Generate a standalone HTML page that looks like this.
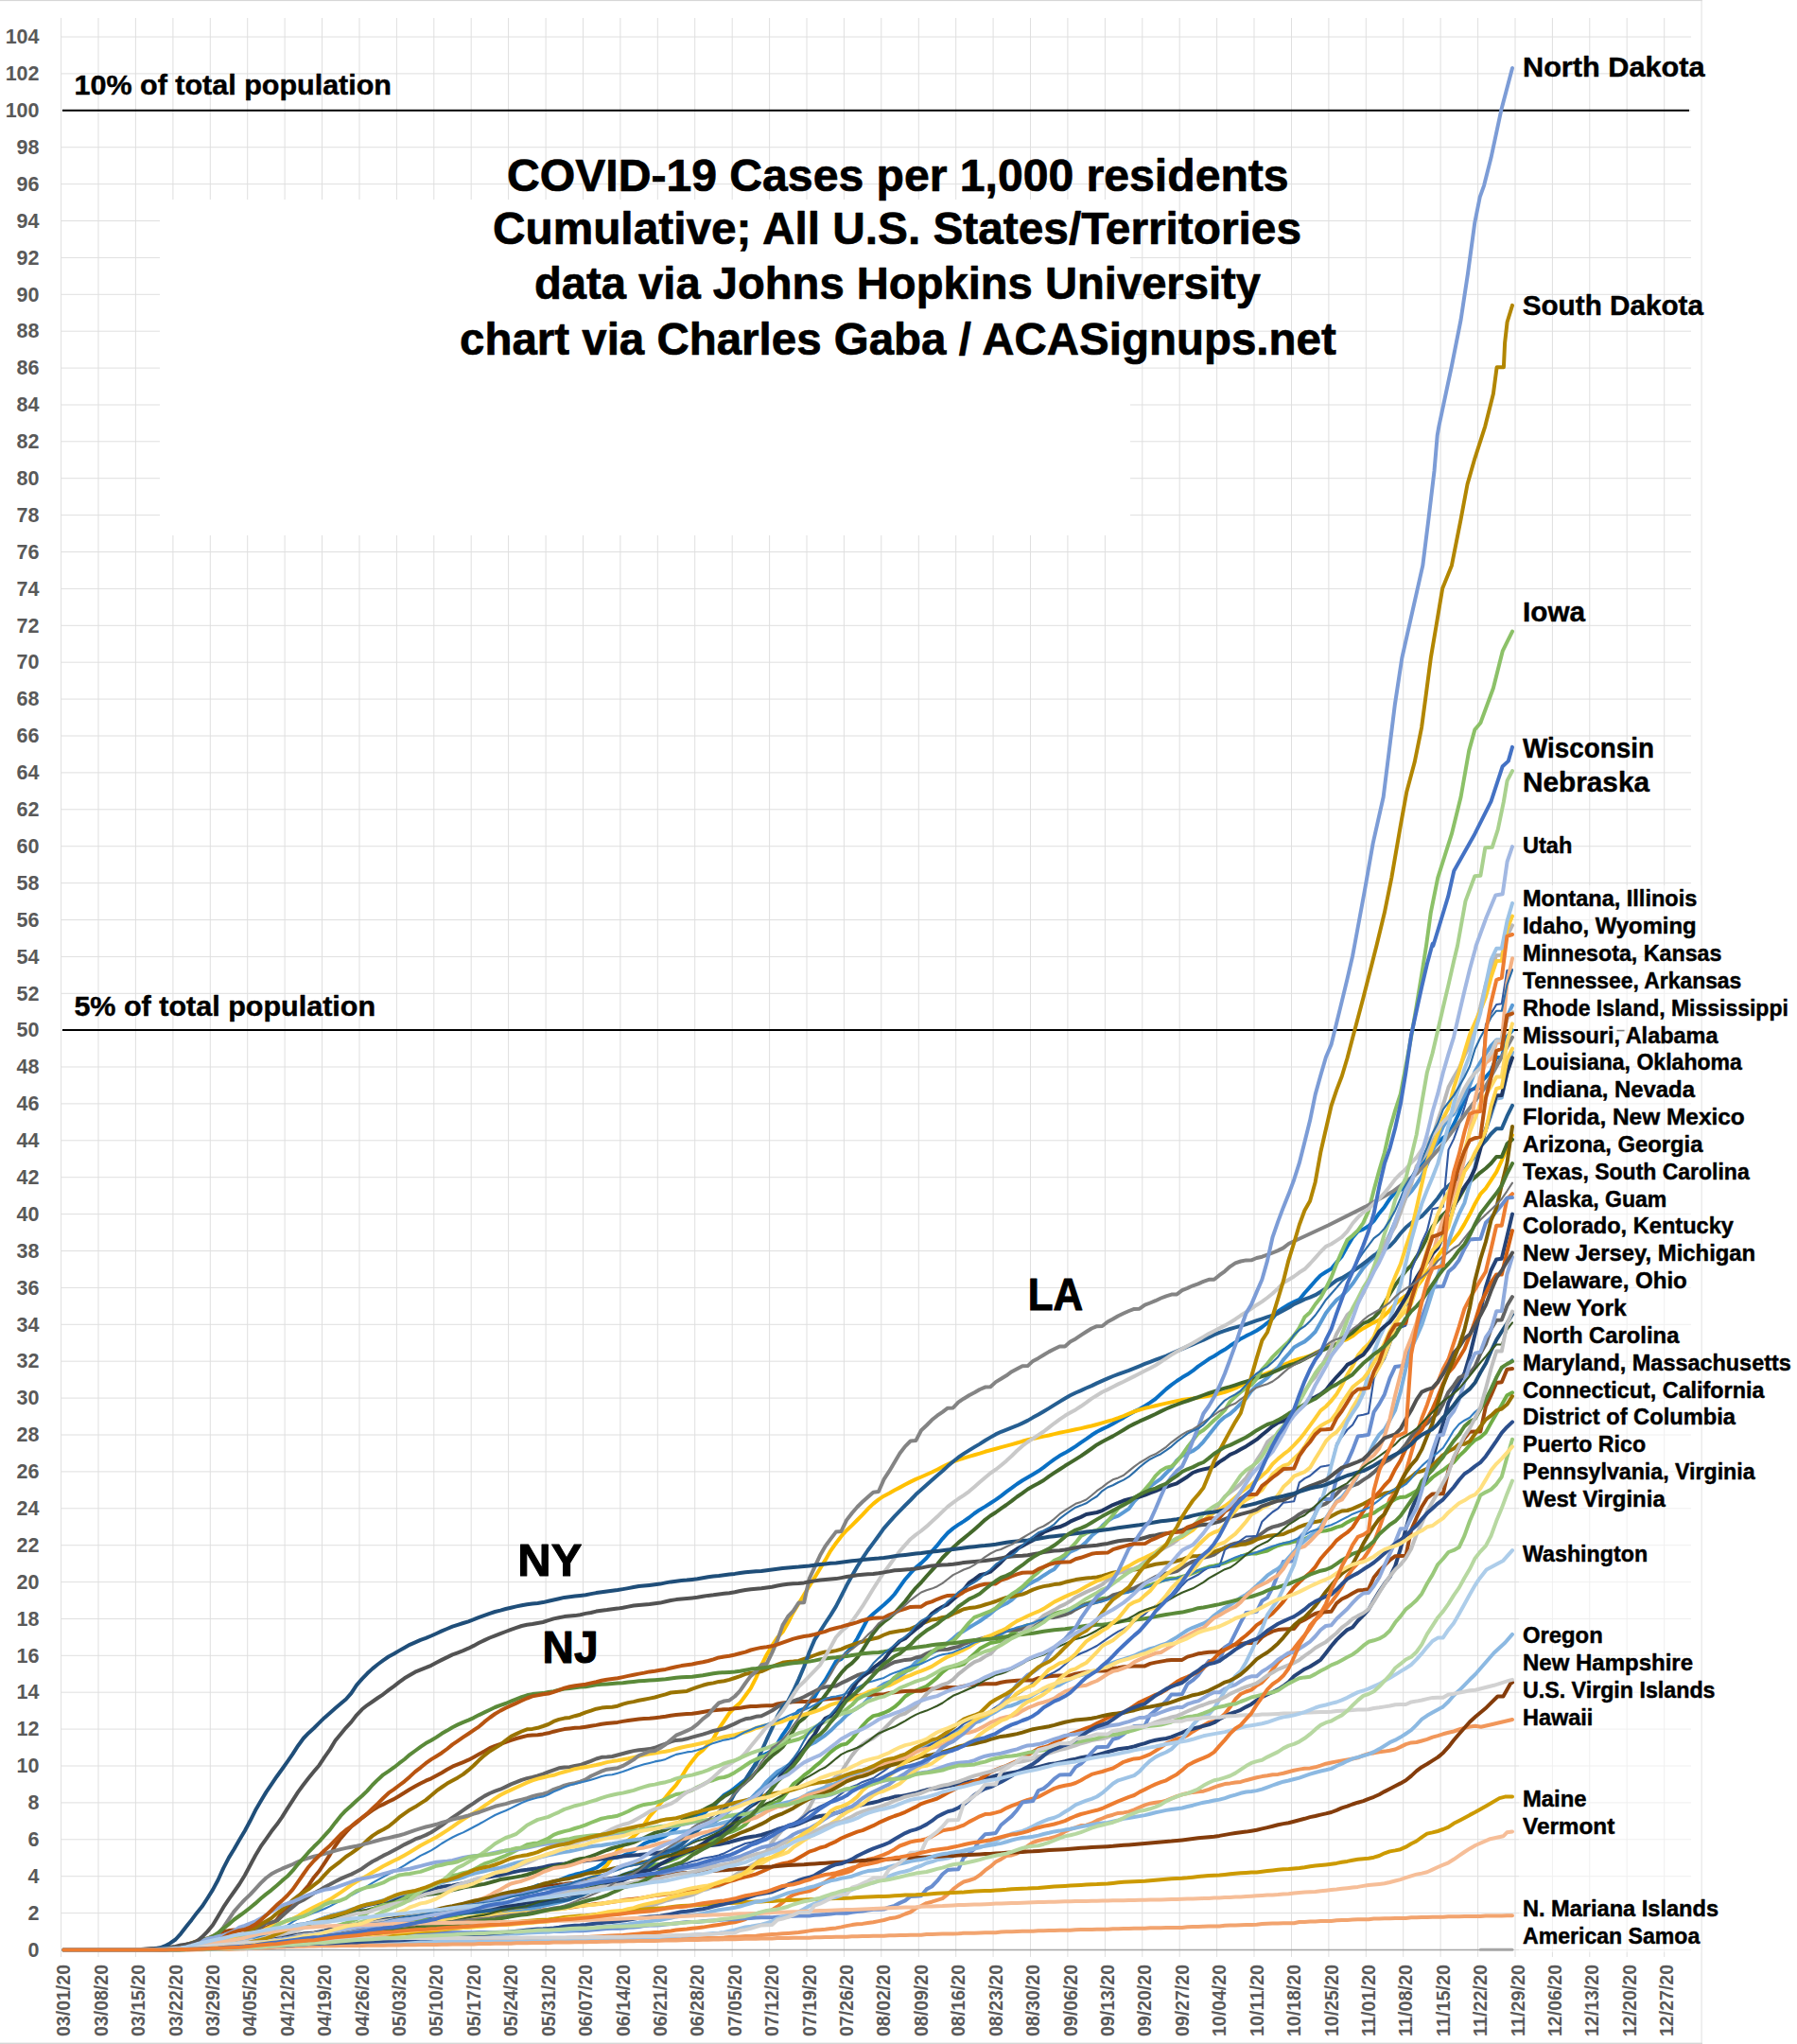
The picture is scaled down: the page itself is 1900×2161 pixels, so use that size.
<!DOCTYPE html>
<html lang="en"><head><meta charset="utf-8"><title>COVID-19 Cases per 1,000 residents</title>
<style>html,body{margin:0;padding:0;background:#fff}body{width:1900px;height:2161px;overflow:hidden;font-family:"Liberation Sans",sans-serif}svg{display:block}</style>
</head><body>
<svg width="1900" height="2161" viewBox="0 0 1900 2161" font-family="'Liberation Sans', sans-serif"><rect x="0" y="0" width="1800" height="1.1" fill="#d6d6d6"/>
<rect x="0" y="2159.6" width="1800" height="1.4" fill="#d6d6d6"/>
<g stroke="#dfdfdf" stroke-width="1" fill="none"><line x1="64.6" y1="19" x2="64.6" y2="2069"/><line x1="104.0" y1="19" x2="104.0" y2="2069"/><line x1="143.4" y1="19" x2="143.4" y2="2069"/><line x1="182.9" y1="19" x2="182.9" y2="2069"/><line x1="222.3" y1="19" x2="222.3" y2="2069"/><line x1="261.7" y1="19" x2="261.7" y2="2069"/><line x1="301.1" y1="19" x2="301.1" y2="2069"/><line x1="340.5" y1="19" x2="340.5" y2="2069"/><line x1="380.0" y1="19" x2="380.0" y2="2069"/><line x1="419.4" y1="19" x2="419.4" y2="2069"/><line x1="458.8" y1="19" x2="458.8" y2="2069"/><line x1="498.2" y1="19" x2="498.2" y2="2069"/><line x1="537.6" y1="19" x2="537.6" y2="2069"/><line x1="577.1" y1="19" x2="577.1" y2="2069"/><line x1="616.5" y1="19" x2="616.5" y2="2069"/><line x1="655.9" y1="19" x2="655.9" y2="2069"/><line x1="695.3" y1="19" x2="695.3" y2="2069"/><line x1="734.7" y1="19" x2="734.7" y2="2069"/><line x1="774.2" y1="19" x2="774.2" y2="2069"/><line x1="813.6" y1="19" x2="813.6" y2="2069"/><line x1="853.0" y1="19" x2="853.0" y2="2069"/><line x1="892.4" y1="19" x2="892.4" y2="2069"/><line x1="931.8" y1="19" x2="931.8" y2="2069"/><line x1="971.3" y1="19" x2="971.3" y2="2069"/><line x1="1010.7" y1="19" x2="1010.7" y2="2069"/><line x1="1050.1" y1="19" x2="1050.1" y2="2069"/><line x1="1089.5" y1="19" x2="1089.5" y2="2069"/><line x1="1128.9" y1="19" x2="1128.9" y2="2069"/><line x1="1168.4" y1="19" x2="1168.4" y2="2069"/><line x1="1207.8" y1="19" x2="1207.8" y2="2069"/><line x1="1247.2" y1="19" x2="1247.2" y2="2069"/><line x1="1286.6" y1="19" x2="1286.6" y2="2069"/><line x1="1326.0" y1="19" x2="1326.0" y2="2069"/><line x1="1365.5" y1="19" x2="1365.5" y2="2069"/><line x1="1404.9" y1="19" x2="1404.9" y2="2069"/><line x1="1444.3" y1="19" x2="1444.3" y2="2069"/><line x1="1483.7" y1="19" x2="1483.7" y2="2069"/><line x1="1523.1" y1="19" x2="1523.1" y2="2069"/><line x1="1562.6" y1="19" x2="1562.6" y2="2069"/><line x1="1602.0" y1="19" x2="1602.0" y2="2069"/><line x1="1641.4" y1="19" x2="1641.4" y2="2069"/><line x1="1680.8" y1="19" x2="1680.8" y2="2069"/><line x1="1720.2" y1="19" x2="1720.2" y2="2069"/><line x1="1759.7" y1="19" x2="1759.7" y2="2069"/><line x1="1799.1" y1="0" x2="1799.1" y2="2160"/><line x1="64.6" y1="2061.5" x2="1788" y2="2061.5"/><line x1="64.6" y1="2022.6" x2="1788" y2="2022.6"/><line x1="64.6" y1="1983.7" x2="1788" y2="1983.7"/><line x1="64.6" y1="1944.8" x2="1788" y2="1944.8"/><line x1="64.6" y1="1905.9" x2="1788" y2="1905.9"/><line x1="64.6" y1="1867.0" x2="1788" y2="1867.0"/><line x1="64.6" y1="1828.1" x2="1788" y2="1828.1"/><line x1="64.6" y1="1789.2" x2="1788" y2="1789.2"/><line x1="64.6" y1="1750.3" x2="1788" y2="1750.3"/><line x1="64.6" y1="1711.5" x2="1788" y2="1711.5"/><line x1="64.6" y1="1672.6" x2="1788" y2="1672.6"/><line x1="64.6" y1="1633.7" x2="1788" y2="1633.7"/><line x1="64.6" y1="1594.8" x2="1788" y2="1594.8"/><line x1="64.6" y1="1555.9" x2="1788" y2="1555.9"/><line x1="64.6" y1="1517.0" x2="1788" y2="1517.0"/><line x1="64.6" y1="1478.1" x2="1788" y2="1478.1"/><line x1="64.6" y1="1439.2" x2="1788" y2="1439.2"/><line x1="64.6" y1="1400.3" x2="1788" y2="1400.3"/><line x1="64.6" y1="1361.4" x2="1788" y2="1361.4"/><line x1="64.6" y1="1322.5" x2="1788" y2="1322.5"/><line x1="64.6" y1="1283.6" x2="1788" y2="1283.6"/><line x1="64.6" y1="1244.7" x2="1788" y2="1244.7"/><line x1="64.6" y1="1205.8" x2="1788" y2="1205.8"/><line x1="64.6" y1="1166.9" x2="1788" y2="1166.9"/><line x1="64.6" y1="1128.0" x2="1788" y2="1128.0"/><line x1="64.6" y1="1089.2" x2="1788" y2="1089.2"/><line x1="64.6" y1="1050.3" x2="1788" y2="1050.3"/><line x1="64.6" y1="1011.4" x2="1788" y2="1011.4"/><line x1="64.6" y1="972.5" x2="1788" y2="972.5"/><line x1="64.6" y1="933.6" x2="1788" y2="933.6"/><line x1="64.6" y1="894.7" x2="1788" y2="894.7"/><line x1="64.6" y1="855.8" x2="1788" y2="855.8"/><line x1="64.6" y1="816.9" x2="1788" y2="816.9"/><line x1="64.6" y1="778.0" x2="1788" y2="778.0"/><line x1="64.6" y1="739.1" x2="1788" y2="739.1"/><line x1="64.6" y1="700.2" x2="1788" y2="700.2"/><line x1="64.6" y1="661.3" x2="1788" y2="661.3"/><line x1="64.6" y1="622.4" x2="1788" y2="622.4"/><line x1="64.6" y1="583.5" x2="1788" y2="583.5"/><line x1="64.6" y1="544.6" x2="1788" y2="544.6"/><line x1="64.6" y1="505.7" x2="1788" y2="505.7"/><line x1="64.6" y1="466.8" x2="1788" y2="466.8"/><line x1="64.6" y1="428.0" x2="1788" y2="428.0"/><line x1="64.6" y1="389.1" x2="1788" y2="389.1"/><line x1="64.6" y1="350.2" x2="1788" y2="350.2"/><line x1="64.6" y1="311.3" x2="1788" y2="311.3"/><line x1="64.6" y1="272.4" x2="1788" y2="272.4"/><line x1="64.6" y1="233.5" x2="1788" y2="233.5"/><line x1="64.6" y1="194.6" x2="1788" y2="194.6"/><line x1="64.6" y1="155.7" x2="1788" y2="155.7"/><line x1="64.6" y1="116.8" x2="1788" y2="116.8"/><line x1="64.6" y1="77.9" x2="1788" y2="77.9"/><line x1="64.6" y1="39.0" x2="1788" y2="39.0"/></g>
<rect x="169" y="211" width="1026" height="355" fill="#fff"/>
<g font-size="21.5" font-weight="700" fill="#595959" text-anchor="end"><text x="41.5" y="2068.7">0</text><text x="41.5" y="2029.8">2</text><text x="41.5" y="1990.9">4</text><text x="41.5" y="1952.0">6</text><text x="41.5" y="1913.1">8</text><text x="41.5" y="1874.2">10</text><text x="41.5" y="1835.3">12</text><text x="41.5" y="1796.4">14</text><text x="41.5" y="1757.5">16</text><text x="41.5" y="1718.7">18</text><text x="41.5" y="1679.8">20</text><text x="41.5" y="1640.9">22</text><text x="41.5" y="1602.0">24</text><text x="41.5" y="1563.1">26</text><text x="41.5" y="1524.2">28</text><text x="41.5" y="1485.3">30</text><text x="41.5" y="1446.4">32</text><text x="41.5" y="1407.5">34</text><text x="41.5" y="1368.6">36</text><text x="41.5" y="1329.7">38</text><text x="41.5" y="1290.8">40</text><text x="41.5" y="1251.9">42</text><text x="41.5" y="1213.0">44</text><text x="41.5" y="1174.1">46</text><text x="41.5" y="1135.2">48</text><text x="41.5" y="1096.4">50</text><text x="41.5" y="1057.5">52</text><text x="41.5" y="1018.6">54</text><text x="41.5" y="979.7">56</text><text x="41.5" y="940.8">58</text><text x="41.5" y="901.9">60</text><text x="41.5" y="863.0">62</text><text x="41.5" y="824.1">64</text><text x="41.5" y="785.2">66</text><text x="41.5" y="746.3">68</text><text x="41.5" y="707.4">70</text><text x="41.5" y="668.5">72</text><text x="41.5" y="629.6">74</text><text x="41.5" y="590.7">76</text><text x="41.5" y="551.8">78</text><text x="41.5" y="512.9">80</text><text x="41.5" y="474.0">82</text><text x="41.5" y="435.2">84</text><text x="41.5" y="396.3">86</text><text x="41.5" y="357.4">88</text><text x="41.5" y="318.5">90</text><text x="41.5" y="279.6">92</text><text x="41.5" y="240.7">94</text><text x="41.5" y="201.8">96</text><text x="41.5" y="162.9">98</text><text x="41.5" y="124.0">100</text><text x="41.5" y="85.1">102</text><text x="41.5" y="46.2">104</text></g>
<g font-size="19.8" font-weight="700" fill="#595959"><text transform="translate(74.2,2153) rotate(-90)" textLength="76" lengthAdjust="spacingAndGlyphs">03/01/20</text><text transform="translate(113.6,2153) rotate(-90)" textLength="76" lengthAdjust="spacingAndGlyphs">03/08/20</text><text transform="translate(153.0,2153) rotate(-90)" textLength="76" lengthAdjust="spacingAndGlyphs">03/15/20</text><text transform="translate(192.5,2153) rotate(-90)" textLength="76" lengthAdjust="spacingAndGlyphs">03/22/20</text><text transform="translate(231.9,2153) rotate(-90)" textLength="76" lengthAdjust="spacingAndGlyphs">03/29/20</text><text transform="translate(271.3,2153) rotate(-90)" textLength="76" lengthAdjust="spacingAndGlyphs">04/05/20</text><text transform="translate(310.7,2153) rotate(-90)" textLength="76" lengthAdjust="spacingAndGlyphs">04/12/20</text><text transform="translate(350.1,2153) rotate(-90)" textLength="76" lengthAdjust="spacingAndGlyphs">04/19/20</text><text transform="translate(389.6,2153) rotate(-90)" textLength="76" lengthAdjust="spacingAndGlyphs">04/26/20</text><text transform="translate(429.0,2153) rotate(-90)" textLength="76" lengthAdjust="spacingAndGlyphs">05/03/20</text><text transform="translate(468.4,2153) rotate(-90)" textLength="76" lengthAdjust="spacingAndGlyphs">05/10/20</text><text transform="translate(507.8,2153) rotate(-90)" textLength="76" lengthAdjust="spacingAndGlyphs">05/17/20</text><text transform="translate(547.2,2153) rotate(-90)" textLength="76" lengthAdjust="spacingAndGlyphs">05/24/20</text><text transform="translate(586.7,2153) rotate(-90)" textLength="76" lengthAdjust="spacingAndGlyphs">05/31/20</text><text transform="translate(626.1,2153) rotate(-90)" textLength="76" lengthAdjust="spacingAndGlyphs">06/07/20</text><text transform="translate(665.5,2153) rotate(-90)" textLength="76" lengthAdjust="spacingAndGlyphs">06/14/20</text><text transform="translate(704.9,2153) rotate(-90)" textLength="76" lengthAdjust="spacingAndGlyphs">06/21/20</text><text transform="translate(744.3,2153) rotate(-90)" textLength="76" lengthAdjust="spacingAndGlyphs">06/28/20</text><text transform="translate(783.8,2153) rotate(-90)" textLength="76" lengthAdjust="spacingAndGlyphs">07/05/20</text><text transform="translate(823.2,2153) rotate(-90)" textLength="76" lengthAdjust="spacingAndGlyphs">07/12/20</text><text transform="translate(862.6,2153) rotate(-90)" textLength="76" lengthAdjust="spacingAndGlyphs">07/19/20</text><text transform="translate(902.0,2153) rotate(-90)" textLength="76" lengthAdjust="spacingAndGlyphs">07/26/20</text><text transform="translate(941.4,2153) rotate(-90)" textLength="76" lengthAdjust="spacingAndGlyphs">08/02/20</text><text transform="translate(980.9,2153) rotate(-90)" textLength="76" lengthAdjust="spacingAndGlyphs">08/09/20</text><text transform="translate(1020.3,2153) rotate(-90)" textLength="76" lengthAdjust="spacingAndGlyphs">08/16/20</text><text transform="translate(1059.7,2153) rotate(-90)" textLength="76" lengthAdjust="spacingAndGlyphs">08/23/20</text><text transform="translate(1099.1,2153) rotate(-90)" textLength="76" lengthAdjust="spacingAndGlyphs">08/30/20</text><text transform="translate(1138.5,2153) rotate(-90)" textLength="76" lengthAdjust="spacingAndGlyphs">09/06/20</text><text transform="translate(1178.0,2153) rotate(-90)" textLength="76" lengthAdjust="spacingAndGlyphs">09/13/20</text><text transform="translate(1217.4,2153) rotate(-90)" textLength="76" lengthAdjust="spacingAndGlyphs">09/20/20</text><text transform="translate(1256.8,2153) rotate(-90)" textLength="76" lengthAdjust="spacingAndGlyphs">09/27/20</text><text transform="translate(1296.2,2153) rotate(-90)" textLength="76" lengthAdjust="spacingAndGlyphs">10/04/20</text><text transform="translate(1335.6,2153) rotate(-90)" textLength="76" lengthAdjust="spacingAndGlyphs">10/11/20</text><text transform="translate(1375.1,2153) rotate(-90)" textLength="76" lengthAdjust="spacingAndGlyphs">10/18/20</text><text transform="translate(1414.5,2153) rotate(-90)" textLength="76" lengthAdjust="spacingAndGlyphs">10/25/20</text><text transform="translate(1453.9,2153) rotate(-90)" textLength="76" lengthAdjust="spacingAndGlyphs">11/01/20</text><text transform="translate(1493.3,2153) rotate(-90)" textLength="76" lengthAdjust="spacingAndGlyphs">11/08/20</text><text transform="translate(1532.7,2153) rotate(-90)" textLength="76" lengthAdjust="spacingAndGlyphs">11/15/20</text><text transform="translate(1572.2,2153) rotate(-90)" textLength="76" lengthAdjust="spacingAndGlyphs">11/22/20</text><text transform="translate(1611.6,2153) rotate(-90)" textLength="76" lengthAdjust="spacingAndGlyphs">11/29/20</text><text transform="translate(1651.0,2153) rotate(-90)" textLength="76" lengthAdjust="spacingAndGlyphs">12/06/20</text><text transform="translate(1690.4,2153) rotate(-90)" textLength="76" lengthAdjust="spacingAndGlyphs">12/13/20</text><text transform="translate(1729.8,2153) rotate(-90)" textLength="76" lengthAdjust="spacingAndGlyphs">12/20/20</text><text transform="translate(1769.3,2153) rotate(-90)" textLength="76" lengthAdjust="spacingAndGlyphs">12/27/20</text></g>
<line x1="66" y1="116.8" x2="1786" y2="116.8" stroke="#000" stroke-width="2"/>
<line x1="66" y1="1089.1" x2="1605" y2="1089.1" stroke="#000" stroke-width="2"/>
<line x1="1709.5" y1="1089.6" x2="1717.5" y2="1089.6" stroke="#000" stroke-width="1.6"/>
<g fill="none" stroke-linejoin="round" stroke-linecap="round"><polyline points="67.3,2061.5 72.9,2061.5 78.6,2061.5 84.2,2061.5 89.8,2061.5 95.5,2061.5 101.1,2061.5 106.7,2061.5 112.4,2061.5 118.0,2061.5 123.6,2061.5 129.2,2061.5 134.9,2061.5 140.5,2061.5 146.1,2061.5 151.8,2061.5 157.4,2061.4 163.0,2061.4 168.7,2061.3 174.3,2061.3 179.9,2061.3 185.6,2061.2 191.2,2061.1 196.8,2060.8 202.5,2060.4 208.1,2059.9 213.7,2059.6 219.3,2059.3 225.0,2059.2 230.6,2059.0 236.2,2058.6 241.9,2058.0 247.5,2057.5 253.1,2056.8 258.8,2056.4 264.4,2055.8 270.0,2055.1 275.7,2054.3 281.3,2053.2 286.9,2052.2 292.6,2051.2 298.2,2050.7 303.8,2050.1 309.5,2049.0 315.1,2047.7 320.7,2046.6 326.3,2045.5 332.0,2044.7 337.6,2044.2 343.2,2043.8 348.9,2042.8 354.5,2042.1 360.1,2041.0 365.8,2039.8 371.4,2039.1 377.0,2038.6 382.7,2037.8 388.3,2036.7 393.9,2035.7 399.6,2034.5 405.2,2032.8 410.8,2031.6 416.4,2030.9 422.1,2030.4 427.7,2029.7 433.3,2028.6 439.0,2026.9 444.6,2025.5 450.2,2024.7 455.9,2023.6 461.5,2022.7 467.1,2021.4 472.8,2019.7 478.4,2018.3 484.0,2016.3 489.7,2014.8 495.3,2014.1 500.9,2013.5 506.6,2012.5 512.2,2010.9 517.8,2009.4 523.4,2007.6 529.1,2005.7 534.7,2004.7 540.3,2004.0 546.0,2002.3 551.6,1999.9 557.2,1997.1 562.9,1995.5 568.5,1993.3 574.1,1992.4 579.8,1991.6 585.4,1989.5 591.0,1987.9 596.7,1985.7 602.3,1983.4 607.9,1981.8 613.5,1980.5 619.2,1978.8 624.8,1976.8 630.4,1974.7 636.1,1971.0 641.7,1967.2 647.3,1964.6 653.0,1963.5 658.6,1962.1 664.2,1959.5 669.9,1957.0 675.5,1953.1 681.1,1949.2 686.8,1946.9 692.4,1945.7 698.0,1943.4 703.7,1940.9 709.3,1937.4 714.9,1933.0 720.5,1928.0 726.2,1923.9 731.8,1922.0 737.4,1919.5 743.1,1918.3 748.7,1913.1 754.3,1909.6 760.0,1903.3 765.6,1897.8 771.2,1894.6 776.9,1890.4 782.5,1885.7 788.1,1881.7 793.8,1873.2 799.4,1863.6 805.0,1856.7 810.6,1853.9 816.3,1850.7 821.9,1843.5 827.5,1834.1 833.2,1826.1 838.8,1815.1 844.4,1808.8 850.1,1806.6 855.7,1800.0 861.3,1793.9 867.0,1784.2 872.6,1776.2 878.2,1766.5 883.9,1756.6 889.5,1753.9 895.1,1747.4 900.8,1741.4 906.4,1732.3 912.0,1721.7 917.6,1711.4 923.3,1706.3 928.9,1701.4 934.5,1696.7 940.2,1691.6 945.8,1685.5 951.4,1677.6 957.1,1669.7 962.7,1663.2 968.3,1657.4 974.0,1652.6 979.6,1647.2 985.2,1640.4 990.9,1633.9 996.5,1626.8 1002.1,1620.6 1007.7,1615.9 1013.4,1611.9 1019.0,1608.4 1024.6,1604.5 1030.3,1600.0 1035.9,1596.2 1041.5,1592.9 1047.2,1589.3 1052.8,1585.6 1058.4,1581.6 1064.1,1577.2 1069.7,1573.2 1075.3,1569.0 1081.0,1565.3 1086.6,1562.0 1092.2,1558.7 1097.9,1555.3 1103.5,1551.4 1109.1,1547.0 1114.7,1542.9 1120.4,1539.1 1126.0,1536.1 1131.6,1532.8 1137.3,1529.1 1142.9,1525.1 1148.5,1521.4 1154.2,1517.3 1159.8,1513.7 1165.4,1510.9 1171.1,1508.3 1176.7,1505.2 1182.3,1502.0 1188.0,1498.9 1193.6,1495.6 1199.2,1492.4 1204.8,1489.7 1210.5,1486.4 1216.1,1482.9 1221.7,1479.0 1227.4,1473.8 1233.0,1468.6 1238.6,1464.1 1244.3,1460.0 1249.9,1456.3 1255.5,1453.1 1261.2,1449.2 1266.8,1444.6 1272.4,1440.8 1278.1,1436.8 1283.7,1433.7 1289.3,1430.1 1295.0,1426.8 1300.6,1422.8 1306.2,1419.3 1311.8,1415.4 1317.5,1412.4 1323.1,1409.8 1328.7,1406.7 1334.4,1403.0 1340.0,1398.7 1345.6,1393.8 1351.3,1386.4 1356.9,1382.6 1362.5,1379.3 1368.2,1376.4 1373.8,1373.9 1379.4,1367.0 1385.1,1360.6 1390.7,1354.2 1396.3,1348.4 1401.9,1344.8 1407.6,1341.4 1413.2,1334.6 1418.8,1328.1 1424.5,1317.8 1430.1,1308.4 1435.7,1301.9 1441.4,1299.6 1447.0,1296.2 1452.6,1290.8 1458.3,1282.7 1463.9,1275.9 1469.5,1267.4 1475.2,1260.4 1480.8,1257.9 1486.4,1253.8 1492.1,1245.7 1497.7,1239.3 1503.3,1229.8 1508.9,1222.0 1514.6,1214.7 1520.2,1208.3 1525.8,1203.0 1531.5,1199.1 1537.1,1188.5 1542.7,1176.6 1548.4,1162.3 1554.0,1153.2 1559.6,1150.3 1565.3,1144.2 1570.9,1138.8 1576.5,1132.2 1582.2,1118.0 1587.8,1118.0 1593.4,1096.2 1599.0,1089.2" stroke="#0a70c4" stroke-width="4.0"/>
<polyline points="67.3,2061.5 72.9,2061.5 78.6,2061.5 84.2,2061.5 89.8,2061.5 95.5,2061.5 101.1,2061.5 106.7,2061.5 112.4,2061.5 118.0,2061.5 123.6,2061.5 129.2,2061.5 134.9,2061.5 140.5,2061.5 146.1,2061.5 151.8,2061.5 157.4,2061.5 163.0,2061.5 168.7,2061.4 174.3,2061.4 179.9,2061.4 185.6,2061.4 191.2,2061.3 196.8,2061.2 202.5,2061.2 208.1,2061.0 213.7,2061.0 219.3,2060.9 225.0,2060.8 230.6,2060.6 236.2,2060.5 241.9,2060.3 247.5,2060.1 253.1,2059.9 258.8,2059.9 264.4,2059.8 270.0,2059.4 275.7,2059.0 281.3,2058.6 286.9,2058.4 292.6,2058.1 298.2,2057.9 303.8,2057.7 309.5,2057.3 315.1,2056.8 320.7,2056.3 326.3,2056.1 332.0,2055.9 337.6,2055.7 343.2,2055.6 348.9,2055.3 354.5,2054.7 360.1,2054.2 365.8,2053.7 371.4,2053.5 377.0,2053.3 382.7,2053.0 388.3,2052.8 393.9,2052.5 399.6,2052.1 405.2,2051.8 410.8,2051.7 416.4,2051.6 422.1,2051.5 427.7,2051.5 433.3,2051.3 439.0,2051.2 444.6,2051.1 450.2,2051.0 455.9,2051.0 461.5,2050.9 467.1,2050.9 472.8,2050.8 478.4,2050.7 484.0,2050.6 489.7,2050.6 495.3,2050.5 500.9,2050.5 506.6,2050.4 512.2,2050.4 517.8,2050.3 523.4,2050.2 529.1,2050.2 534.7,2050.1 540.3,2050.1 546.0,2050.0 551.6,2049.9 557.2,2049.8 562.9,2049.7 568.5,2049.6 574.1,2049.5 579.8,2049.4 585.4,2049.3 591.0,2049.1 596.7,2048.9 602.3,2048.7 607.9,2048.5 613.5,2048.3 619.2,2048.2 624.8,2047.8 630.4,2047.5 636.1,2047.2 641.7,2046.8 647.3,2046.4 653.0,2046.2 658.6,2046.1 664.2,2045.6 669.9,2045.0 675.5,2044.4 681.1,2043.7 686.8,2043.4 692.4,2043.1 698.0,2042.8 703.7,2042.0 709.3,2041.4 714.9,2040.6 720.5,2039.9 726.2,2039.5 731.8,2038.8 737.4,2038.2 743.1,2037.6 748.7,2036.6 754.3,2035.7 760.0,2034.9 765.6,2034.1 771.2,2033.0 776.9,2032.3 782.5,2030.9 788.1,2029.0 793.8,2025.5 799.4,2023.3 805.0,2022.2 810.6,2021.7 816.3,2019.3 821.9,2015.8 827.5,2011.5 833.2,2006.5 838.8,2003.3 844.4,2001.6 850.1,2000.3 855.7,1999.3 861.3,1997.0 867.0,1993.0 872.6,1989.7 878.2,1986.1 883.9,1982.4 889.5,1981.1 895.1,1979.6 900.8,1977.5 906.4,1973.0 912.0,1969.4 917.6,1965.9 923.3,1964.8 928.9,1962.8 934.5,1960.8 940.2,1958.3 945.8,1955.2 951.4,1951.5 957.1,1949.5 962.7,1947.4 968.3,1946.2 974.0,1945.5 979.6,1944.1 985.2,1941.6 990.9,1938.2 996.5,1935.4 1002.1,1934.2 1007.7,1933.6 1013.4,1931.6 1019.0,1929.6 1024.6,1926.1 1030.3,1923.2 1035.9,1920.3 1041.5,1918.1 1047.2,1917.7 1052.8,1916.4 1058.4,1914.8 1064.1,1911.6 1069.7,1909.2 1075.3,1907.1 1081.0,1905.0 1086.6,1903.0 1092.2,1901.5 1097.9,1899.7 1103.5,1896.7 1109.1,1893.8 1114.7,1890.9 1120.4,1889.0 1126.0,1887.7 1131.6,1886.8 1137.3,1885.0 1142.9,1882.2 1148.5,1878.9 1154.2,1875.9 1159.8,1874.4 1165.4,1873.0 1171.1,1871.1 1176.7,1869.5 1182.3,1866.3 1188.0,1862.8 1193.6,1861.0 1199.2,1859.4 1204.8,1859.0 1210.5,1856.8 1216.1,1854.6 1221.7,1851.1 1227.4,1847.4 1233.0,1843.4 1238.6,1841.1 1244.3,1838.4 1249.9,1837.2 1255.5,1834.6 1261.2,1830.7 1266.8,1827.4 1272.4,1824.3 1278.1,1821.0 1283.7,1820.0 1289.3,1817.3 1295.0,1811.9 1300.6,1804.8 1306.2,1796.5 1311.8,1791.0 1317.5,1788.5 1323.1,1786.6 1328.7,1782.0 1334.4,1778.7 1340.0,1772.7 1345.6,1765.0 1351.3,1757.6 1356.9,1752.1 1362.5,1749.3 1368.2,1742.8 1373.8,1735.5 1379.4,1728.7 1385.1,1721.4 1390.7,1712.9 1396.3,1707.7 1401.9,1700.7 1407.6,1694.0 1413.2,1686.4 1418.8,1677.9 1424.5,1666.5 1430.1,1658.6 1435.7,1652.6 1441.4,1648.2 1447.0,1640.0 1452.6,1631.0 1458.3,1615.8 1463.9,1599.8 1469.5,1584.8 1475.2,1577.7 1480.8,1567.0 1486.4,1556.1 1492.1,1536.4 1497.7,1516.9 1503.3,1499.5 1508.9,1485.2 1514.6,1468.4 1520.2,1461.4 1525.8,1447.5 1531.5,1437.0 1537.1,1419.8 1542.7,1402.6 1548.4,1383.6 1554.0,1372.7 1559.6,1363.3 1565.3,1353.6 1570.9,1344.5 1576.5,1320.8 1582.2,1295.7 1587.8,1295.7 1593.4,1267.6 1599.0,1262.2" stroke="#ed7d31" stroke-width="4.0"/>
<polyline points="67.3,2061.5 1565.3,2061.5" stroke="#a5a5a5" stroke-width="1.6"/>
<polyline points="1565.3,2061.2 1599.0,2061.2" stroke="#a5a5a5" stroke-width="3"/>
<polyline points="67.3,2061.5 72.9,2061.5 78.6,2061.5 84.2,2061.5 89.8,2061.5 95.5,2061.5 101.1,2061.5 106.7,2061.5 112.4,2061.5 118.0,2061.5 123.6,2061.5 129.2,2061.5 134.9,2061.5 140.5,2061.5 146.1,2061.5 151.8,2061.5 157.4,2061.4 163.0,2061.4 168.7,2061.4 174.3,2061.3 179.9,2061.3 185.6,2061.2 191.2,2061.2 196.8,2061.1 202.5,2060.9 208.1,2060.6 213.7,2060.3 219.3,2060.0 225.0,2059.8 230.6,2059.7 236.2,2059.4 241.9,2059.1 247.5,2058.6 253.1,2058.0 258.8,2057.4 264.4,2056.8 270.0,2056.5 275.7,2056.1 281.3,2055.6 286.9,2054.8 292.6,2053.9 298.2,2053.1 303.8,2052.6 309.5,2052.2 315.1,2051.7 320.7,2051.1 326.3,2050.3 332.0,2049.5 337.6,2048.9 343.2,2048.2 348.9,2047.8 354.5,2047.3 360.1,2046.6 365.8,2045.9 371.4,2045.2 377.0,2044.3 382.7,2043.6 388.3,2043.2 393.9,2042.7 399.6,2041.8 405.2,2040.7 410.8,2039.9 416.4,2039.0 422.1,2038.2 427.7,2037.6 433.3,2037.0 439.0,2036.4 444.6,2035.7 450.2,2034.8 455.9,2033.7 461.5,2032.9 467.1,2032.5 472.8,2031.9 478.4,2031.0 484.0,2030.0 489.7,2028.7 495.3,2027.5 500.9,2026.6 506.6,2025.7 512.2,2024.7 517.8,2023.8 523.4,2022.7 529.1,2021.5 534.7,2020.3 540.3,2019.0 546.0,2018.0 551.6,2017.1 557.2,2015.8 562.9,2014.2 568.5,2011.9 574.1,2010.2 579.8,2008.4 585.4,2007.3 591.0,2005.3 596.7,2003.4 602.3,1999.8 607.9,1996.3 613.5,1992.2 619.2,1988.9 624.8,1985.2 630.4,1983.0 636.1,1977.4 641.7,1972.0 647.3,1964.1 653.0,1956.4 658.6,1951.3 664.2,1945.5 669.9,1941.4 675.5,1936.4 681.1,1928.9 686.8,1920.4 692.4,1914.2 698.0,1906.9 703.7,1900.2 709.3,1893.3 714.9,1887.2 720.5,1878.8 726.2,1869.4 731.8,1862.0 737.4,1855.0 743.1,1850.4 748.7,1844.4 754.3,1838.0 760.0,1827.7 765.6,1819.5 771.2,1811.1 776.9,1805.1 782.5,1800.4 788.1,1792.7 793.8,1784.8 799.4,1773.9 805.0,1760.6 810.6,1749.5 816.3,1739.9 821.9,1731.3 827.5,1725.4 833.2,1715.5 838.8,1704.6 844.4,1695.5 850.1,1686.0 855.7,1676.9 861.3,1667.9 867.0,1658.5 872.6,1649.4 878.2,1639.6 883.9,1631.5 889.5,1624.2 895.1,1618.0 900.8,1612.6 906.4,1607.0 912.0,1601.3 917.6,1595.3 923.3,1589.9 928.9,1585.4 934.5,1581.7 940.2,1578.7 945.8,1575.5 951.4,1572.6 957.1,1569.5 962.7,1566.6 968.3,1563.9 974.0,1561.5 979.6,1559.0 985.2,1556.5 990.9,1553.7 996.5,1550.9 1002.1,1548.1 1007.7,1545.5 1013.4,1543.3 1019.0,1541.7 1024.6,1539.9 1030.3,1538.3 1035.9,1536.7 1041.5,1534.8 1047.2,1533.2 1052.8,1531.7 1058.4,1530.1 1064.1,1528.6 1069.7,1527.1 1075.3,1525.5 1081.0,1523.8 1086.6,1522.3 1092.2,1521.0 1097.9,1519.7 1103.5,1518.6 1109.1,1517.5 1114.7,1516.1 1120.4,1514.8 1126.0,1513.6 1131.6,1512.5 1137.3,1511.3 1142.9,1510.1 1148.5,1508.8 1154.2,1507.5 1159.8,1506.0 1165.4,1504.4 1171.1,1502.7 1176.7,1501.1 1182.3,1499.2 1188.0,1497.0 1193.6,1494.6 1199.2,1492.4 1204.8,1490.5 1210.5,1488.8 1216.1,1487.6 1221.7,1486.2 1227.4,1484.9 1233.0,1483.6 1238.6,1482.4 1244.3,1481.1 1249.9,1480.0 1255.5,1479.2 1261.2,1478.5 1266.8,1477.6 1272.4,1476.7 1278.1,1475.8 1283.7,1474.7 1289.3,1473.4 1295.0,1471.9 1300.6,1469.9 1306.2,1467.7 1311.8,1465.0 1317.5,1461.9 1323.1,1458.8 1328.7,1456.3 1334.4,1454.1 1340.0,1451.7 1345.6,1449.6 1351.3,1446.3 1356.9,1443.0 1362.5,1440.8 1368.2,1438.4 1373.8,1436.6 1379.4,1435.2 1385.1,1433.4 1390.7,1430.4 1396.3,1427.8 1401.9,1425.2 1407.6,1422.3 1413.2,1420.4 1418.8,1418.0 1424.5,1415.8 1430.1,1412.6 1435.7,1408.0 1441.4,1404.4 1447.0,1401.3 1452.6,1398.1 1458.3,1395.5 1463.9,1390.6 1469.5,1385.2 1475.2,1378.8 1480.8,1373.9 1486.4,1369.9 1492.1,1366.3 1497.7,1360.7 1503.3,1353.6 1508.9,1344.5 1514.6,1336.8 1520.2,1328.1 1525.8,1320.3 1531.5,1316.1 1537.1,1310.6 1542.7,1303.5 1548.4,1294.1 1554.0,1283.8 1559.6,1272.5 1565.3,1262.4 1570.9,1256.3 1576.5,1247.8 1582.2,1239.2 1587.8,1227.0 1593.4,1213.7 1599.0,1200.0" stroke="#ffc000" stroke-width="4.0"/>
<polyline points="67.3,2061.5 72.9,2061.5 78.6,2061.5 84.2,2061.5 89.8,2061.5 95.5,2061.5 101.1,2061.5 106.7,2061.5 112.4,2061.5 118.0,2061.5 123.6,2061.5 129.2,2061.5 134.9,2061.5 140.5,2061.5 146.1,2061.5 151.8,2061.5 157.4,2061.4 163.0,2061.4 168.7,2061.3 174.3,2061.3 179.9,2061.2 185.6,2061.1 191.2,2060.9 196.8,2060.7 202.5,2060.4 208.1,2060.2 213.7,2059.7 219.3,2059.2 225.0,2058.9 230.6,2058.7 236.2,2058.4 241.9,2058.1 247.5,2057.6 253.1,2057.1 258.8,2056.4 264.4,2056.0 270.0,2055.7 275.7,2055.4 281.3,2055.1 286.9,2054.7 292.6,2053.9 298.2,2053.3 303.8,2052.9 309.5,2052.6 315.1,2052.1 320.7,2051.7 326.3,2051.1 332.0,2050.3 337.6,2049.5 343.2,2048.6 348.9,2048.2 354.5,2047.8 360.1,2047.2 365.8,2046.6 371.4,2045.7 377.0,2044.8 382.7,2043.9 388.3,2043.3 393.9,2042.6 399.6,2041.8 405.2,2041.2 410.8,2040.1 416.4,2039.3 422.1,2038.3 427.7,2037.6 433.3,2037.1 439.0,2036.7 444.6,2035.9 450.2,2035.1 455.9,2034.1 461.5,2033.2 467.1,2032.5 472.8,2031.9 478.4,2031.5 484.0,2030.9 489.7,2030.0 495.3,2028.9 500.9,2028.2 506.6,2027.7 512.2,2027.0 517.8,2026.1 523.4,2025.4 529.1,2024.0 534.7,2022.9 540.3,2021.6 546.0,2021.1 551.6,2020.4 557.2,2019.7 562.9,2018.3 568.5,2016.8 574.1,2015.0 579.8,2013.9 585.4,2012.6 591.0,2011.3 596.7,2009.8 602.3,2008.3 607.9,2005.6 613.5,2003.1 619.2,2000.6 624.8,1998.7 630.4,1997.5 636.1,1995.2 641.7,1992.6 647.3,1989.6 653.0,1985.7 658.6,1982.1 664.2,1980.4 669.9,1978.0 675.5,1976.2 681.1,1972.0 686.8,1967.6 692.4,1962.6 698.0,1959.5 703.7,1956.0 709.3,1953.8 714.9,1951.4 720.5,1947.8 726.2,1943.3 731.8,1937.8 737.4,1934.0 743.1,1930.9 748.7,1929.1 754.3,1926.7 760.0,1923.1 765.6,1918.8 771.2,1914.1 776.9,1908.7 782.5,1906.4 788.1,1903.9 793.8,1901.6 799.4,1895.8 805.0,1890.7 810.6,1883.6 816.3,1878.2 821.9,1873.0 827.5,1870.0 833.2,1866.4 838.8,1862.4 844.4,1855.8 850.1,1849.5 855.7,1844.9 861.3,1842.3 867.0,1838.3 872.6,1834.5 878.2,1829.8 883.9,1824.1 889.5,1819.2 895.1,1813.4 900.8,1809.1 906.4,1805.8 912.0,1802.3 917.6,1796.7 923.3,1790.4 928.9,1784.1 934.5,1780.4 940.2,1778.1 945.8,1775.9 951.4,1772.4 957.1,1768.0 962.7,1763.3 968.3,1757.5 974.0,1752.7 979.6,1749.5 985.2,1747.5 990.9,1744.7 996.5,1741.3 1002.1,1736.7 1007.7,1732.3 1013.4,1727.2 1019.0,1724.4 1024.6,1720.8 1030.3,1717.4 1035.9,1714.0 1041.5,1710.0 1047.2,1706.0 1052.8,1701.3 1058.4,1697.9 1064.1,1695.3 1069.7,1691.5 1075.3,1686.4 1081.0,1679.9 1086.6,1675.6 1092.2,1672.4 1097.9,1669.5 1103.5,1665.7 1109.1,1662.1 1114.7,1658.9 1120.4,1652.3 1126.0,1646.0 1131.6,1640.6 1137.3,1638.2 1142.9,1635.0 1148.5,1630.2 1154.2,1623.8 1159.8,1619.3 1165.4,1613.3 1171.1,1608.0 1176.7,1604.6 1182.3,1602.6 1188.0,1598.9 1193.6,1595.1 1199.2,1587.3 1204.8,1581.8 1210.5,1575.3 1216.1,1571.5 1221.7,1567.4 1227.4,1563.4 1233.0,1557.5 1238.6,1552.0 1244.3,1544.0 1249.9,1539.3 1255.5,1536.6 1261.2,1534.0 1266.8,1530.1 1272.4,1524.3 1278.1,1517.1 1283.7,1510.1 1289.3,1503.1 1295.0,1498.1 1300.6,1494.7 1306.2,1489.7 1311.8,1484.0 1317.5,1478.6 1323.1,1470.7 1328.7,1464.9 1334.4,1461.0 1340.0,1456.6 1345.6,1450.6 1351.3,1445.8 1356.9,1437.6 1362.5,1431.4 1368.2,1424.5 1373.8,1421.3 1379.4,1418.4 1385.1,1413.6 1390.7,1408.0 1396.3,1398.3 1401.9,1388.3 1407.6,1380.9 1413.2,1374.4 1418.8,1370.0 1424.5,1364.2 1430.1,1357.3 1435.7,1349.0 1441.4,1340.7 1447.0,1334.5 1452.6,1329.3 1458.3,1322.1 1463.9,1316.3 1469.5,1305.0 1475.2,1291.6 1480.8,1277.9 1486.4,1266.0 1492.1,1259.7 1497.7,1252.0 1503.3,1243.1 1508.9,1231.2 1514.6,1217.6 1520.2,1204.1 1525.8,1191.1 1531.5,1182.3 1537.1,1177.6 1542.7,1167.9 1548.4,1158.0 1554.0,1147.5 1559.6,1132.5 1565.3,1123.1 1570.9,1113.9 1576.5,1105.6 1582.2,1099.5 1587.8,1099.4 1593.4,1075.3 1599.0,1062.9" stroke="#5b9bd5" stroke-width="4.0"/>
<polyline points="67.3,2061.5 72.9,2061.5 78.6,2061.5 84.2,2061.5 89.8,2061.5 95.5,2061.5 101.1,2061.5 106.7,2061.5 112.4,2061.5 118.0,2061.5 123.6,2061.5 129.2,2061.5 134.9,2061.5 140.5,2061.5 146.1,2061.5 151.8,2061.5 157.4,2061.4 163.0,2061.4 168.7,2061.4 174.3,2061.4 179.9,2061.4 185.6,2061.3 191.2,2061.2 196.8,2061.0 202.5,2060.6 208.1,2060.2 213.7,2059.8 219.3,2059.6 225.0,2059.4 230.6,2059.2 236.2,2058.9 241.9,2058.5 247.5,2057.8 253.1,2057.6 258.8,2057.1 264.4,2057.0 270.0,2056.3 275.7,2055.6 281.3,2054.1 286.9,2052.7 292.6,2051.6 298.2,2051.3 303.8,2050.9 309.5,2050.5 315.1,2049.8 320.7,2048.8 326.3,2048.0 332.0,2047.4 337.6,2046.9 343.2,2046.6 348.9,2045.7 354.5,2044.7 360.1,2043.9 365.8,2042.9 371.4,2042.0 377.0,2041.2 382.7,2040.5 388.3,2039.7 393.9,2038.7 399.6,2037.5 405.2,2036.2 410.8,2035.6 416.4,2035.2 422.1,2035.0 427.7,2034.5 433.3,2033.1 439.0,2031.6 444.6,2030.2 450.2,2029.5 455.9,2029.1 461.5,2028.8 467.1,2027.9 472.8,2027.1 478.4,2025.8 484.0,2024.7 489.7,2023.3 495.3,2022.4 500.9,2022.0 506.6,2021.6 512.2,2020.7 517.8,2018.8 523.4,2017.4 529.1,2016.2 534.7,2015.1 540.3,2014.9 546.0,2014.5 551.6,2012.9 557.2,2011.2 562.9,2009.7 568.5,2008.2 574.1,2007.7 579.8,2006.8 585.4,2005.8 591.0,2004.7 596.7,2002.3 602.3,2000.6 607.9,1999.4 613.5,1998.3 619.2,1997.6 624.8,1995.9 630.4,1993.7 636.1,1991.8 641.7,1988.9 647.3,1987.3 653.0,1986.2 658.6,1986.0 664.2,1984.5 669.9,1981.8 675.5,1978.3 681.1,1975.7 686.8,1972.9 692.4,1971.4 698.0,1970.7 703.7,1969.1 709.3,1967.2 714.9,1964.9 720.5,1961.9 726.2,1959.1 731.8,1957.1 737.4,1956.0 743.1,1953.3 748.7,1949.1 754.3,1945.7 760.0,1942.1 765.6,1938.5 771.2,1937.3 776.9,1935.3 782.5,1932.7 788.1,1928.8 793.8,1922.4 799.4,1915.4 805.0,1910.0 810.6,1908.4 816.3,1906.9 821.9,1905.4 827.5,1900.7 833.2,1893.7 838.8,1886.1 844.4,1882.2 850.1,1877.0 855.7,1873.0 861.3,1867.9 867.0,1863.4 872.6,1857.9 878.2,1852.4 883.9,1847.9 889.5,1844.8 895.1,1843.6 900.8,1838.4 906.4,1831.5 912.0,1824.5 917.6,1818.5 923.3,1814.1 928.9,1813.0 934.5,1811.0 940.2,1808.4 945.8,1804.7 951.4,1799.7 957.1,1793.5 962.7,1789.9 968.3,1787.5 974.0,1785.1 979.6,1782.9 985.2,1778.4 990.9,1773.7 996.5,1767.8 1002.1,1763.7 1007.7,1762.0 1013.4,1761.0 1019.0,1759.3 1024.6,1753.6 1030.3,1748.4 1035.9,1743.1 1041.5,1740.1 1047.2,1737.0 1052.8,1736.1 1058.4,1734.8 1064.1,1732.0 1069.7,1727.1 1075.3,1723.8 1081.0,1720.4 1086.6,1718.1 1092.2,1717.2 1097.9,1715.6 1103.5,1713.1 1109.1,1708.7 1114.7,1706.2 1120.4,1704.5 1126.0,1703.1 1131.6,1701.3 1137.3,1699.5 1142.9,1697.3 1148.5,1695.4 1154.2,1693.4 1159.8,1692.0 1165.4,1690.1 1171.1,1689.4 1176.7,1687.6 1182.3,1685.3 1188.0,1683.3 1193.6,1681.1 1199.2,1679.9 1204.8,1678.4 1210.5,1677.2 1216.1,1676.0 1221.7,1673.8 1227.4,1671.6 1233.0,1669.8 1238.6,1668.8 1244.3,1668.4 1249.9,1666.9 1255.5,1665.4 1261.2,1663.2 1266.8,1660.9 1272.4,1658.7 1278.1,1656.5 1283.7,1655.5 1289.3,1654.2 1295.0,1652.4 1300.6,1650.1 1306.2,1648.6 1311.8,1645.7 1317.5,1643.5 1323.1,1642.5 1328.7,1642.4 1334.4,1640.9 1340.0,1639.5 1345.6,1636.5 1351.3,1634.0 1356.9,1632.3 1362.5,1631.2 1368.2,1629.8 1373.8,1629.3 1379.4,1627.3 1385.1,1624.2 1390.7,1621.6 1396.3,1618.9 1401.9,1618.3 1407.6,1616.9 1413.2,1614.6 1418.8,1613.1 1424.5,1609.4 1430.1,1606.4 1435.7,1604.9 1441.4,1603.4 1447.0,1601.5 1452.6,1599.7 1458.3,1595.7 1463.9,1592.3 1469.5,1588.6 1475.2,1585.0 1480.8,1582.9 1486.4,1582.5 1492.1,1579.4 1497.7,1576.1 1503.3,1571.9 1508.9,1567.6 1514.6,1562.0 1520.2,1557.9 1525.8,1554.3 1531.5,1549.8 1537.1,1545.9 1542.7,1539.4 1548.4,1534.1 1554.0,1527.9 1559.6,1522.5 1565.3,1519.6 1570.9,1514.5 1576.5,1504.4 1582.2,1494.5 1587.8,1485.2 1593.4,1475.3 1599.0,1472.3" stroke="#70ad47" stroke-width="4.0"/>
<polyline points="67.3,2061.5 72.9,2061.5 78.6,2061.5 84.2,2061.5 89.8,2061.5 95.5,2061.5 101.1,2061.5 106.7,2061.5 112.4,2061.5 118.0,2061.5 123.6,2061.5 129.2,2061.5 134.9,2061.5 140.5,2061.5 146.1,2061.4 151.8,2061.3 157.4,2061.2 163.0,2061.1 168.7,2061.0 174.3,2060.8 179.9,2060.7 185.6,2060.4 191.2,2059.7 196.8,2059.1 202.5,2058.5 208.1,2058.0 213.7,2056.7 219.3,2055.2 225.0,2053.7 230.6,2052.7 236.2,2052.0 241.9,2051.2 247.5,2050.1 253.1,2049.2 258.8,2047.8 264.4,2046.6 270.0,2044.9 275.7,2044.2 281.3,2043.2 286.9,2042.7 292.6,2041.3 298.2,2040.0 303.8,2038.2 309.5,2036.6 315.1,2035.1 320.7,2034.4 326.3,2033.2 332.0,2031.9 337.6,2029.9 343.2,2027.5 348.9,2026.0 354.5,2024.1 360.1,2023.2 365.8,2022.3 371.4,2020.7 377.0,2018.7 382.7,2016.1 388.3,2014.4 393.9,2013.1 399.6,2012.1 405.2,2010.7 410.8,2009.6 416.4,2008.1 422.1,2006.5 427.7,2004.9 433.3,2003.5 439.0,2002.2 444.6,2000.9 450.2,1999.5 455.9,1997.7 461.5,1996.1 467.1,1994.9 472.8,1994.0 478.4,1993.4 484.0,1992.2 489.7,1991.2 495.3,1989.6 500.9,1987.8 506.6,1986.4 512.2,1985.3 517.8,1984.3 523.4,1983.2 529.1,1982.4 534.7,1981.1 540.3,1979.7 546.0,1978.6 551.6,1977.4 557.2,1976.8 562.9,1976.0 568.5,1975.3 574.1,1974.1 579.8,1972.8 585.4,1971.7 591.0,1971.0 596.7,1970.4 602.3,1969.6 607.9,1969.0 613.5,1968.2 619.2,1967.2 624.8,1966.5 630.4,1965.9 636.1,1965.4 641.7,1965.1 647.3,1964.3 653.0,1963.5 658.6,1962.6 664.2,1961.9 669.9,1961.4 675.5,1961.1 681.1,1960.6 686.8,1960.1 692.4,1959.3 698.0,1958.5 703.7,1957.7 709.3,1956.9 714.9,1956.5 720.5,1955.9 726.2,1955.2 731.8,1954.2 737.4,1953.3 743.1,1952.3 748.7,1951.4 754.3,1950.8 760.0,1950.0 765.6,1948.9 771.2,1947.7 776.9,1946.0 782.5,1944.5 788.1,1943.0 793.8,1942.0 799.4,1941.1 805.0,1940.0 810.6,1938.1 816.3,1936.3 821.9,1934.0 827.5,1932.4 833.2,1931.3 838.8,1930.3 844.4,1928.4 850.1,1925.9 855.7,1923.4 861.3,1921.5 867.0,1920.0 872.6,1919.2 878.2,1918.1 883.9,1916.8 889.5,1915.0 895.1,1913.2 900.8,1911.3 906.4,1909.4 912.0,1908.0 917.6,1906.9 923.3,1905.7 928.9,1904.4 934.5,1902.4 940.2,1901.2 945.8,1899.6 951.4,1899.1 957.1,1898.1 962.7,1897.0 968.3,1895.8 974.0,1894.0 979.6,1892.3 985.2,1891.3 990.9,1890.5 996.5,1889.5 1002.1,1888.3 1007.7,1887.4 1013.4,1885.9 1019.0,1884.9 1024.6,1883.6 1030.3,1882.7 1035.9,1881.8 1041.5,1880.6 1047.2,1879.1 1052.8,1877.3 1058.4,1876.2 1064.1,1875.3 1069.7,1874.2 1075.3,1873.3 1081.0,1872.5 1086.6,1871.1 1092.2,1869.5 1097.9,1868.1 1103.5,1866.6 1109.1,1865.3 1114.7,1864.6 1120.4,1863.4 1126.0,1862.2 1131.6,1860.7 1137.3,1859.6 1142.9,1858.3 1148.5,1857.3 1154.2,1856.7 1159.8,1855.5 1165.4,1853.9 1171.1,1852.2 1176.7,1850.7 1182.3,1849.3 1188.0,1848.4 1193.6,1847.7 1199.2,1846.5 1204.8,1844.6 1210.5,1843.1 1216.1,1841.1 1221.7,1839.7 1227.4,1838.7 1233.0,1838.0 1238.6,1836.4 1244.3,1834.0 1249.9,1831.8 1255.5,1829.2 1261.2,1827.7 1266.8,1826.3 1272.4,1824.7 1278.1,1823.4 1283.7,1821.2 1289.3,1817.6 1295.0,1814.6 1300.6,1811.8 1306.2,1810.0 1311.8,1807.8 1317.5,1804.6 1323.1,1801.7 1328.7,1797.7 1334.4,1794.2 1340.0,1791.5 1345.6,1789.0 1351.3,1786.1 1356.9,1782.5 1362.5,1778.3 1368.2,1772.2 1373.8,1768.4 1379.4,1764.7 1385.1,1762.0 1390.7,1758.5 1396.3,1754.8 1401.9,1747.7 1407.6,1740.3 1413.2,1733.6 1418.8,1728.3 1424.5,1723.1 1430.1,1720.5 1435.7,1713.5 1441.4,1707.8 1447.0,1701.8 1452.6,1692.1 1458.3,1682.6 1463.9,1674.3 1469.5,1667.3 1475.2,1655.6 1480.8,1637.4 1486.4,1616.5 1492.1,1596.6 1497.7,1583.8 1503.3,1571.7 1508.9,1561.5 1514.6,1543.1 1520.2,1522.7 1525.8,1505.0 1531.5,1482.8 1537.1,1471.8 1542.7,1462.0 1548.4,1451.8 1554.0,1433.2 1559.6,1410.3 1565.3,1386.1 1570.9,1360.8 1576.5,1343.0 1582.2,1331.5 1587.8,1330.8 1593.4,1307.5 1599.0,1283.6" stroke="#264478" stroke-width="4.0"/>
<polyline points="67.3,2061.5 72.9,2061.5 78.6,2061.5 84.2,2061.5 89.8,2061.5 95.5,2061.5 101.1,2061.5 106.7,2061.5 112.4,2061.5 118.0,2061.5 123.6,2061.5 129.2,2061.5 134.9,2061.5 140.5,2061.5 146.1,2061.4 151.8,2061.3 157.4,2061.0 163.0,2060.8 168.7,2060.6 174.3,2060.3 179.9,2060.0 185.6,2059.3 191.2,2058.1 196.8,2055.9 202.5,2054.3 208.1,2052.0 213.7,2050.7 219.3,2049.5 225.0,2047.2 230.6,2044.7 236.2,2042.1 241.9,2041.1 247.5,2040.6 253.1,2040.4 258.8,2040.3 264.4,2040.1 270.0,2039.6 275.7,2038.8 281.3,2038.0 286.9,2035.4 292.6,2029.7 298.2,2022.2 303.8,2016.5 309.5,2010.8 315.1,2005.4 320.7,1999.6 326.3,1993.2 332.0,1984.7 337.6,1978.0 343.2,1969.6 348.9,1960.8 354.5,1951.5 360.1,1943.7 365.8,1937.1 371.4,1931.1 377.0,1927.0 382.7,1922.1 388.3,1917.8 393.9,1913.9 399.6,1910.3 405.2,1907.6 410.8,1904.7 416.4,1902.1 422.1,1898.7 427.7,1895.3 433.3,1891.7 439.0,1888.5 444.6,1885.5 450.2,1882.7 455.9,1880.3 461.5,1877.3 467.1,1874.2 472.8,1870.8 478.4,1867.7 484.0,1865.4 489.7,1863.1 495.3,1860.7 500.9,1857.7 506.6,1854.6 512.2,1851.5 517.8,1848.2 523.4,1845.9 529.1,1843.9 534.7,1841.8 540.3,1839.9 546.0,1838.0 551.6,1836.5 557.2,1835.1 562.9,1834.5 568.5,1834.2 574.1,1833.4 579.8,1832.3 585.4,1830.7 591.0,1829.4 596.7,1828.1 602.3,1827.4 607.9,1826.8 613.5,1826.5 619.2,1825.7 624.8,1824.8 630.4,1823.9 636.1,1822.7 641.7,1822.0 647.3,1821.5 653.0,1820.9 658.6,1819.9 664.2,1819.0 669.9,1818.2 675.5,1817.4 681.1,1816.9 686.8,1816.7 692.4,1816.2 698.0,1815.6 703.7,1814.8 709.3,1813.7 714.9,1813.0 720.5,1812.5 726.2,1812.1 731.8,1811.7 737.4,1810.9 743.1,1810.0 748.7,1809.0 754.3,1808.3 760.0,1807.8 765.6,1807.3 771.2,1807.0 776.9,1806.2 782.5,1805.7 788.1,1804.8 793.8,1804.1 799.4,1803.9 805.0,1803.4 810.6,1803.3 816.3,1803.3 821.9,1801.4 827.5,1800.5 833.2,1799.8 838.8,1799.3 844.4,1799.0 850.1,1799.0 855.7,1799.0 861.3,1797.7 867.0,1797.2 872.6,1796.4 878.2,1796.0 883.9,1795.6 889.5,1795.5 895.1,1795.5 900.8,1793.6 906.4,1792.9 912.0,1792.2 917.6,1791.9 923.3,1791.5 928.9,1791.5 934.5,1791.5 940.2,1790.0 945.8,1789.2 951.4,1788.5 957.1,1788.1 962.7,1787.8 968.3,1787.8 974.0,1787.7 979.6,1786.4 985.2,1785.6 990.9,1785.0 996.5,1784.5 1002.1,1784.1 1007.7,1784.0 1013.4,1784.0 1019.0,1782.6 1024.6,1781.6 1030.3,1781.1 1035.9,1780.7 1041.5,1780.3 1047.2,1780.2 1052.8,1780.2 1058.4,1778.7 1064.1,1777.8 1069.7,1777.2 1075.3,1776.7 1081.0,1776.4 1086.6,1776.4 1092.2,1776.4 1097.9,1774.2 1103.5,1773.2 1109.1,1772.2 1114.7,1771.8 1120.4,1771.5 1126.0,1771.5 1131.6,1771.5 1137.3,1769.6 1142.9,1768.7 1148.5,1767.8 1154.2,1767.2 1159.8,1766.6 1165.4,1766.6 1171.1,1766.6 1176.7,1764.1 1182.3,1763.3 1188.0,1762.2 1193.6,1761.7 1199.2,1761.5 1204.8,1761.5 1210.5,1761.4 1216.1,1758.9 1221.7,1757.6 1227.4,1756.6 1233.0,1755.6 1238.6,1755.1 1244.3,1755.0 1249.9,1754.9 1255.5,1751.6 1261.2,1750.1 1266.8,1748.3 1272.4,1747.6 1278.1,1746.8 1283.7,1746.6 1289.3,1746.4 1295.0,1742.0 1300.6,1740.1 1306.2,1738.7 1311.8,1738.0 1317.5,1737.3 1323.1,1737.1 1328.7,1736.8 1334.4,1730.8 1340.0,1727.4 1345.6,1724.6 1351.3,1723.1 1356.9,1722.5 1362.5,1722.3 1368.2,1722.1 1373.8,1715.3 1379.4,1712.5 1385.1,1709.1 1390.7,1706.0 1396.3,1704.4 1401.9,1704.2 1407.6,1703.8 1413.2,1695.0 1418.8,1690.5 1424.5,1687.9 1430.1,1684.5 1435.7,1681.5 1441.4,1681.0 1447.0,1680.1 1452.6,1667.7 1458.3,1660.7 1463.9,1655.2 1469.5,1649.3 1475.2,1645.2 1480.8,1645.0 1486.4,1644.8 1492.1,1617.6 1497.7,1604.7 1503.3,1593.0 1508.9,1584.0 1514.6,1579.4 1520.2,1579.3 1525.8,1579.2 1531.5,1554.6 1537.1,1541.7 1542.7,1530.1 1548.4,1520.7 1554.0,1513.7 1559.6,1513.5 1565.3,1513.4 1570.9,1487.2 1576.5,1475.1 1582.2,1462.0 1587.8,1461.2 1593.4,1447.7 1599.0,1447.0" stroke="#9e480e" stroke-width="4.0"/>
<polyline points="67.3,2061.5 72.9,2061.5 78.6,2061.5 84.2,2061.5 89.8,2061.5 95.5,2061.5 101.1,2061.5 106.7,2061.5 112.4,2061.5 118.0,2061.5 123.6,2061.5 129.2,2061.5 134.9,2061.5 140.5,2061.5 146.1,2061.4 151.8,2061.4 157.4,2061.3 163.0,2061.3 168.7,2061.2 174.3,2061.1 179.9,2060.9 185.6,2060.7 191.2,2060.3 196.8,2060.0 202.5,2059.8 208.1,2059.3 213.7,2059.0 219.3,2058.0 225.0,2057.0 230.6,2056.1 236.2,2054.8 241.9,2054.6 247.5,2054.2 253.1,2053.2 258.8,2050.6 264.4,2047.8 270.0,2042.4 275.7,2037.4 281.3,2033.1 286.9,2032.4 292.6,2031.0 298.2,2025.7 303.8,2020.7 309.5,2016.1 315.1,2011.5 320.7,2008.7 326.3,2005.2 332.0,2001.5 337.6,1998.6 343.2,1995.2 348.9,1992.3 354.5,1989.2 360.1,1986.4 365.8,1983.9 371.4,1981.6 377.0,1978.7 382.7,1975.7 388.3,1971.7 393.9,1968.0 399.6,1965.1 405.2,1961.9 410.8,1959.2 416.4,1956.2 422.1,1953.3 427.7,1950.1 433.3,1947.4 439.0,1944.4 444.6,1942.5 450.2,1940.1 455.9,1937.2 461.5,1933.6 467.1,1929.8 472.8,1925.6 478.4,1921.6 484.0,1917.8 489.7,1913.9 495.3,1910.0 500.9,1906.4 506.6,1902.4 512.2,1898.9 517.8,1896.0 523.4,1893.7 529.1,1891.7 534.7,1889.1 540.3,1886.4 546.0,1884.2 551.6,1881.8 557.2,1880.1 562.9,1879.0 568.5,1877.5 574.1,1875.6 579.8,1873.4 585.4,1871.3 591.0,1869.3 596.7,1868.4 602.3,1868.2 607.9,1866.9 613.5,1866.1 619.2,1863.8 624.8,1861.8 630.4,1859.5 636.1,1857.8 641.7,1857.5 647.3,1857.0 653.0,1855.5 658.6,1854.0 664.2,1852.5 669.9,1851.1 675.5,1850.2 681.1,1849.7 686.8,1849.1 692.4,1847.8 698.0,1845.6 703.7,1843.6 709.3,1841.3 714.9,1839.9 720.5,1839.6 726.2,1838.3 731.8,1836.6 737.4,1835.1 743.1,1833.6 748.7,1831.9 754.3,1830.0 760.0,1828.7 765.6,1827.3 771.2,1824.8 776.9,1822.4 782.5,1819.5 788.1,1817.3 793.8,1816.5 799.4,1814.8 805.0,1814.3 810.6,1811.5 816.3,1808.5 821.9,1804.8 827.5,1801.6 833.2,1800.0 838.8,1798.5 844.4,1796.5 850.1,1794.0 855.7,1791.0 861.3,1788.2 867.0,1785.2 872.6,1783.6 878.2,1783.0 883.9,1782.4 889.5,1779.4 895.1,1776.9 900.8,1774.0 906.4,1771.2 912.0,1769.4 917.6,1768.4 923.3,1766.9 928.9,1765.3 934.5,1763.2 940.2,1759.9 945.8,1757.2 951.4,1756.1 957.1,1754.9 962.7,1754.6 968.3,1752.5 974.0,1751.2 979.6,1748.3 985.2,1745.9 990.9,1744.4 996.5,1744.1 1002.1,1743.8 1007.7,1742.3 1013.4,1740.9 1019.0,1738.2 1024.6,1736.2 1030.3,1734.4 1035.9,1732.9 1041.5,1731.4 1047.2,1730.2 1052.8,1728.1 1058.4,1725.6 1064.1,1724.2 1069.7,1723.5 1075.3,1723.0 1081.0,1722.3 1086.6,1720.3 1092.2,1718.1 1097.9,1715.0 1103.5,1712.2 1109.1,1710.3 1114.7,1709.9 1120.4,1708.6 1126.0,1707.1 1131.6,1705.0 1137.3,1701.4 1142.9,1698.4 1148.5,1696.2 1154.2,1695.3 1159.8,1693.6 1165.4,1692.2 1171.1,1690.1 1176.7,1686.5 1182.3,1684.8 1188.0,1682.8 1193.6,1680.8 1199.2,1679.1 1204.8,1676.4 1210.5,1673.6 1216.1,1670.2 1221.7,1667.2 1227.4,1665.1 1233.0,1663.5 1238.6,1662.6 1244.3,1661.1 1249.9,1657.3 1255.5,1653.7 1261.2,1650.9 1266.8,1649.2 1272.4,1646.8 1278.1,1645.5 1283.7,1643.5 1289.3,1639.6 1295.0,1636.1 1300.6,1633.5 1306.2,1631.7 1311.8,1630.8 1317.5,1629.7 1323.1,1627.3 1328.7,1625.2 1334.4,1621.0 1340.0,1616.9 1345.6,1614.4 1351.3,1613.0 1356.9,1611.2 1362.5,1608.4 1368.2,1605.1 1373.8,1600.9 1379.4,1597.8 1385.1,1596.6 1390.7,1594.4 1396.3,1591.9 1401.9,1589.6 1407.6,1585.1 1413.2,1579.3 1418.8,1573.7 1424.5,1571.7 1430.1,1570.7 1435.7,1568.6 1441.4,1564.6 1447.0,1561.1 1452.6,1556.6 1458.3,1551.2 1463.9,1546.0 1469.5,1543.0 1475.2,1538.7 1480.8,1533.7 1486.4,1527.2 1492.1,1518.7 1497.7,1512.6 1503.3,1509.2 1508.9,1504.8 1514.6,1499.1 1520.2,1494.3 1525.8,1484.2 1531.5,1471.7 1537.1,1464.7 1542.7,1456.5 1548.4,1453.9 1554.0,1451.9 1559.6,1444.8 1565.3,1431.0 1570.9,1421.0 1576.5,1405.1 1582.2,1395.8 1587.8,1395.4 1593.4,1380.6 1599.0,1371.1" stroke="#636363" stroke-width="4.0"/>
<polyline points="67.3,2061.5 72.9,2061.5 78.6,2061.5 84.2,2061.5 89.8,2061.5 95.5,2061.5 101.1,2061.5 106.7,2061.5 112.4,2061.5 118.0,2061.5 123.6,2061.5 129.2,2061.5 134.9,2061.5 140.5,2061.5 146.1,2061.4 151.8,2061.3 157.4,2061.1 163.0,2060.9 168.7,2060.8 174.3,2060.6 179.9,2060.2 185.6,2059.7 191.2,2059.0 196.8,2058.6 202.5,2058.4 208.1,2058.2 213.7,2057.1 219.3,2056.2 225.0,2053.7 230.6,2052.2 236.2,2050.8 241.9,2049.1 247.5,2047.9 253.1,2047.2 258.8,2044.3 264.4,2041.8 270.0,2038.2 275.7,2034.3 281.3,2031.2 286.9,2028.0 292.6,2023.0 298.2,2018.8 303.8,2014.1 309.5,2008.8 315.1,2004.6 320.7,2000.7 326.3,1997.4 332.0,1992.9 337.6,1988.6 343.2,1982.4 348.9,1976.4 354.5,1972.1 360.1,1967.8 365.8,1963.0 371.4,1959.4 377.0,1955.3 382.7,1951.0 388.3,1945.6 393.9,1940.9 399.6,1937.1 405.2,1934.2 410.8,1931.0 416.4,1926.5 422.1,1921.4 427.7,1917.3 433.3,1913.4 439.0,1910.3 444.6,1906.6 450.2,1903.1 455.9,1898.3 461.5,1893.4 467.1,1889.5 472.8,1885.6 478.4,1882.5 484.0,1879.4 489.7,1875.9 495.3,1871.4 500.9,1866.5 506.6,1860.8 512.2,1855.8 517.8,1851.5 523.4,1848.1 529.1,1844.6 534.7,1840.0 540.3,1835.8 546.0,1833.1 551.6,1830.5 557.2,1828.3 562.9,1827.9 568.5,1826.8 574.1,1825.0 579.8,1823.0 585.4,1819.9 591.0,1817.9 596.7,1816.6 602.3,1815.9 607.9,1814.2 613.5,1812.7 619.2,1810.3 624.8,1808.6 630.4,1806.7 636.1,1805.6 641.7,1805.1 647.3,1804.7 653.0,1803.7 658.6,1801.6 664.2,1800.1 669.9,1799.1 675.5,1797.7 681.1,1796.7 686.8,1795.6 692.4,1794.5 698.0,1792.9 703.7,1791.4 709.3,1789.5 714.9,1788.9 720.5,1788.4 726.2,1787.9 731.8,1785.6 737.4,1783.7 743.1,1781.8 748.7,1780.3 754.3,1779.4 760.0,1777.9 765.6,1777.2 771.2,1775.9 776.9,1774.0 782.5,1772.2 788.1,1769.9 793.8,1768.7 799.4,1768.2 805.0,1767.1 810.6,1764.6 816.3,1762.0 821.9,1759.8 827.5,1757.8 833.2,1756.9 838.8,1756.5 844.4,1755.9 850.1,1754.0 855.7,1752.1 861.3,1750.0 867.0,1748.0 872.6,1746.4 878.2,1746.2 883.9,1745.1 889.5,1743.6 895.1,1741.1 900.8,1739.2 906.4,1737.2 912.0,1735.5 917.6,1733.9 923.3,1732.5 928.9,1731.3 934.5,1728.5 940.2,1726.3 945.8,1725.2 951.4,1724.2 957.1,1723.5 962.7,1722.1 968.3,1719.7 974.0,1716.8 979.6,1714.7 985.2,1712.5 990.9,1711.7 996.5,1710.0 1002.1,1709.2 1007.7,1706.2 1013.4,1703.9 1019.0,1701.2 1024.6,1700.1 1030.3,1699.6 1035.9,1698.3 1041.5,1696.5 1047.2,1694.8 1052.8,1693.0 1058.4,1690.8 1064.1,1688.9 1069.7,1688.0 1075.3,1686.7 1081.0,1685.6 1086.6,1683.3 1092.2,1680.6 1097.9,1678.7 1103.5,1677.1 1109.1,1676.2 1114.7,1675.1 1120.4,1674.5 1126.0,1672.8 1131.6,1671.5 1137.3,1670.1 1142.9,1669.3 1148.5,1668.5 1154.2,1668.1 1159.8,1667.5 1165.4,1666.2 1171.1,1664.5 1176.7,1662.6 1182.3,1661.7 1188.0,1661.4 1193.6,1660.6 1199.2,1659.4 1204.8,1658.7 1210.5,1656.7 1216.1,1655.2 1221.7,1653.8 1227.4,1653.1 1233.0,1652.3 1238.6,1651.9 1244.3,1650.3 1249.9,1648.8 1255.5,1646.5 1261.2,1645.3 1266.8,1645.1 1272.4,1644.4 1278.1,1643.0 1283.7,1640.7 1289.3,1638.6 1295.0,1636.6 1300.6,1634.7 1306.2,1634.2 1311.8,1633.1 1317.5,1632.4 1323.1,1630.7 1328.7,1627.7 1334.4,1625.7 1340.0,1624.1 1345.6,1623.3 1351.3,1622.7 1356.9,1622.0 1362.5,1619.4 1368.2,1617.3 1373.8,1614.3 1379.4,1612.1 1385.1,1610.6 1390.7,1608.9 1396.3,1608.1 1401.9,1605.7 1407.6,1603.1 1413.2,1599.9 1418.8,1597.5 1424.5,1597.0 1430.1,1595.1 1435.7,1592.6 1441.4,1590.0 1447.0,1587.0 1452.6,1583.7 1458.3,1581.3 1463.9,1578.8 1469.5,1577.7 1475.2,1575.1 1480.8,1570.4 1486.4,1565.6 1492.1,1561.4 1497.7,1556.6 1503.3,1555.4 1508.9,1552.8 1514.6,1549.4 1520.2,1543.7 1525.8,1538.3 1531.5,1534.3 1537.1,1531.5 1542.7,1526.9 1548.4,1526.7 1554.0,1523.7 1559.6,1516.0 1565.3,1508.3 1570.9,1500.9 1576.5,1496.6 1582.2,1491.2 1587.8,1489.5 1593.4,1484.8 1599.0,1476.1" stroke="#997300" stroke-width="4.0"/>
<polyline points="67.3,2061.5 72.9,2061.5 78.6,2061.5 84.2,2061.5 89.8,2061.5 95.5,2061.5 101.1,2061.5 106.7,2061.5 112.4,2061.5 118.0,2061.5 123.6,2061.5 129.2,2061.5 134.9,2061.5 140.5,2061.5 146.1,2061.5 151.8,2061.4 157.4,2061.4 163.0,2061.4 168.7,2061.3 174.3,2061.2 179.9,2061.2 185.6,2061.1 191.2,2060.9 196.8,2060.7 202.5,2060.6 208.1,2060.3 213.7,2059.9 219.3,2059.4 225.0,2058.9 230.6,2058.5 236.2,2058.2 241.9,2057.9 247.5,2057.6 253.1,2057.1 258.8,2056.2 264.4,2055.2 270.0,2054.3 275.7,2053.5 281.3,2052.7 286.9,2051.9 292.6,2050.8 298.2,2049.5 303.8,2048.2 309.5,2047.4 315.1,2046.6 320.7,2045.9 326.3,2045.2 332.0,2044.3 337.6,2043.0 343.2,2041.7 348.9,2040.9 354.5,2039.9 360.1,2039.1 365.8,2038.4 371.4,2037.1 377.0,2035.9 382.7,2034.6 388.3,2033.6 393.9,2033.0 399.6,2032.1 405.2,2031.4 410.8,2030.5 416.4,2029.5 422.1,2028.8 427.7,2027.9 433.3,2027.5 439.0,2027.1 444.6,2026.6 450.2,2026.0 455.9,2025.4 461.5,2024.8 467.1,2024.3 472.8,2023.8 478.4,2023.4 484.0,2022.9 489.7,2022.4 495.3,2021.9 500.9,2021.4 506.6,2020.9 512.2,2020.5 517.8,2020.1 523.4,2019.6 529.1,2019.0 534.7,2018.2 540.3,2017.3 546.0,2016.6 551.6,2016.0 557.2,2015.4 562.9,2014.5 568.5,2013.8 574.1,2012.8 579.8,2011.7 585.4,2010.5 591.0,2009.8 596.7,2008.9 602.3,2007.9 607.9,2006.1 613.5,2004.3 619.2,2001.8 624.8,1999.7 630.4,1997.8 636.1,1995.9 641.7,1994.1 647.3,1992.0 653.0,1989.4 658.6,1985.8 664.2,1983.5 669.9,1981.2 675.5,1978.7 681.1,1975.5 686.8,1971.3 692.4,1967.0 698.0,1962.9 703.7,1959.4 709.3,1956.3 714.9,1953.8 720.5,1950.6 726.2,1945.2 731.8,1939.9 737.4,1935.2 743.1,1930.9 748.7,1927.2 754.3,1924.3 760.0,1920.0 765.6,1913.5 771.2,1906.2 776.9,1896.1 782.5,1889.2 788.1,1881.9 793.8,1872.5 799.4,1865.2 805.0,1851.7 810.6,1839.2 816.3,1827.2 821.9,1814.6 827.5,1804.8 833.2,1798.5 838.8,1787.8 844.4,1775.6 850.1,1762.3 855.7,1746.8 861.3,1733.6 867.0,1724.8 872.6,1716.0 878.2,1707.6 883.9,1698.4 889.5,1687.5 895.1,1676.3 900.8,1666.0 906.4,1656.2 912.0,1647.4 917.6,1639.0 923.3,1631.4 928.9,1623.8 934.5,1615.9 940.2,1609.4 945.8,1603.2 951.4,1597.4 957.1,1591.5 962.7,1586.0 968.3,1580.1 974.0,1575.1 979.6,1570.0 985.2,1565.0 990.9,1560.0 996.5,1555.3 1002.1,1550.1 1007.7,1545.2 1013.4,1540.7 1019.0,1536.9 1024.6,1533.4 1030.3,1529.9 1035.9,1526.6 1041.5,1523.0 1047.2,1519.6 1052.8,1516.4 1058.4,1513.8 1064.1,1511.6 1069.7,1509.3 1075.3,1507.2 1081.0,1504.6 1086.6,1501.9 1092.2,1498.6 1097.9,1495.5 1103.5,1492.2 1109.1,1488.9 1114.7,1485.4 1120.4,1481.9 1126.0,1478.5 1131.6,1475.3 1137.3,1472.5 1142.9,1470.1 1148.5,1467.5 1154.2,1465.1 1159.8,1462.4 1165.4,1459.9 1171.1,1457.4 1176.7,1455.0 1182.3,1452.9 1188.0,1450.8 1193.6,1448.9 1199.2,1446.6 1204.8,1444.3 1210.5,1441.9 1216.1,1439.8 1221.7,1437.7 1227.4,1435.6 1233.0,1433.5 1238.6,1431.0 1244.3,1428.5 1249.9,1426.2 1255.5,1423.7 1261.2,1421.3 1266.8,1418.9 1272.4,1416.6 1278.1,1413.9 1283.7,1411.2 1289.3,1408.8 1295.0,1406.8 1300.6,1405.0 1306.2,1403.4 1311.8,1401.9 1317.5,1400.1 1323.1,1398.2 1328.7,1396.2 1334.4,1394.3 1340.0,1392.4 1345.6,1390.7 1351.3,1388.6 1356.9,1385.6 1362.5,1382.6 1368.2,1378.8 1373.8,1376.4 1379.4,1373.6 1385.1,1371.7 1390.7,1369.2 1396.3,1365.8 1401.9,1362.2 1407.6,1357.9 1413.2,1353.6 1418.8,1351.1 1424.5,1347.7 1430.1,1344.2 1435.7,1340.3 1441.4,1336.1 1447.0,1331.8 1452.6,1327.2 1458.3,1324.1 1463.9,1320.9 1469.5,1317.5 1475.2,1311.3 1480.8,1304.0 1486.4,1297.8 1492.1,1292.9 1497.7,1289.4 1503.3,1285.9 1508.9,1279.8 1514.6,1273.5 1520.2,1266.7 1525.8,1258.7 1531.5,1253.8 1537.1,1248.6 1542.7,1244.3 1548.4,1238.0 1554.0,1229.4 1559.6,1221.9 1565.3,1212.1 1570.9,1206.0 1576.5,1198.7 1582.2,1193.3 1587.8,1193.3 1593.4,1180.2 1599.0,1168.9" stroke="#255e91" stroke-width="4.0"/>
<polyline points="67.3,2061.5 72.9,2061.5 78.6,2061.5 84.2,2061.5 89.8,2061.5 95.5,2061.5 101.1,2061.5 106.7,2061.5 112.4,2061.5 118.0,2061.5 123.6,2061.5 129.2,2061.5 134.9,2061.5 140.5,2061.5 146.1,2061.5 151.8,2061.4 157.4,2061.4 163.0,2061.3 168.7,2061.2 174.3,2061.1 179.9,2061.0 185.6,2061.0 191.2,2060.8 196.8,2060.4 202.5,2059.8 208.1,2059.3 213.7,2058.8 219.3,2058.1 225.0,2057.6 230.6,2057.1 236.2,2056.4 241.9,2055.8 247.5,2054.8 253.1,2053.8 258.8,2052.6 264.4,2051.6 270.0,2050.7 275.7,2049.6 281.3,2047.9 286.9,2045.9 292.6,2044.4 298.2,2042.8 303.8,2041.6 309.5,2040.1 315.1,2039.0 320.7,2037.1 326.3,2035.6 332.0,2033.6 337.6,2032.5 343.2,2031.3 348.9,2030.1 354.5,2028.5 360.1,2026.4 365.8,2024.6 371.4,2022.9 377.0,2021.8 382.7,2020.5 388.3,2019.7 393.9,2018.1 399.6,2016.4 405.2,2014.3 410.8,2012.4 416.4,2011.3 422.1,2010.0 427.7,2009.1 433.3,2007.9 439.0,2006.6 444.6,2004.9 450.2,2003.3 455.9,2002.5 461.5,2001.7 467.1,2000.8 472.8,1999.7 478.4,1998.3 484.0,1997.0 489.7,1995.5 495.3,1994.5 500.9,1993.7 506.6,1992.8 512.2,1991.9 517.8,1990.3 523.4,1988.8 529.1,1987.1 534.7,1986.3 540.3,1985.4 546.0,1984.4 551.6,1983.4 557.2,1982.0 562.9,1980.2 568.5,1978.3 574.1,1976.9 579.8,1975.5 585.4,1974.0 591.0,1972.8 596.7,1971.0 602.3,1968.9 607.9,1966.7 613.5,1965.3 619.2,1964.4 624.8,1962.7 630.4,1960.5 636.1,1958.2 641.7,1956.0 647.3,1954.0 653.0,1952.4 658.6,1950.9 664.2,1949.5 669.9,1947.8 675.5,1945.4 681.1,1943.0 686.8,1940.4 692.4,1937.7 698.0,1936.4 703.7,1934.5 709.3,1931.7 714.9,1928.8 720.5,1925.2 726.2,1921.6 731.8,1919.2 737.4,1916.5 743.1,1913.7 748.7,1910.9 754.3,1908.0 760.0,1903.4 765.6,1899.3 771.2,1896.1 776.9,1892.7 782.5,1889.3 788.1,1884.4 793.8,1879.7 799.4,1873.3 805.0,1868.1 810.6,1861.4 816.3,1856.2 821.9,1852.0 827.5,1847.0 833.2,1839.0 838.8,1829.7 844.4,1821.0 850.1,1816.7 855.7,1810.5 861.3,1805.9 867.0,1799.8 872.6,1792.3 878.2,1784.8 883.9,1776.0 889.5,1768.7 895.1,1762.7 900.8,1758.4 906.4,1752.6 912.0,1744.4 917.6,1735.5 923.3,1726.7 928.9,1719.8 934.5,1714.7 940.2,1710.6 945.8,1705.5 951.4,1699.4 957.1,1693.0 962.7,1685.6 968.3,1678.8 974.0,1673.0 979.6,1666.5 985.2,1660.3 990.9,1654.1 996.5,1647.0 1002.1,1641.3 1007.7,1636.1 1013.4,1630.9 1019.0,1626.4 1024.6,1621.8 1030.3,1616.9 1035.9,1611.9 1041.5,1606.8 1047.2,1602.5 1052.8,1599.0 1058.4,1594.9 1064.1,1591.0 1069.7,1586.9 1075.3,1582.5 1081.0,1578.6 1086.6,1574.5 1092.2,1571.3 1097.9,1568.3 1103.5,1565.0 1109.1,1560.8 1114.7,1557.1 1120.4,1553.5 1126.0,1549.8 1131.6,1546.4 1137.3,1542.9 1142.9,1539.4 1148.5,1535.5 1154.2,1531.5 1159.8,1527.4 1165.4,1524.2 1171.1,1521.3 1176.7,1518.4 1182.3,1515.1 1188.0,1511.7 1193.6,1508.3 1199.2,1505.4 1204.8,1502.7 1210.5,1500.2 1216.1,1497.6 1221.7,1495.0 1227.4,1492.1 1233.0,1489.5 1238.6,1487.2 1244.3,1485.0 1249.9,1482.8 1255.5,1481.0 1261.2,1479.0 1266.8,1477.1 1272.4,1475.0 1278.1,1473.0 1283.7,1471.1 1289.3,1469.4 1295.0,1467.7 1300.6,1466.1 1306.2,1464.3 1311.8,1462.4 1317.5,1460.6 1323.1,1458.9 1328.7,1457.0 1334.4,1455.2 1340.0,1453.3 1345.6,1450.8 1351.3,1448.5 1356.9,1445.6 1362.5,1443.5 1368.2,1441.8 1373.8,1439.6 1379.4,1436.7 1385.1,1433.8 1390.7,1431.0 1396.3,1428.3 1401.9,1425.9 1407.6,1423.7 1413.2,1421.1 1418.8,1417.6 1424.5,1412.7 1430.1,1408.8 1435.7,1403.5 1441.4,1399.0 1447.0,1396.8 1452.6,1393.2 1458.3,1386.9 1463.9,1377.8 1469.5,1368.0 1475.2,1358.6 1480.8,1351.3 1486.4,1343.5 1492.1,1337.8 1497.7,1328.9 1503.3,1319.5 1508.9,1308.3 1514.6,1297.0 1520.2,1289.7 1525.8,1284.3 1531.5,1279.1 1537.1,1274.6 1542.7,1266.5 1548.4,1256.3 1554.0,1249.6 1559.6,1244.8 1565.3,1239.6 1570.9,1235.2 1576.5,1230.0 1582.2,1222.9 1587.8,1222.9 1593.4,1209.4 1599.0,1204.7" stroke="#43682b" stroke-width="4.0"/>
<polyline points="67.3,2061.5 72.9,2061.5 78.6,2061.5 84.2,2061.5 89.8,2061.5 95.5,2061.5 101.1,2061.5 106.7,2061.5 112.4,2061.5 118.0,2061.5 123.6,2061.5 129.2,2061.5 134.9,2061.5 140.5,2061.5 146.1,2061.4 151.8,2061.4 157.4,2061.3 163.0,2061.1 168.7,2061.0 174.3,2060.9 179.9,2060.8 185.6,2060.6 191.2,2060.3 196.8,2059.7 202.5,2059.0 208.1,2057.4 213.7,2056.3 219.3,2055.7 225.0,2055.2 230.6,2054.9 236.2,2054.0 241.9,2053.1 247.5,2052.1 253.1,2051.1 258.8,2050.3 264.4,2050.0 270.0,2049.6 275.7,2049.4 281.3,2048.7 286.9,2047.8 292.6,2047.2 298.2,2046.8 303.8,2046.6 309.5,2046.4 315.1,2046.2 320.7,2045.9 326.3,2045.7 332.0,2045.4 337.6,2045.2 343.2,2045.1 348.9,2045.0 354.5,2044.9 360.1,2044.8 365.8,2044.7 371.4,2044.5 377.0,2044.4 382.7,2044.4 388.3,2044.3 393.9,2044.3 399.6,2044.2 405.2,2044.1 410.8,2044.0 416.4,2044.0 422.1,2044.0 427.7,2043.7 433.3,2043.7 439.0,2043.6 444.6,2043.5 450.2,2043.5 455.9,2043.5 461.5,2043.5 467.1,2043.4 472.8,2043.3 478.4,2043.3 484.0,2043.2 489.7,2043.2 495.3,2043.2 500.9,2043.2 506.6,2043.1 512.2,2043.0 517.8,2043.0 523.4,2042.9 529.1,2042.8 534.7,2042.8 540.3,2042.8 546.0,2042.7 551.6,2042.6 557.2,2042.5 562.9,2042.4 568.5,2042.3 574.1,2042.3 579.8,2042.2 585.4,2042.0 591.0,2041.9 596.7,2041.8 602.3,2041.5 607.9,2041.2 613.5,2041.2 619.2,2041.1 624.8,2040.4 630.4,2040.1 636.1,2039.5 641.7,2039.1 647.3,2038.7 653.0,2038.7 658.6,2038.6 664.2,2037.8 669.9,2037.4 675.5,2036.9 681.1,2036.1 686.8,2035.4 692.4,2035.4 698.0,2035.3 703.7,2034.4 709.3,2034.1 714.9,2033.4 720.5,2032.7 726.2,2032.1 731.8,2032.0 737.4,2032.0 743.1,2031.3 748.7,2030.8 754.3,2030.4 760.0,2030.0 765.6,2029.4 771.2,2029.3 776.9,2029.3 782.5,2028.6 788.1,2028.2 793.8,2027.9 799.4,2027.6 805.0,2027.3 810.6,2027.3 816.3,2027.3 821.9,2026.8 827.5,2026.6 833.2,2026.3 838.8,2025.8 844.4,2025.4 850.1,2025.4 855.7,2025.4 861.3,2024.8 867.0,2024.4 872.6,2024.0 878.2,2023.4 883.9,2022.8 889.5,2022.8 895.1,2022.8 900.8,2021.7 906.4,2021.1 912.0,2020.6 917.6,2019.6 923.3,2018.7 928.9,2018.7 934.5,2018.5 940.2,2016.4 945.8,2014.8 951.4,2011.9 957.1,2009.4 962.7,2004.9 968.3,2004.7 974.0,2004.3 979.6,1997.4 985.2,1994.5 990.9,1988.7 996.5,1981.5 1002.1,1977.0 1007.7,1976.6 1013.4,1976.2 1019.0,1963.8 1024.6,1959.6 1030.3,1954.7 1035.9,1945.1 1041.5,1939.3 1047.2,1938.7 1052.8,1938.0 1058.4,1929.5 1064.1,1924.8 1069.7,1920.1 1075.3,1913.7 1081.0,1905.6 1086.6,1904.8 1092.2,1904.1 1097.9,1893.0 1103.5,1890.9 1109.1,1886.2 1114.7,1880.6 1120.4,1876.5 1126.0,1876.3 1131.6,1876.2 1137.3,1868.1 1142.9,1864.8 1148.5,1859.6 1154.2,1852.9 1159.8,1847.2 1165.4,1847.0 1171.1,1846.8 1176.7,1838.8 1182.3,1837.3 1188.0,1833.6 1193.6,1828.8 1199.2,1824.9 1204.8,1824.7 1210.5,1824.4 1216.1,1812.8 1221.7,1808.4 1227.4,1803.6 1233.0,1798.5 1238.6,1791.5 1244.3,1791.4 1249.9,1791.1 1255.5,1780.4 1261.2,1776.4 1266.8,1771.3 1272.4,1763.5 1278.1,1756.1 1283.7,1755.7 1289.3,1755.1 1295.0,1741.6 1300.6,1737.9 1306.2,1726.6 1311.8,1715.3 1317.5,1705.1 1323.1,1704.6 1328.7,1703.8 1334.4,1692.5 1340.0,1689.1 1345.6,1678.4 1351.3,1663.9 1356.9,1651.1 1362.5,1650.7 1368.2,1650.2 1373.8,1626.2 1379.4,1620.0 1385.1,1613.5 1390.7,1600.4 1396.3,1585.1 1401.9,1585.1 1407.6,1584.9 1413.2,1563.0 1418.8,1553.6 1424.5,1545.7 1430.1,1533.1 1435.7,1518.5 1441.4,1517.8 1447.0,1516.9 1452.6,1492.8 1458.3,1484.4 1463.9,1474.2 1469.5,1457.2 1475.2,1444.9 1480.8,1444.3 1486.4,1443.8 1492.1,1419.6 1497.7,1407.8 1503.3,1393.1 1508.9,1377.7 1514.6,1361.0 1520.2,1360.3 1525.8,1359.9 1531.5,1344.6 1537.1,1339.7 1542.7,1332.2 1548.4,1320.2 1554.0,1310.6 1559.6,1309.9 1565.3,1309.8 1570.9,1292.8 1576.5,1287.4 1582.2,1280.6 1587.8,1273.9 1593.4,1266.4 1599.0,1266.1" stroke="#698ed0" stroke-width="4.0"/>
<polyline points="67.3,2061.5 72.9,2061.5 78.6,2061.5 84.2,2061.5 89.8,2061.5 95.5,2061.5 101.1,2061.5 106.7,2061.5 112.4,2061.5 118.0,2061.5 123.6,2061.5 129.2,2061.5 134.9,2061.5 140.5,2061.5 146.1,2061.5 151.8,2061.5 157.4,2061.4 163.0,2061.4 168.7,2061.3 174.3,2061.2 179.9,2061.1 185.6,2061.0 191.2,2060.8 196.8,2060.7 202.5,2060.6 208.1,2060.4 213.7,2059.9 219.3,2059.5 225.0,2058.9 230.6,2058.5 236.2,2058.4 241.9,2058.1 247.5,2058.0 253.1,2057.5 258.8,2057.1 264.4,2056.7 270.0,2056.3 275.7,2056.2 281.3,2056.1 286.9,2055.7 292.6,2055.5 298.2,2055.1 303.8,2054.7 309.5,2054.5 315.1,2054.3 320.7,2054.2 326.3,2054.1 332.0,2054.0 337.6,2053.9 343.2,2053.7 348.9,2053.6 354.5,2053.5 360.1,2053.5 365.8,2053.5 371.4,2053.4 377.0,2053.2 382.7,2053.2 388.3,2053.1 393.9,2053.0 399.6,2053.0 405.2,2053.0 410.8,2053.0 416.4,2052.9 422.1,2052.9 427.7,2052.9 433.3,2052.9 439.0,2052.8 444.6,2052.8 450.2,2052.8 455.9,2052.8 461.5,2052.8 467.1,2052.8 472.8,2052.8 478.4,2052.8 484.0,2052.8 489.7,2052.8 495.3,2052.7 500.9,2052.7 506.6,2052.7 512.2,2052.7 517.8,2052.7 523.4,2052.7 529.1,2052.7 534.7,2052.7 540.3,2052.7 546.0,2052.7 551.6,2052.7 557.2,2052.6 562.9,2052.6 568.5,2052.6 574.1,2052.6 579.8,2052.6 585.4,2052.5 591.0,2052.5 596.7,2052.5 602.3,2052.5 607.9,2052.4 613.5,2052.3 619.2,2052.2 624.8,2052.2 630.4,2052.1 636.1,2052.1 641.7,2052.0 647.3,2051.9 653.0,2051.8 658.6,2051.6 664.2,2051.5 669.9,2051.4 675.5,2051.3 681.1,2051.2 686.8,2051.0 692.4,2050.8 698.0,2050.6 703.7,2050.4 709.3,2050.3 714.9,2050.2 720.5,2050.1 726.2,2049.8 731.8,2049.6 737.4,2049.4 743.1,2049.2 748.7,2049.1 754.3,2049.0 760.0,2048.9 765.6,2048.6 771.2,2048.1 776.9,2047.8 782.5,2047.4 788.1,2047.1 793.8,2046.9 799.4,2046.7 805.0,2046.1 810.6,2045.5 816.3,2045.1 821.9,2044.8 827.5,2044.3 833.2,2044.0 838.8,2043.6 844.4,2043.1 850.1,2042.3 855.7,2041.4 861.3,2040.6 867.0,2040.2 872.6,2039.7 878.2,2039.0 883.9,2038.4 889.5,2037.4 895.1,2036.1 900.8,2035.1 906.4,2034.3 912.0,2033.9 917.6,2033.0 923.3,2032.2 928.9,2031.1 934.5,2030.0 940.2,2028.3 945.8,2027.6 951.4,2026.0 957.1,2023.5 962.7,2021.5 968.3,2017.5 974.0,2015.0 979.6,2012.1 985.2,2010.7 990.9,2008.8 996.5,2007.1 1002.1,2002.6 1007.7,1997.4 1013.4,1993.0 1019.0,1989.5 1024.6,1988.0 1030.3,1986.2 1035.9,1982.4 1041.5,1977.4 1047.2,1973.4 1052.8,1968.5 1058.4,1965.6 1064.1,1962.0 1069.7,1961.4 1075.3,1959.6 1081.0,1955.8 1086.6,1951.6 1092.2,1947.8 1097.9,1946.0 1103.5,1944.6 1109.1,1943.6 1114.7,1942.3 1120.4,1940.1 1126.0,1936.3 1131.6,1933.9 1137.3,1932.1 1142.9,1930.1 1148.5,1929.7 1154.2,1927.7 1159.8,1924.7 1165.4,1922.5 1171.1,1920.2 1176.7,1918.7 1182.3,1916.9 1188.0,1916.4 1193.6,1915.4 1199.2,1913.3 1204.8,1910.9 1210.5,1908.4 1216.1,1906.7 1221.7,1905.8 1227.4,1905.1 1233.0,1903.7 1238.6,1901.4 1244.3,1899.1 1249.9,1897.3 1255.5,1896.0 1261.2,1894.9 1266.8,1894.3 1272.4,1893.7 1278.1,1891.8 1283.7,1889.6 1289.3,1887.7 1295.0,1886.1 1300.6,1885.4 1306.2,1884.5 1311.8,1883.9 1317.5,1882.2 1323.1,1880.7 1328.7,1879.3 1334.4,1878.1 1340.0,1877.3 1345.6,1876.3 1351.3,1875.9 1356.9,1874.7 1362.5,1873.2 1368.2,1871.7 1373.8,1870.6 1379.4,1869.7 1385.1,1869.4 1390.7,1868.3 1396.3,1866.6 1401.9,1864.7 1407.6,1863.5 1413.2,1862.4 1418.8,1861.4 1424.5,1860.5 1430.1,1859.5 1435.7,1858.3 1441.4,1855.9 1447.0,1854.1 1452.6,1853.4 1458.3,1852.3 1463.9,1851.6 1469.5,1850.7 1475.2,1849.5 1480.8,1846.9 1486.4,1844.1 1492.1,1842.4 1497.7,1842.0 1503.3,1840.5 1508.9,1838.9 1514.6,1836.7 1520.2,1835.1 1525.8,1833.3 1531.5,1831.8 1537.1,1830.5 1542.7,1828.5 1548.4,1826.8 1554.0,1825.5 1560.0,1824.8 1565.9,1825.8 1580.0,1822.5 1599.0,1818.0" stroke="#f1975a" stroke-width="4.0"/>
<polyline points="67.3,2061.5 72.9,2061.5 78.6,2061.5 84.2,2061.5 89.8,2061.5 95.5,2061.5 101.1,2061.5 106.7,2061.5 112.4,2061.5 118.0,2061.5 123.6,2061.5 129.2,2061.5 134.9,2061.5 140.5,2061.5 146.1,2061.4 151.8,2061.4 157.4,2061.3 163.0,2061.3 168.7,2061.2 174.3,2061.2 179.9,2061.1 185.6,2060.8 191.2,2060.2 196.8,2059.9 202.5,2059.3 208.1,2058.8 213.7,2058.1 219.3,2057.2 225.0,2055.9 230.6,2055.1 236.2,2054.2 241.9,2053.8 247.5,2053.5 253.1,2052.9 258.8,2052.1 264.4,2051.2 270.0,2049.9 275.7,2048.9 281.3,2048.3 286.9,2048.1 292.6,2047.7 298.2,2047.0 303.8,2046.1 309.5,2045.3 315.1,2044.5 320.7,2044.2 326.3,2044.0 332.0,2043.7 337.6,2043.3 343.2,2043.0 348.9,2042.6 354.5,2042.4 360.1,2042.2 365.8,2042.0 371.4,2041.9 377.0,2041.7 382.7,2041.4 388.3,2041.1 393.9,2040.8 399.6,2040.6 405.2,2040.4 410.8,2040.2 416.4,2040.0 422.1,2039.6 427.7,2039.2 433.3,2038.9 439.0,2038.8 444.6,2038.6 450.2,2038.4 455.9,2038.1 461.5,2037.7 467.1,2037.4 472.8,2037.1 478.4,2036.9 484.0,2036.8 489.7,2036.5 495.3,2036.2 500.9,2035.9 506.6,2035.6 512.2,2035.3 517.8,2035.0 523.4,2034.7 529.1,2034.4 534.7,2034.1 540.3,2033.6 546.0,2033.1 551.6,2032.8 557.2,2032.5 562.9,2032.3 568.5,2032.1 574.1,2031.7 579.8,2031.0 585.4,2030.4 591.0,2029.8 596.7,2029.2 602.3,2028.8 607.9,2028.2 613.5,2027.2 619.2,2026.4 624.8,2025.5 630.4,2024.9 636.1,2024.5 641.7,2023.7 647.3,2023.2 653.0,2022.0 658.6,2020.8 664.2,2019.2 669.9,2018.0 675.5,2016.9 681.1,2015.9 686.8,2014.9 692.4,2013.6 698.0,2011.5 703.7,2009.6 709.3,2008.3 714.9,2006.7 720.5,2006.3 726.2,2004.9 731.8,2003.3 737.4,2000.9 743.1,1998.4 748.7,1997.0 754.3,1994.9 760.0,1994.0 765.6,1991.1 771.2,1986.7 776.9,1982.7 782.5,1978.8 788.1,1975.3 793.8,1972.3 799.4,1969.5 805.0,1964.1 810.6,1957.3 816.3,1947.6 821.9,1940.9 827.5,1934.4 833.2,1930.5 838.8,1928.4 844.4,1925.2 850.1,1919.4 855.7,1910.9 861.3,1900.1 867.0,1892.5 872.6,1889.4 878.2,1883.2 883.9,1878.4 889.5,1873.3 895.1,1864.5 900.8,1856.0 906.4,1849.0 912.0,1844.2 917.6,1840.4 923.3,1837.6 928.9,1833.3 934.5,1828.2 940.2,1822.3 945.8,1816.7 951.4,1813.4 957.1,1811.5 962.7,1807.7 968.3,1804.3 974.0,1797.8 979.6,1791.1 985.2,1786.2 990.9,1783.7 996.5,1781.2 1002.1,1779.4 1007.7,1775.7 1013.4,1769.9 1019.0,1765.5 1024.6,1761.0 1030.3,1757.2 1035.9,1755.0 1041.5,1751.3 1047.2,1748.5 1052.8,1742.7 1058.4,1738.9 1064.1,1734.8 1069.7,1731.5 1075.3,1728.5 1081.0,1725.9 1086.6,1721.0 1092.2,1716.4 1097.9,1712.9 1103.5,1708.0 1109.1,1705.1 1114.7,1702.1 1120.4,1698.6 1126.0,1696.1 1131.6,1692.8 1137.3,1688.7 1142.9,1685.9 1148.5,1683.1 1154.2,1680.7 1159.8,1678.1 1165.4,1675.2 1171.1,1670.4 1176.7,1667.3 1182.3,1663.2 1188.0,1661.5 1193.6,1660.0 1199.2,1658.4 1204.8,1655.8 1210.5,1651.0 1216.1,1645.6 1221.7,1641.7 1227.4,1638.8 1233.0,1635.6 1238.6,1632.5 1244.3,1628.6 1249.9,1622.7 1255.5,1618.3 1261.2,1614.3 1266.8,1609.8 1272.4,1608.3 1278.1,1604.6 1283.7,1598.3 1289.3,1589.7 1295.0,1582.2 1300.6,1578.0 1306.2,1573.7 1311.8,1568.7 1317.5,1562.5 1323.1,1553.8 1328.7,1543.8 1334.4,1535.4 1340.0,1524.6 1345.6,1519.8 1351.3,1516.3 1356.9,1508.6 1362.5,1499.4 1368.2,1489.7 1373.8,1478.7 1379.4,1470.9 1385.1,1462.3 1390.7,1455.7 1396.3,1446.3 1401.9,1435.8 1407.6,1424.1 1413.2,1410.3 1418.8,1400.3 1424.5,1390.3 1430.1,1385.1 1435.7,1376.2 1441.4,1367.1 1447.0,1354.0 1452.6,1341.3 1458.3,1325.8 1463.9,1314.4 1469.5,1306.3 1475.2,1296.6 1480.8,1281.7 1486.4,1266.2 1492.1,1252.2 1497.7,1233.0 1503.3,1226.1 1508.9,1218.6 1514.6,1202.4 1520.2,1184.7 1525.8,1168.4 1531.5,1149.5 1537.1,1139.0 1542.7,1129.6 1548.4,1116.2 1554.0,1105.1 1559.6,1085.5 1565.3,1064.5 1570.9,1040.7 1576.5,1024.5 1582.2,1010.0 1587.8,1009.8 1593.4,989.8 1599.0,978.3" stroke="#b7b7b7" stroke-width="4.0"/>
<polyline points="67.3,2061.5 72.9,2061.5 78.6,2061.5 84.2,2061.5 89.8,2061.5 95.5,2061.5 101.1,2061.5 106.7,2061.5 112.4,2061.5 118.0,2061.5 123.6,2061.5 129.2,2061.5 134.9,2061.5 140.5,2061.5 146.1,2061.4 151.8,2061.3 157.4,2061.2 163.0,2061.1 168.7,2060.9 174.3,2060.8 179.9,2060.6 185.6,2060.5 191.2,2060.1 196.8,2059.5 202.5,2058.5 208.1,2057.5 213.7,2056.8 219.3,2055.7 225.0,2055.1 230.6,2054.2 236.2,2052.9 241.9,2051.4 247.5,2049.7 253.1,2048.1 258.8,2047.1 264.4,2045.8 270.0,2044.5 275.7,2042.2 281.3,2039.4 286.9,2036.9 292.6,2034.8 298.2,2032.6 303.8,2030.9 309.5,2028.5 315.1,2025.9 320.7,2022.3 326.3,2019.3 332.0,2016.2 337.6,2013.6 343.2,2011.0 348.9,2008.1 354.5,2004.5 360.1,2000.8 365.8,1996.9 371.4,1992.8 377.0,1989.4 382.7,1986.1 388.3,1982.9 393.9,1979.5 399.6,1976.2 405.2,1973.0 410.8,1970.1 416.4,1967.2 422.1,1964.6 427.7,1961.4 433.3,1958.2 439.0,1954.8 444.6,1951.3 450.2,1948.2 455.9,1945.3 461.5,1942.2 467.1,1938.7 472.8,1935.1 478.4,1931.3 484.0,1927.3 489.7,1923.5 495.3,1920.0 500.9,1916.8 506.6,1913.2 512.2,1909.2 517.8,1905.3 523.4,1901.4 529.1,1897.8 534.7,1894.9 540.3,1892.4 546.0,1889.8 551.6,1887.2 557.2,1884.7 562.9,1882.4 568.5,1880.6 574.1,1879.2 579.8,1877.9 585.4,1876.8 591.0,1874.9 596.7,1873.3 602.3,1871.9 607.9,1870.2 613.5,1869.1 619.2,1868.2 624.8,1867.1 630.4,1866.0 636.1,1864.7 641.7,1863.1 647.3,1862.1 653.0,1861.3 658.6,1860.3 664.2,1859.3 669.9,1858.0 675.5,1856.7 681.1,1855.3 686.8,1854.3 692.4,1853.5 698.0,1852.6 703.7,1851.8 709.3,1850.6 714.9,1849.0 720.5,1847.5 726.2,1846.3 731.8,1845.2 737.4,1844.0 743.1,1842.8 748.7,1841.5 754.3,1839.4 760.0,1837.7 765.6,1836.3 771.2,1835.3 776.9,1834.2 782.5,1832.8 788.1,1831.3 793.8,1829.3 799.4,1827.0 805.0,1825.3 810.6,1823.9 816.3,1822.9 821.9,1821.5 827.5,1820.0 833.2,1817.7 838.8,1815.9 844.4,1814.2 850.1,1812.7 855.7,1811.3 861.3,1809.5 867.0,1807.6 872.6,1805.1 878.2,1802.4 883.9,1800.6 889.5,1799.4 895.1,1798.1 900.8,1796.3 906.4,1794.2 912.0,1791.7 917.6,1789.0 923.3,1787.0 928.9,1785.3 934.5,1783.4 940.2,1781.9 945.8,1779.2 951.4,1776.2 957.1,1773.1 962.7,1771.1 968.3,1768.7 974.0,1766.7 979.6,1764.4 985.2,1761.9 990.9,1758.2 996.5,1754.8 1002.1,1751.6 1007.7,1749.5 1013.4,1747.0 1019.0,1744.1 1024.6,1741.3 1030.3,1737.6 1035.9,1734.4 1041.5,1731.1 1047.2,1729.2 1052.8,1726.5 1058.4,1724.2 1064.1,1721.5 1069.7,1717.5 1075.3,1713.9 1081.0,1711.3 1086.6,1708.5 1092.2,1706.0 1097.9,1703.7 1103.5,1700.9 1109.1,1697.3 1114.7,1693.6 1120.4,1690.9 1126.0,1688.1 1131.6,1685.6 1137.3,1683.4 1142.9,1680.4 1148.5,1677.2 1154.2,1674.2 1159.8,1671.4 1165.4,1669.3 1171.1,1666.8 1176.7,1664.7 1182.3,1661.4 1188.0,1658.5 1193.6,1655.6 1199.2,1652.3 1204.8,1649.3 1210.5,1646.9 1216.1,1644.1 1221.7,1641.2 1227.4,1636.8 1233.0,1632.6 1238.6,1629.5 1244.3,1627.2 1249.9,1625.1 1255.5,1621.3 1261.2,1617.9 1266.8,1612.3 1272.4,1607.5 1278.1,1602.9 1283.7,1598.8 1289.3,1596.0 1295.0,1592.3 1300.6,1588.0 1306.2,1583.0 1311.8,1577.9 1317.5,1573.6 1323.1,1569.5 1328.7,1564.7 1334.4,1560.1 1340.0,1555.3 1345.6,1547.8 1351.3,1542.4 1356.9,1537.7 1362.5,1533.5 1368.2,1527.8 1373.8,1521.9 1379.4,1514.9 1385.1,1507.1 1390.7,1499.3 1396.3,1491.4 1401.9,1487.0 1407.6,1481.0 1413.2,1473.9 1418.8,1464.4 1424.5,1453.3 1430.1,1444.4 1435.7,1433.1 1441.4,1426.3 1447.0,1420.9 1452.6,1413.4 1458.3,1399.1 1463.9,1383.1 1469.5,1363.7 1475.2,1349.6 1480.8,1336.5 1486.4,1318.6 1492.1,1301.5 1497.7,1277.3 1503.3,1252.0 1508.9,1227.8 1514.6,1212.6 1520.2,1198.3 1525.8,1182.5 1531.5,1171.5 1537.1,1150.2 1542.7,1132.9 1548.4,1112.6 1554.0,1093.9 1559.6,1081.0 1565.3,1068.4 1570.9,1054.0 1576.5,1033.5 1582.2,1016.1 1587.8,1015.7 1593.4,982.4 1599.0,968.6" stroke="#ffcd33" stroke-width="4.0"/>
<polyline points="67.3,2061.5 72.9,2061.5 78.6,2061.5 84.2,2061.5 89.8,2061.5 95.5,2061.5 101.1,2061.5 106.7,2061.5 112.4,2061.5 118.0,2061.5 123.6,2061.5 129.2,2061.5 134.9,2061.5 140.5,2061.5 146.1,2061.5 151.8,2061.4 157.4,2061.3 163.0,2061.3 168.7,2061.2 174.3,2061.0 179.9,2060.9 185.6,2060.7 191.2,2060.5 196.8,2060.1 202.5,2059.9 208.1,2059.5 213.7,2058.9 219.3,2058.1 225.0,2057.2 230.6,2056.3 236.2,2055.6 241.9,2055.2 247.5,2054.5 253.1,2053.6 258.8,2051.9 264.4,2050.1 270.0,2048.3 275.7,2047.2 281.3,2045.8 286.9,2045.0 292.6,2043.3 298.2,2041.0 303.8,2038.8 309.5,2037.0 315.1,2035.3 320.7,2034.4 326.3,2033.4 332.0,2031.4 337.6,2029.3 343.2,2027.5 348.9,2025.7 354.5,2024.0 360.1,2022.5 365.8,2021.0 371.4,2019.0 377.0,2017.1 382.7,2015.2 388.3,2013.4 393.9,2012.0 399.6,2010.6 405.2,2009.2 410.8,2007.7 416.4,2005.5 422.1,2003.4 427.7,2001.7 433.3,2000.2 439.0,1999.3 444.6,1998.1 450.2,1996.3 455.9,1994.6 461.5,1992.3 467.1,1990.5 472.8,1988.7 478.4,1987.4 484.0,1986.6 489.7,1984.9 495.3,1982.6 500.9,1980.9 506.6,1979.6 512.2,1978.2 517.8,1976.9 523.4,1975.8 529.1,1974.7 534.7,1972.8 540.3,1971.1 546.0,1969.4 551.6,1968.2 557.2,1966.9 562.9,1965.6 568.5,1964.0 574.1,1962.7 579.8,1961.4 585.4,1960.3 591.0,1959.0 596.7,1958.0 602.3,1957.2 607.9,1956.1 613.5,1954.7 619.2,1953.2 624.8,1952.2 630.4,1951.5 636.1,1950.9 641.7,1950.1 647.3,1949.3 653.0,1948.3 658.6,1947.1 664.2,1945.9 669.9,1945.2 675.5,1944.6 681.1,1943.7 686.8,1942.7 692.4,1941.7 698.0,1940.5 703.7,1939.6 709.3,1938.4 714.9,1937.4 720.5,1936.8 726.2,1935.9 731.8,1934.7 737.4,1933.1 743.1,1931.7 748.7,1930.7 754.3,1929.7 760.0,1928.4 765.6,1927.0 771.2,1925.5 776.9,1923.2 782.5,1921.0 788.1,1919.3 793.8,1918.2 799.4,1916.4 805.0,1914.1 810.6,1912.1 816.3,1910.1 821.9,1907.9 827.5,1906.6 833.2,1905.3 838.8,1903.6 844.4,1902.0 850.1,1899.1 855.7,1895.8 861.3,1893.6 867.0,1891.7 872.6,1889.6 878.2,1887.5 883.9,1885.6 889.5,1882.6 895.1,1879.3 900.8,1877.0 906.4,1875.1 912.0,1873.9 917.6,1872.5 923.3,1869.6 928.9,1867.3 934.5,1864.8 940.2,1862.6 945.8,1860.6 951.4,1858.5 957.1,1856.1 962.7,1854.2 968.3,1850.6 974.0,1847.2 979.6,1843.8 985.2,1842.2 990.9,1840.2 996.5,1837.7 1002.1,1834.5 1007.7,1832.1 1013.4,1828.8 1019.0,1826.5 1024.6,1823.8 1030.3,1821.2 1035.9,1819.7 1041.5,1816.6 1047.2,1812.7 1052.8,1809.7 1058.4,1806.4 1064.1,1804.4 1069.7,1803.2 1075.3,1801.0 1081.0,1798.0 1086.6,1795.5 1092.2,1792.0 1097.9,1788.7 1103.5,1787.0 1109.1,1785.1 1114.7,1783.5 1120.4,1781.3 1126.0,1778.0 1131.6,1775.5 1137.3,1772.5 1142.9,1771.0 1148.5,1769.8 1154.2,1767.7 1159.8,1765.8 1165.4,1762.8 1171.1,1760.0 1176.7,1758.0 1182.3,1755.9 1188.0,1754.2 1193.6,1752.3 1199.2,1750.5 1204.8,1747.8 1210.5,1745.3 1216.1,1743.1 1221.7,1741.6 1227.4,1739.5 1233.0,1737.6 1238.6,1734.3 1244.3,1730.9 1249.9,1727.2 1255.5,1723.5 1261.2,1720.8 1266.8,1718.7 1272.4,1716.4 1278.1,1713.2 1283.7,1708.1 1289.3,1703.9 1295.0,1699.9 1300.6,1696.7 1306.2,1693.1 1311.8,1689.1 1317.5,1685.9 1323.1,1681.5 1328.7,1676.5 1334.4,1671.1 1340.0,1665.7 1345.6,1661.8 1351.3,1658.4 1356.9,1653.3 1362.5,1646.9 1368.2,1640.3 1373.8,1634.0 1379.4,1629.1 1385.1,1624.1 1390.7,1619.6 1396.3,1614.2 1401.9,1605.0 1407.6,1596.3 1413.2,1587.1 1418.8,1582.9 1424.5,1575.8 1430.1,1569.6 1435.7,1559.9 1441.4,1549.8 1447.0,1537.4 1452.6,1525.6 1458.3,1516.6 1463.9,1511.2 1469.5,1501.4 1475.2,1490.7 1480.8,1471.4 1486.4,1446.7 1492.1,1425.7 1497.7,1413.7 1503.3,1400.8 1508.9,1383.7 1514.6,1365.4 1520.2,1348.7 1525.8,1331.8 1531.5,1313.3 1537.1,1297.2 1542.7,1283.4 1548.4,1271.9 1554.0,1251.5 1559.6,1232.6 1565.3,1210.6 1570.9,1194.4 1576.5,1179.2 1582.2,1161.5 1587.8,1160.6 1593.4,1134.8 1599.0,1112.5" stroke="#7cafdd" stroke-width="4.0"/>
<polyline points="67.3,2061.5 72.9,2061.5 78.6,2061.5 84.2,2061.5 89.8,2061.5 95.5,2061.5 101.1,2061.5 106.7,2061.5 112.4,2061.5 118.0,2061.5 123.6,2061.5 129.2,2061.5 134.9,2061.5 140.5,2061.5 146.1,2061.5 151.8,2061.4 157.4,2061.4 163.0,2061.4 168.7,2061.3 174.3,2061.3 179.9,2061.2 185.6,2061.1 191.2,2060.9 196.8,2060.7 202.5,2060.5 208.1,2060.3 213.7,2060.0 219.3,2059.8 225.0,2059.5 230.6,2058.9 236.2,2058.3 241.9,2057.8 247.5,2057.6 253.1,2057.3 258.8,2057.0 264.4,2056.2 270.0,2055.6 275.7,2054.9 281.3,2054.1 286.9,2053.5 292.6,2053.2 298.2,2052.2 303.8,2050.8 309.5,2049.4 315.1,2048.2 320.7,2046.7 326.3,2046.1 332.0,2045.7 337.6,2044.4 343.2,2042.7 348.9,2040.1 354.5,2036.4 360.1,2034.8 365.8,2033.2 371.4,2030.9 377.0,2029.0 382.7,2025.2 388.3,2022.4 393.9,2018.8 399.6,2016.3 405.2,2014.0 410.8,2013.4 416.4,2012.3 422.1,2009.5 427.7,2006.7 433.3,2003.4 439.0,2000.8 444.6,1998.9 450.2,1997.3 455.9,1994.4 461.5,1991.0 467.1,1988.5 472.8,1985.4 478.4,1983.0 484.0,1981.9 489.7,1980.2 495.3,1978.9 500.9,1976.5 506.6,1973.6 512.2,1970.4 517.8,1968.6 523.4,1966.6 529.1,1964.2 534.7,1961.8 540.3,1959.1 546.0,1956.2 551.6,1953.2 557.2,1950.3 562.9,1949.1 568.5,1948.5 574.1,1946.0 579.8,1943.5 585.4,1939.8 591.0,1937.7 596.7,1936.1 602.3,1934.9 607.9,1933.0 613.5,1931.4 619.2,1929.4 624.8,1927.0 630.4,1924.9 636.1,1922.7 641.7,1921.6 647.3,1920.8 653.0,1919.7 658.6,1917.5 664.2,1915.0 669.9,1912.0 675.5,1909.7 681.1,1907.9 686.8,1907.1 692.4,1906.1 698.0,1904.4 703.7,1902.3 709.3,1899.3 714.9,1897.0 720.5,1896.1 726.2,1894.7 731.8,1892.6 737.4,1889.5 743.1,1886.7 748.7,1883.7 754.3,1882.0 760.0,1879.8 765.6,1879.0 771.2,1877.1 776.9,1873.9 782.5,1870.3 788.1,1866.5 793.8,1862.8 799.4,1860.1 805.0,1857.7 810.6,1855.8 816.3,1851.6 821.9,1848.1 827.5,1844.3 833.2,1841.7 838.8,1840.2 844.4,1838.7 850.1,1836.0 855.7,1831.7 861.3,1827.5 867.0,1822.4 872.6,1820.0 878.2,1817.6 883.9,1814.6 889.5,1811.8 895.1,1807.0 900.8,1802.5 906.4,1796.6 912.0,1793.4 917.6,1791.3 923.3,1788.5 928.9,1786.7 934.5,1783.2 940.2,1779.4 945.8,1773.5 951.4,1769.4 957.1,1767.1 962.7,1765.3 968.3,1762.1 974.0,1757.2 979.6,1751.9 985.2,1746.7 990.9,1742.3 996.5,1741.1 1002.1,1737.7 1007.7,1735.1 1013.4,1729.2 1019.0,1722.3 1024.6,1715.6 1030.3,1709.9 1035.9,1707.8 1041.5,1705.6 1047.2,1703.4 1052.8,1700.3 1058.4,1695.0 1064.1,1689.9 1069.7,1685.5 1075.3,1681.9 1081.0,1677.7 1086.6,1672.2 1092.2,1666.8 1097.9,1662.1 1103.5,1657.1 1109.1,1654.0 1114.7,1649.8 1120.4,1647.4 1126.0,1643.7 1131.6,1637.1 1137.3,1631.2 1142.9,1624.0 1148.5,1620.9 1154.2,1619.1 1159.8,1617.7 1165.4,1614.9 1171.1,1608.3 1176.7,1601.8 1182.3,1594.7 1188.0,1589.4 1193.6,1586.7 1199.2,1583.2 1204.8,1580.6 1210.5,1574.9 1216.1,1568.4 1221.7,1560.4 1227.4,1554.9 1233.0,1551.6 1238.6,1550.5 1244.3,1545.1 1249.9,1538.2 1255.5,1530.1 1261.2,1522.8 1266.8,1515.5 1272.4,1512.0 1278.1,1506.9 1283.7,1501.5 1289.3,1496.7 1295.0,1490.9 1300.6,1481.9 1306.2,1476.6 1311.8,1471.8 1317.5,1467.2 1323.1,1464.3 1328.7,1457.7 1334.4,1447.8 1340.0,1441.8 1345.6,1434.6 1351.3,1428.9 1356.9,1423.6 1362.5,1418.4 1368.2,1411.8 1373.8,1404.0 1379.4,1392.6 1385.1,1387.4 1390.7,1379.0 1396.3,1372.0 1401.9,1361.9 1407.6,1350.5 1413.2,1336.1 1418.8,1323.0 1424.5,1310.9 1430.1,1306.2 1435.7,1300.9 1441.4,1292.9 1447.0,1280.3 1452.6,1258.2 1458.3,1237.2 1463.9,1218.5 1469.5,1193.7 1475.2,1173.9 1480.8,1156.5 1486.4,1127.1 1492.1,1096.2 1497.7,1063.6 1503.3,1029.7 1508.0,1000.0 1512.8,964.8 1520.2,928.1 1534.9,881.7 1544.6,842.5 1553.2,793.6 1559.3,771.6 1565.4,764.2 1578.9,727.5 1588.7,688.4 1599.0,667.6" stroke="#8cc168" stroke-width="4.0"/>
<polyline points="67.3,2061.5 72.9,2061.5 78.6,2061.5 84.2,2061.5 89.8,2061.5 95.5,2061.5 101.1,2061.5 106.7,2061.5 112.4,2061.5 118.0,2061.5 123.6,2061.5 129.2,2061.5 134.9,2061.5 140.5,2061.5 146.1,2061.5 151.8,2061.5 157.4,2061.4 163.0,2061.4 168.7,2061.4 174.3,2061.3 179.9,2061.3 185.6,2061.1 191.2,2061.0 196.8,2060.8 202.5,2060.7 208.1,2060.6 213.7,2060.2 219.3,2059.9 225.0,2059.4 230.6,2059.1 236.2,2058.8 241.9,2058.7 247.5,2058.3 253.1,2058.0 258.8,2057.6 264.4,2056.9 270.0,2056.5 275.7,2056.1 281.3,2055.6 286.9,2055.1 292.6,2054.5 298.2,2053.7 303.8,2052.9 309.5,2052.2 315.1,2051.6 320.7,2051.1 326.3,2050.6 332.0,2049.7 337.6,2048.6 343.2,2047.1 348.9,2045.8 354.5,2044.6 360.1,2044.0 365.8,2042.9 371.4,2041.9 377.0,2040.3 382.7,2038.5 388.3,2037.1 393.9,2035.7 399.6,2034.6 405.2,2033.7 410.8,2032.6 416.4,2031.3 422.1,2029.7 427.7,2028.3 433.3,2027.1 439.0,2026.5 444.6,2025.7 450.2,2024.4 455.9,2022.8 461.5,2021.3 467.1,2019.8 472.8,2018.7 478.4,2018.0 484.0,2016.9 489.7,2016.0 495.3,2014.9 500.9,2013.1 506.6,2011.7 512.2,2010.9 517.8,2009.7 523.4,2008.6 529.1,2007.4 534.7,2005.8 540.3,2004.4 546.0,2002.9 551.6,2001.6 557.2,2000.9 562.9,2000.3 568.5,1999.1 574.1,1997.9 579.8,1996.6 585.4,1995.3 591.0,1994.1 596.7,1993.1 602.3,1992.5 607.9,1991.4 613.5,1990.0 619.2,1988.5 624.8,1987.6 630.4,1986.9 636.1,1986.4 641.7,1985.5 647.3,1984.7 653.0,1983.6 658.6,1982.2 664.2,1981.2 669.9,1980.3 675.5,1979.4 681.1,1978.8 686.8,1978.0 692.4,1976.8 698.0,1975.4 703.7,1973.9 709.3,1972.8 714.9,1972.0 720.5,1971.2 726.2,1969.9 731.8,1968.1 737.4,1966.7 743.1,1964.8 748.7,1963.8 754.3,1962.7 760.0,1961.4 765.6,1959.4 771.2,1956.6 776.9,1953.8 782.5,1951.5 788.1,1949.0 793.8,1947.9 799.4,1946.1 805.0,1944.0 810.6,1940.5 816.3,1937.3 821.9,1933.7 827.5,1931.6 833.2,1929.1 838.8,1927.6 844.4,1924.3 850.1,1920.1 855.7,1915.5 861.3,1912.8 867.0,1909.7 872.6,1907.1 878.2,1904.3 883.9,1900.5 889.5,1896.3 895.1,1891.9 900.8,1889.0 906.4,1886.9 912.0,1883.9 917.6,1882.0 923.3,1880.0 928.9,1876.1 934.5,1872.4 940.2,1868.1 945.8,1864.7 951.4,1861.7 957.1,1859.5 962.7,1856.7 968.3,1852.9 974.0,1849.5 979.6,1846.9 985.2,1844.0 990.9,1841.4 996.5,1838.1 1002.1,1834.4 1007.7,1830.8 1013.4,1827.0 1019.0,1822.4 1024.6,1819.3 1030.3,1817.2 1035.9,1815.3 1041.5,1812.4 1047.2,1808.8 1052.8,1804.8 1058.4,1801.2 1064.1,1797.6 1069.7,1794.8 1075.3,1791.5 1081.0,1788.0 1086.6,1783.6 1092.2,1779.4 1097.9,1775.9 1103.5,1773.6 1109.1,1770.6 1114.7,1767.9 1120.4,1764.5 1126.0,1759.8 1131.6,1754.8 1137.3,1750.7 1142.9,1748.0 1148.5,1745.7 1154.2,1742.9 1159.8,1740.0 1165.4,1736.1 1171.1,1732.1 1176.7,1728.4 1182.3,1724.9 1188.0,1722.1 1193.6,1718.9 1199.2,1714.7 1204.8,1710.6 1210.5,1706.4 1216.1,1701.0 1221.7,1697.8 1227.4,1695.6 1233.0,1692.5 1238.6,1688.8 1244.3,1682.9 1249.9,1676.2 1255.5,1670.6 1261.2,1667.7 1266.8,1664.8 1272.4,1660.7 1278.1,1657.1 1283.7,1656.7 1289.3,1656.0 1295.0,1638.6 1300.6,1634.3 1306.2,1632.2 1311.8,1628.7 1317.5,1624.5 1323.1,1624.2 1328.7,1623.9 1334.4,1608.7 1340.0,1603.4 1345.6,1598.5 1351.3,1594.8 1356.9,1588.6 1362.5,1588.0 1368.2,1587.2 1373.8,1567.4 1379.4,1563.1 1385.1,1560.2 1390.7,1555.4 1396.3,1550.7 1401.9,1549.8 1407.6,1548.7 1413.2,1526.2 1418.8,1519.0 1424.5,1511.5 1430.1,1506.5 1435.7,1496.7 1441.4,1495.8 1447.0,1494.2 1452.6,1457.6 1458.3,1445.3 1463.9,1437.0 1469.5,1422.4 1475.2,1405.4 1480.8,1403.7 1486.4,1401.5 1492.1,1343.2 1497.7,1329.2 1503.3,1313.1 1508.9,1301.3 1514.6,1278.3 1520.2,1277.0 1525.8,1275.8 1531.5,1215.6 1537.1,1204.1 1542.7,1188.8 1548.4,1170.9 1554.0,1151.9 1559.6,1151.5 1565.3,1151.3 1570.9,1083.5 1576.5,1071.5 1582.2,1062.0 1587.8,1061.2 1593.4,1026.0 1599.0,1025.0" stroke="#335aa1" stroke-width="2.1"/>
<polyline points="67.3,2061.5 72.9,2061.5 78.6,2061.5 84.2,2061.5 89.8,2061.5 95.5,2061.5 101.1,2061.5 106.7,2061.5 112.4,2061.5 118.0,2061.5 123.6,2061.5 129.2,2061.5 134.9,2061.5 140.5,2061.5 146.1,2061.5 151.8,2061.5 157.4,2061.4 163.0,2061.4 168.7,2061.4 174.3,2061.3 179.9,2061.2 185.6,2061.1 191.2,2061.1 196.8,2061.0 202.5,2060.8 208.1,2060.7 213.7,2060.4 219.3,2060.1 225.0,2059.8 230.6,2059.6 236.2,2059.4 241.9,2059.1 247.5,2058.8 253.1,2058.3 258.8,2057.7 264.4,2057.1 270.0,2056.5 275.7,2056.0 281.3,2055.5 286.9,2055.0 292.6,2054.2 298.2,2053.2 303.8,2052.4 309.5,2051.9 315.1,2051.6 320.7,2051.1 326.3,2050.4 332.0,2049.5 337.6,2048.7 343.2,2048.1 348.9,2047.5 354.5,2047.0 360.1,2046.4 365.8,2045.9 371.4,2045.0 377.0,2043.9 382.7,2043.0 388.3,2042.5 393.9,2042.1 399.6,2041.7 405.2,2041.0 410.8,2040.1 416.4,2039.3 422.1,2038.6 427.7,2037.8 433.3,2037.4 439.0,2037.0 444.6,2036.4 450.2,2035.6 455.9,2034.6 461.5,2033.9 467.1,2033.1 472.8,2032.6 478.4,2032.3 484.0,2031.5 489.7,2030.9 495.3,2030.1 500.9,2029.5 506.6,2028.7 512.2,2028.2 517.8,2027.6 523.4,2026.8 529.1,2025.9 534.7,2025.2 540.3,2024.4 546.0,2023.8 551.6,2023.3 557.2,2022.6 562.9,2021.7 568.5,2020.7 574.1,2019.6 579.8,2018.9 585.4,2018.4 591.0,2017.9 596.7,2017.4 602.3,2016.8 607.9,2016.1 613.5,2015.1 619.2,2014.2 624.8,2013.7 630.4,2013.0 636.1,2012.6 641.7,2011.8 647.3,2010.9 653.0,2010.1 658.6,2009.1 664.2,2008.3 669.9,2007.7 675.5,2007.1 681.1,2006.1 686.8,2005.1 692.4,2004.1 698.0,2003.4 703.7,2002.8 709.3,2001.9 714.9,2001.0 720.5,2000.1 726.2,1998.8 731.8,1997.7 737.4,1996.6 743.1,1995.8 748.7,1994.9 754.3,1994.3 760.0,1992.9 765.6,1991.2 771.2,1989.2 776.9,1987.5 782.5,1985.7 788.1,1984.3 793.8,1983.0 799.4,1981.4 805.0,1979.0 810.6,1976.4 816.3,1973.7 821.9,1971.6 827.5,1970.3 833.2,1969.2 838.8,1967.4 844.4,1964.2 850.1,1961.0 855.7,1957.6 861.3,1955.9 867.0,1953.5 872.6,1952.1 878.2,1949.3 883.9,1946.8 889.5,1943.5 895.1,1941.1 900.8,1938.8 906.4,1936.7 912.0,1935.1 917.6,1932.6 923.3,1930.2 928.9,1927.2 934.5,1924.7 940.2,1922.2 945.8,1920.0 951.4,1918.1 957.1,1915.8 962.7,1913.0 968.3,1910.4 974.0,1907.1 979.6,1905.1 985.2,1903.4 990.9,1901.5 996.5,1898.5 1002.1,1895.2 1007.7,1892.5 1013.4,1889.3 1019.0,1886.9 1024.6,1885.4 1030.3,1883.4 1035.9,1881.0 1041.5,1877.5 1047.2,1873.6 1052.8,1871.1 1058.4,1868.8 1064.1,1866.9 1069.7,1864.4 1075.3,1861.9 1081.0,1858.9 1086.6,1855.6 1092.2,1851.9 1097.9,1848.8 1103.5,1847.3 1109.1,1845.6 1114.7,1842.4 1120.4,1839.5 1126.0,1836.6 1131.6,1833.4 1137.3,1831.3 1142.9,1829.4 1148.5,1827.1 1154.2,1825.1 1159.8,1822.1 1165.4,1819.3 1171.1,1816.3 1176.7,1813.6 1182.3,1811.7 1188.0,1810.2 1193.6,1807.2 1199.2,1803.5 1204.8,1799.7 1210.5,1797.1 1216.1,1794.5 1221.7,1791.9 1227.4,1789.8 1233.0,1786.6 1238.6,1782.1 1244.3,1778.1 1249.9,1775.0 1255.5,1772.8 1261.2,1770.3 1266.8,1767.4 1272.4,1763.5 1278.1,1758.2 1283.7,1753.4 1289.3,1747.6 1295.0,1744.2 1300.6,1741.5 1306.2,1738.2 1311.8,1733.4 1317.5,1729.0 1323.1,1724.0 1328.7,1718.1 1334.4,1714.3 1340.0,1709.8 1345.6,1705.6 1351.3,1699.7 1356.9,1693.4 1362.5,1685.6 1368.2,1678.2 1373.8,1672.9 1379.4,1667.5 1385.1,1662.9 1390.7,1656.7 1396.3,1648.0 1401.9,1641.5 1407.6,1635.4 1413.2,1628.6 1418.8,1624.1 1424.5,1620.2 1430.1,1614.9 1435.7,1606.2 1441.4,1597.9 1447.0,1589.0 1452.6,1583.4 1458.3,1577.4 1463.9,1570.5 1469.5,1564.6 1475.2,1553.2 1480.8,1544.0 1486.4,1531.7 1492.1,1526.0 1497.7,1517.5 1503.3,1511.5 1508.9,1500.3 1514.6,1489.6 1520.2,1476.8 1525.8,1462.6 1531.5,1451.1 1537.1,1444.8 1542.7,1435.8 1548.4,1426.3 1554.0,1412.1 1559.6,1396.8 1565.3,1378.7 1570.9,1367.1 1576.5,1355.8 1582.2,1347.5 1587.8,1347.5 1593.4,1323.6 1599.0,1301.1" stroke="#d26012" stroke-width="4.0"/>
<polyline points="67.3,2061.5 72.9,2061.5 78.6,2061.5 84.2,2061.5 89.8,2061.5 95.5,2061.5 101.1,2061.5 106.7,2061.5 112.4,2061.5 118.0,2061.5 123.6,2061.5 129.2,2061.5 134.9,2061.5 140.5,2061.5 146.1,2061.4 151.8,2061.0 157.4,2060.7 163.0,2060.4 168.7,2060.1 174.3,2059.9 179.9,2059.3 185.6,2058.6 191.2,2057.6 196.8,2056.0 202.5,2054.4 208.1,2053.4 213.7,2052.1 219.3,2051.4 225.0,2049.0 230.6,2044.4 236.2,2037.7 241.9,2029.2 247.5,2020.8 253.1,2014.5 258.8,2008.4 264.4,2003.1 270.0,1997.1 275.7,1990.9 281.3,1985.5 286.9,1981.3 292.6,1978.3 298.2,1975.7 303.8,1973.3 309.5,1971.0 315.1,1968.3 320.7,1966.0 326.3,1964.3 332.0,1962.7 337.6,1961.4 343.2,1959.8 348.9,1958.3 354.5,1956.7 360.1,1955.1 365.8,1953.9 371.4,1952.7 377.0,1951.7 382.7,1950.4 388.3,1948.9 393.9,1947.3 399.6,1945.7 405.2,1944.3 410.8,1943.1 416.4,1941.8 422.1,1940.5 427.7,1938.9 433.3,1936.8 439.0,1934.8 444.6,1933.1 450.2,1931.5 455.9,1930.2 461.5,1928.8 467.1,1927.0 472.8,1925.4 478.4,1923.6 484.0,1922.3 489.7,1921.0 495.3,1919.5 500.9,1917.7 506.6,1916.0 512.2,1913.8 517.8,1911.9 523.4,1909.8 529.1,1908.4 534.7,1907.1 540.3,1905.4 546.0,1904.0 551.6,1902.6 557.2,1901.1 562.9,1899.1 568.5,1897.7 574.1,1896.6 579.8,1894.8 585.4,1891.9 591.0,1890.0 596.7,1887.6 602.3,1886.1 607.9,1885.2 613.5,1883.6 619.2,1881.4 624.8,1877.8 630.4,1875.2 636.1,1872.7 641.7,1870.7 647.3,1870.0 653.0,1869.2 658.6,1866.9 664.2,1863.8 669.9,1860.4 675.5,1856.0 681.1,1853.8 686.8,1851.5 692.4,1851.0 698.0,1848.0 703.7,1844.3 709.3,1839.4 714.9,1834.7 720.5,1832.3 726.2,1829.8 731.8,1827.2 737.4,1822.9 743.1,1817.4 748.7,1813.2 754.3,1806.5 760.0,1800.5 765.6,1798.5 771.2,1797.7 776.9,1793.5 782.5,1787.7 788.1,1779.5 793.8,1771.9 799.4,1767.2 805.0,1760.2 810.6,1759.0 816.3,1747.4 821.9,1734.4 827.5,1718.4 833.2,1709.0 838.8,1703.1 844.4,1694.6 850.1,1694.2 855.7,1669.0 861.3,1656.8 867.0,1644.6 872.6,1634.8 878.2,1627.1 883.9,1619.6 889.5,1618.9 895.1,1607.1 900.8,1599.7 906.4,1593.3 912.0,1587.8 917.6,1582.7 923.3,1577.7 928.9,1577.0 934.5,1564.2 940.2,1555.4 945.8,1545.9 951.4,1536.5 957.1,1529.1 962.7,1523.5 968.3,1523.1 974.0,1512.3 979.6,1507.0 985.2,1501.3 990.9,1496.7 996.5,1492.9 1002.1,1488.7 1007.7,1488.4 1013.4,1482.4 1019.0,1478.7 1024.6,1475.3 1030.3,1472.3 1035.9,1469.0 1041.5,1466.6 1047.2,1466.3 1052.8,1461.1 1058.4,1457.8 1064.1,1454.3 1069.7,1450.2 1075.3,1447.2 1081.0,1444.3 1086.6,1444.1 1092.2,1438.9 1097.9,1435.9 1103.5,1432.5 1109.1,1429.1 1114.7,1426.3 1120.4,1423.5 1126.0,1423.4 1131.6,1418.5 1137.3,1415.4 1142.9,1411.6 1148.5,1408.0 1154.2,1404.5 1159.8,1402.2 1165.4,1402.0 1171.1,1397.5 1176.7,1394.5 1182.3,1391.2 1188.0,1388.5 1193.6,1386.0 1199.2,1383.9 1204.8,1383.7 1210.5,1379.7 1216.1,1377.5 1221.7,1375.2 1227.4,1372.5 1233.0,1370.3 1238.6,1368.6 1244.3,1368.4 1249.9,1364.2 1255.5,1361.9 1261.2,1359.3 1266.8,1357.3 1272.4,1354.8 1278.1,1352.8 1283.7,1352.8 1289.3,1348.2 1295.0,1344.1 1300.6,1339.1 1306.2,1335.4 1311.8,1333.5 1317.5,1332.4 1323.1,1332.3 1328.7,1330.0 1334.4,1328.7 1340.0,1326.6 1345.6,1324.5 1351.3,1322.1 1356.9,1319.4 1362.8,1314.7 1404.8,1295.3 1443.5,1275.9 1472.5,1259.8 1498.4,1240.4 1524.2,1211.4 1570.0,1150.0 1599.0,1096.7" stroke="#848484" stroke-width="4.0"/>
<polyline points="67.3,2061.5 72.9,2061.5 78.6,2061.5 84.2,2061.5 89.8,2061.5 95.5,2061.5 101.1,2061.5 106.7,2061.5 112.4,2061.5 118.0,2061.5 123.6,2061.5 129.2,2061.5 134.9,2061.5 140.5,2061.5 146.1,2061.5 151.8,2061.5 157.4,2061.5 163.0,2061.4 168.7,2061.4 174.3,2061.4 179.9,2061.4 185.6,2061.3 191.2,2061.2 196.8,2061.0 202.5,2060.8 208.1,2060.7 213.7,2060.5 219.3,2060.4 225.0,2060.3 230.6,2060.2 236.2,2059.9 241.9,2059.6 247.5,2059.4 253.1,2059.1 258.8,2058.8 264.4,2058.4 270.0,2057.9 275.7,2057.4 281.3,2056.9 286.9,2056.3 292.6,2055.8 298.2,2055.6 303.8,2055.3 309.5,2054.7 315.1,2054.1 320.7,2053.4 326.3,2052.9 332.0,2052.4 337.6,2052.1 343.2,2051.7 348.9,2051.3 354.5,2050.6 360.1,2050.1 365.8,2049.6 371.4,2049.2 377.0,2048.7 382.7,2048.4 388.3,2047.8 393.9,2047.0 399.6,2046.3 405.2,2045.9 410.8,2045.4 416.4,2045.1 422.1,2044.7 427.7,2044.0 433.3,2043.4 439.0,2042.6 444.6,2042.1 450.2,2041.7 455.9,2041.4 461.5,2040.9 467.1,2040.3 472.8,2039.7 478.4,2038.9 484.0,2038.4 489.7,2037.9 495.3,2037.6 500.9,2037.0 506.6,2036.4 512.2,2035.5 517.8,2034.9 523.4,2034.1 529.1,2033.5 534.7,2033.3 540.3,2033.0 546.0,2032.2 551.6,2031.6 557.2,2031.0 562.9,2030.5 568.5,2030.1 574.1,2029.7 579.8,2029.4 585.4,2028.8 591.0,2028.0 596.7,2027.1 602.3,2026.5 607.9,2026.1 613.5,2025.6 619.2,2025.3 624.8,2024.7 630.4,2024.0 636.1,2023.2 641.7,2022.5 647.3,2022.0 653.0,2021.8 658.6,2021.4 664.2,2020.7 669.9,2020.0 675.5,2019.2 681.1,2018.6 686.8,2018.1 692.4,2017.7 698.0,2017.4 703.7,2017.0 709.3,2016.3 714.9,2015.6 720.5,2015.0 726.2,2014.7 731.8,2014.4 737.4,2014.1 743.1,2013.7 748.7,2013.2 754.3,2012.8 760.0,2012.4 765.6,2012.1 771.2,2011.9 776.9,2011.7 782.5,2011.5 788.1,2011.1 793.8,2010.8 799.4,2010.6 805.0,2010.4 810.6,2010.1 816.3,2009.9 821.9,2009.6 827.5,2009.3 833.2,2009.0 838.8,2008.8 844.4,2008.7 850.1,2008.5 855.7,2008.3 861.3,2008.1 867.0,2007.8 872.6,2007.5 878.2,2007.2 883.9,2007.0 889.5,2006.9 895.1,2006.7 900.8,2006.5 906.4,2006.1 912.0,2005.8 917.6,2005.4 923.3,2005.3 928.9,2005.1 934.5,2005.0 940.2,2004.7 945.8,2004.3 951.4,2003.9 957.1,2003.6 962.7,2003.4 968.3,2003.3 974.0,2003.0 979.6,2002.7 985.2,2002.2 990.9,2001.8 996.5,2001.4 1002.1,2001.2 1007.7,2001.0 1013.4,2000.8 1019.0,2000.5 1024.6,2000.0 1030.3,1999.5 1035.9,1999.2 1041.5,1999.1 1047.2,1998.9 1052.8,1998.6 1058.4,1998.2 1064.1,1997.8 1069.7,1997.2 1075.3,1996.9 1081.0,1996.7 1086.6,1996.6 1092.2,1996.3 1097.9,1996.0 1103.5,1995.4 1109.1,1995.0 1114.7,1994.5 1120.4,1994.2 1126.0,1993.9 1131.6,1993.6 1137.3,1993.3 1142.9,1992.9 1148.5,1992.5 1154.2,1992.2 1159.8,1992.1 1165.4,1991.7 1171.1,1991.4 1176.7,1990.9 1182.3,1990.3 1188.0,1989.8 1193.6,1989.4 1199.2,1989.2 1204.8,1988.9 1210.5,1988.7 1216.1,1988.3 1221.7,1987.8 1227.4,1987.2 1233.0,1986.7 1238.6,1986.3 1244.3,1985.9 1249.9,1985.7 1255.5,1985.3 1261.2,1984.7 1266.8,1984.0 1272.4,1983.4 1278.1,1983.0 1283.7,1982.8 1289.3,1982.6 1295.0,1982.0 1300.6,1981.3 1306.2,1980.7 1311.8,1980.3 1317.5,1980.0 1323.1,1979.6 1328.7,1979.4 1334.4,1978.8 1340.0,1978.1 1345.6,1977.5 1351.3,1976.8 1356.9,1976.3 1362.5,1976.1 1368.2,1975.5 1373.8,1975.0 1379.4,1974.2 1385.1,1973.2 1390.7,1972.6 1396.3,1972.0 1401.9,1971.4 1407.6,1970.7 1413.2,1969.9 1418.8,1968.8 1424.5,1967.9 1430.1,1966.7 1435.7,1965.8 1441.4,1965.3 1447.0,1964.7 1452.6,1963.7 1458.3,1962.0 1463.9,1959.3 1469.5,1957.4 1475.2,1956.4 1480.8,1955.2 1486.4,1952.7 1492.1,1949.3 1497.7,1946.5 1503.3,1942.3 1508.9,1938.6 1514.6,1937.4 1520.2,1936.0 1525.8,1934.0 1531.5,1931.7 1537.1,1927.8 1542.7,1925.0 1548.4,1922.0 1554.0,1918.9 1560.0,1915.8 1572.0,1909.0 1585.4,1901.1 1591.3,1899.6 1599.0,1899.6" stroke="#cc9a00" stroke-width="4.0"/>
<polyline points="67.3,2061.5 72.9,2061.5 78.6,2061.5 84.2,2061.5 89.8,2061.5 95.5,2061.5 101.1,2061.5 106.7,2061.5 112.4,2061.5 118.0,2061.5 123.6,2061.5 129.2,2061.5 134.9,2061.5 140.5,2061.5 146.1,2061.5 151.8,2061.4 157.4,2061.4 163.0,2061.3 168.7,2061.2 174.3,2061.2 179.9,2061.1 185.6,2061.0 191.2,2060.6 196.8,2060.2 202.5,2059.6 208.1,2059.3 213.7,2058.9 219.3,2058.3 225.0,2057.8 230.6,2057.0 236.2,2055.8 241.9,2054.9 247.5,2053.9 253.1,2053.3 258.8,2052.5 264.4,2051.5 270.0,2049.8 275.7,2047.6 281.3,2045.0 286.9,2042.6 292.6,2040.6 298.2,2038.5 303.8,2035.7 309.5,2031.9 315.1,2028.7 320.7,2025.9 326.3,2024.4 332.0,2022.2 337.6,2020.2 343.2,2018.0 348.9,2015.4 354.5,2012.4 360.1,2009.5 365.8,2006.3 371.4,2003.7 377.0,2000.7 382.7,1997.9 388.3,1994.2 393.9,1990.6 399.6,1987.4 405.2,1984.4 410.8,1981.3 416.4,1978.7 422.1,1975.4 427.7,1972.2 433.3,1968.5 439.0,1965.4 444.6,1961.9 450.2,1959.2 455.9,1956.4 461.5,1952.9 467.1,1949.0 472.8,1945.7 478.4,1942.5 484.0,1939.8 489.7,1937.4 495.3,1934.5 500.9,1931.5 506.6,1928.5 512.2,1925.3 517.8,1922.1 523.4,1919.0 529.1,1916.5 534.7,1914.3 540.3,1911.6 546.0,1908.8 551.6,1906.0 557.2,1903.8 562.9,1901.9 568.5,1900.6 574.1,1899.4 579.8,1897.2 585.4,1894.2 591.0,1892.1 596.7,1889.6 602.3,1887.4 607.9,1886.0 613.5,1884.6 619.2,1883.3 624.8,1881.8 630.4,1879.9 636.1,1878.0 641.7,1876.8 647.3,1876.3 653.0,1874.7 658.6,1873.1 664.2,1871.0 669.9,1868.7 675.5,1866.9 681.1,1865.3 686.8,1863.9 692.4,1862.4 698.0,1861.4 703.7,1859.9 709.3,1857.3 714.9,1854.9 720.5,1853.7 726.2,1852.4 731.8,1851.7 737.4,1850.3 743.1,1848.2 748.7,1845.4 754.3,1842.9 760.0,1841.2 765.6,1839.6 771.2,1838.6 776.9,1837.2 782.5,1834.0 788.1,1830.9 793.8,1828.7 799.4,1826.3 805.0,1824.7 810.6,1822.9 816.3,1821.1 821.9,1819.2 827.5,1816.9 833.2,1814.1 838.8,1811.8 844.4,1809.7 850.1,1807.7 855.7,1805.5 861.3,1802.4 867.0,1799.0 872.6,1796.3 878.2,1794.4 883.9,1793.5 889.5,1792.4 895.1,1790.1 900.8,1787.5 906.4,1784.1 912.0,1781.4 917.6,1778.8 923.3,1777.3 928.9,1775.5 934.5,1773.9 940.2,1770.8 945.8,1768.4 951.4,1766.5 957.1,1763.9 962.7,1761.7 968.3,1760.5 974.0,1759.0 979.6,1756.4 985.2,1753.6 990.9,1751.1 996.5,1749.3 1002.1,1748.2 1007.7,1746.9 1013.4,1744.4 1019.0,1742.1 1024.6,1739.7 1030.3,1736.5 1035.9,1734.9 1041.5,1733.9 1047.2,1732.6 1052.8,1731.1 1058.4,1728.4 1064.1,1725.0 1069.7,1722.7 1075.3,1720.6 1081.0,1719.1 1086.6,1717.5 1092.2,1716.1 1097.9,1713.4 1103.5,1711.3 1109.1,1708.8 1114.7,1707.0 1120.4,1705.6 1126.0,1704.1 1131.6,1702.7 1137.3,1700.6 1142.9,1698.2 1148.5,1696.2 1154.2,1695.1 1159.8,1694.5 1165.4,1693.0 1171.1,1691.2 1176.7,1689.0 1182.3,1686.8 1188.0,1684.6 1193.6,1683.6 1199.2,1682.1 1204.8,1680.5 1210.5,1678.9 1216.1,1677.0 1221.7,1674.2 1227.4,1672.3 1233.0,1670.6 1238.6,1669.8 1244.3,1668.4 1249.9,1666.9 1255.5,1664.8 1261.2,1662.9 1266.8,1660.3 1272.4,1658.6 1278.1,1657.2 1283.7,1656.1 1289.3,1654.2 1295.0,1651.9 1300.6,1649.0 1306.2,1646.4 1311.8,1644.4 1317.5,1643.7 1323.1,1642.9 1328.7,1641.0 1334.4,1638.9 1340.0,1636.7 1345.6,1634.7 1351.3,1633.1 1356.9,1631.5 1362.5,1630.4 1368.2,1628.3 1373.8,1625.8 1379.4,1622.9 1385.1,1619.6 1390.7,1617.5 1396.3,1616.3 1401.9,1614.0 1407.6,1612.2 1413.2,1609.6 1418.8,1606.6 1424.5,1603.8 1430.1,1600.7 1435.7,1598.5 1441.4,1596.6 1447.0,1594.3 1452.6,1590.2 1458.3,1585.8 1463.9,1581.3 1469.5,1577.3 1475.2,1574.2 1480.8,1572.7 1486.4,1569.2 1492.1,1563.2 1497.7,1555.8 1503.3,1549.9 1508.9,1544.8 1514.6,1540.0 1520.2,1535.8 1525.8,1530.7 1531.5,1521.9 1537.1,1512.3 1542.7,1505.6 1548.4,1501.7 1554.0,1498.7 1559.6,1492.7 1565.3,1488.0 1570.9,1479.5 1576.5,1467.1 1582.2,1454.8 1587.8,1447.6 1593.4,1442.1 1599.0,1437.3" stroke="#327dc2" stroke-width="2.1"/>
<polyline points="67.3,2061.5 72.9,2061.5 78.6,2061.5 84.2,2061.5 89.8,2061.5 95.5,2061.5 101.1,2061.5 106.7,2061.5 112.4,2061.5 118.0,2061.5 123.6,2061.5 129.2,2061.5 134.9,2061.5 140.5,2061.5 146.1,2061.4 151.8,2061.2 157.4,2061.0 163.0,2060.8 168.7,2060.6 174.3,2060.6 179.9,2060.4 185.6,2059.8 191.2,2058.4 196.8,2056.9 202.5,2054.5 208.1,2052.7 213.7,2050.8 219.3,2049.8 225.0,2047.1 230.6,2043.5 236.2,2038.9 241.9,2034.5 247.5,2029.5 253.1,2025.5 258.8,2021.4 264.4,2017.0 270.0,2012.4 275.7,2007.3 281.3,2002.6 286.9,1998.3 292.6,1993.4 298.2,1988.4 303.8,1983.8 309.5,1977.7 315.1,1970.8 320.7,1964.6 326.3,1958.2 332.0,1952.3 337.6,1946.9 343.2,1940.7 348.9,1934.4 354.5,1926.9 360.1,1919.9 365.8,1913.9 371.4,1909.0 377.0,1903.7 382.7,1898.8 388.3,1893.4 393.9,1887.0 399.6,1881.4 405.2,1876.3 410.8,1872.6 416.4,1868.7 422.1,1864.2 427.7,1860.0 433.3,1855.1 439.0,1851.0 444.6,1846.9 450.2,1843.1 455.9,1840.0 461.5,1836.6 467.1,1832.8 472.8,1829.6 478.4,1826.2 484.0,1823.4 489.7,1820.9 495.3,1818.6 500.9,1816.1 506.6,1813.1 512.2,1810.4 517.8,1807.7 523.4,1805.0 529.1,1802.9 534.7,1801.0 540.3,1798.7 546.0,1796.4 551.6,1794.1 557.2,1792.3 562.9,1791.1 568.5,1790.5 574.1,1790.1 579.8,1789.0 585.4,1788.1 591.0,1786.8 596.7,1785.6 602.3,1784.9 607.9,1784.2 613.5,1783.6 619.2,1783.2 624.8,1782.3 630.4,1781.3 636.1,1780.8 641.7,1780.4 647.3,1780.0 653.0,1779.6 658.6,1779.2 664.2,1778.5 669.9,1777.9 675.5,1777.3 681.1,1776.9 686.8,1776.6 692.4,1776.2 698.0,1775.7 703.7,1775.3 709.3,1774.5 714.9,1773.7 720.5,1773.3 726.2,1773.0 731.8,1772.8 737.4,1772.0 743.1,1771.2 748.7,1770.2 754.3,1769.3 760.0,1768.4 765.6,1768.2 771.2,1767.9 776.9,1767.5 782.5,1766.8 788.1,1765.7 793.8,1764.6 799.4,1764.1 805.0,1763.4 810.6,1762.7 816.3,1761.8 821.9,1761.1 827.5,1760.1 833.2,1759.0 838.8,1758.3 844.4,1757.7 850.1,1757.3 855.7,1756.6 861.3,1755.6 867.0,1754.4 872.6,1753.4 878.2,1752.8 883.9,1752.3 889.5,1751.5 895.1,1751.1 900.8,1750.0 906.4,1749.2 912.0,1748.3 917.6,1747.8 923.3,1747.2 928.9,1746.9 934.5,1746.2 940.2,1745.2 945.8,1744.4 951.4,1743.6 957.1,1742.9 962.7,1742.5 968.3,1741.8 974.0,1741.1 979.6,1740.3 985.2,1739.2 990.9,1738.5 996.5,1738.0 1002.1,1737.5 1007.7,1737.2 1013.4,1736.4 1019.0,1735.6 1024.6,1734.7 1030.3,1734.1 1035.9,1733.7 1041.5,1733.2 1047.2,1732.7 1052.8,1732.2 1058.4,1731.3 1064.1,1730.2 1069.7,1729.3 1075.3,1728.5 1081.0,1727.9 1086.6,1727.3 1092.2,1726.8 1097.9,1725.7 1103.5,1724.8 1109.1,1724.0 1114.7,1723.3 1120.4,1722.8 1126.0,1722.3 1131.6,1721.5 1137.3,1720.9 1142.9,1719.8 1148.5,1718.8 1154.2,1718.4 1159.8,1717.8 1165.4,1717.7 1171.1,1716.9 1176.7,1715.9 1182.3,1714.7 1188.0,1713.8 1193.6,1712.9 1199.2,1712.6 1204.8,1712.0 1210.5,1711.2 1216.1,1710.3 1221.7,1709.1 1227.4,1708.0 1233.0,1707.0 1238.6,1706.1 1244.3,1705.3 1249.9,1704.6 1255.5,1703.2 1261.2,1701.9 1266.8,1700.2 1272.4,1699.5 1278.1,1698.4 1283.7,1697.2 1289.3,1696.1 1295.0,1694.8 1300.6,1693.4 1306.2,1692.0 1311.8,1690.5 1317.5,1689.1 1323.1,1688.0 1328.7,1686.1 1334.4,1684.2 1340.0,1681.5 1345.6,1679.3 1351.3,1678.2 1356.9,1676.2 1362.5,1674.6 1368.2,1672.2 1373.8,1670.0 1379.4,1667.5 1385.1,1664.6 1390.7,1662.7 1396.3,1660.7 1401.9,1659.5 1407.6,1657.1 1413.2,1653.4 1418.8,1649.4 1424.5,1646.3 1430.1,1642.8 1435.7,1640.9 1441.4,1638.4 1447.0,1634.5 1452.6,1629.4 1458.3,1622.1 1463.9,1617.1 1469.5,1612.0 1475.2,1608.3 1480.8,1602.7 1486.4,1594.6 1492.1,1586.5 1497.7,1578.4 1503.3,1565.8 1508.9,1559.8 1514.6,1554.0 1520.2,1547.3 1525.8,1540.4 1531.5,1531.3 1537.1,1523.4 1542.7,1516.8 1548.4,1508.0 1554.0,1503.0 1559.6,1500.0 1565.3,1490.1 1570.9,1479.6 1576.5,1468.7 1582.2,1456.3 1587.8,1445.6 1593.4,1442.1 1599.0,1439.2" stroke="#5a8a39" stroke-width="4.0"/>
<polyline points="67.3,2061.5 72.9,2061.5 78.6,2061.5 84.2,2061.5 89.8,2061.5 95.5,2061.5 101.1,2061.5 106.7,2061.5 112.4,2061.5 118.0,2061.5 123.6,2061.5 129.2,2061.5 134.9,2061.5 140.5,2061.5 146.1,2061.4 151.8,2061.2 157.4,2061.0 163.0,2060.8 168.7,2060.5 174.3,2060.2 179.9,2059.8 185.6,2059.6 191.2,2059.1 196.8,2057.9 202.5,2056.1 208.1,2053.8 213.7,2051.9 219.3,2049.8 225.0,2048.8 230.6,2047.2 236.2,2046.1 241.9,2044.0 247.5,2041.4 253.1,2037.7 258.8,2035.8 264.4,2033.5 270.0,2031.3 275.7,2028.4 281.3,2024.7 286.9,2021.1 292.6,2017.6 298.2,2014.7 303.8,2012.5 309.5,2010.5 315.1,2008.2 320.7,2005.4 326.3,2003.4 332.0,2001.4 337.6,1999.7 343.2,1997.8 348.9,1997.0 354.5,1995.6 360.1,1993.6 365.8,1991.6 371.4,1989.5 377.0,1987.3 382.7,1986.3 388.3,1985.2 393.9,1984.1 399.6,1982.8 405.2,1981.1 410.8,1979.6 416.4,1978.0 422.1,1977.2 427.7,1976.6 433.3,1975.7 439.0,1974.3 444.6,1972.9 450.2,1971.4 455.9,1970.0 461.5,1968.8 467.1,1968.2 472.8,1967.7 478.4,1966.9 484.0,1965.5 489.7,1964.0 495.3,1963.0 500.9,1962.3 506.6,1961.7 512.2,1961.1 517.8,1960.0 523.4,1958.6 529.1,1957.5 534.7,1956.8 540.3,1956.0 546.0,1955.4 551.6,1954.6 557.2,1953.5 562.9,1952.2 568.5,1951.1 574.1,1950.1 579.8,1949.2 585.4,1948.8 591.0,1947.9 596.7,1946.9 602.3,1945.7 607.9,1944.8 613.5,1943.9 619.2,1943.3 624.8,1942.9 630.4,1942.2 636.1,1941.4 641.7,1940.2 647.3,1939.1 653.0,1938.4 658.6,1938.0 664.2,1937.6 669.9,1937.1 675.5,1936.2 681.1,1934.9 686.8,1933.7 692.4,1932.7 698.0,1932.3 703.7,1931.9 709.3,1931.1 714.9,1930.4 720.5,1929.2 726.2,1928.1 731.8,1926.8 737.4,1926.1 743.1,1925.5 748.7,1924.5 754.3,1923.4 760.0,1922.4 765.6,1921.0 771.2,1920.2 776.9,1919.1 782.5,1918.2 788.1,1917.1 793.8,1915.9 799.4,1914.0 805.0,1912.7 810.6,1911.7 816.3,1910.9 821.9,1910.0 827.5,1909.4 833.2,1908.0 838.8,1905.8 844.4,1903.9 850.1,1902.6 855.7,1901.5 861.3,1900.5 867.0,1899.9 872.6,1898.9 878.2,1897.6 883.9,1895.4 889.5,1893.6 895.1,1892.4 900.8,1891.2 906.4,1890.4 912.0,1888.7 917.6,1886.9 923.3,1885.4 928.9,1884.2 934.5,1882.8 940.2,1881.6 945.8,1880.5 951.4,1879.2 957.1,1877.9 962.7,1876.3 968.3,1874.8 974.0,1874.3 979.6,1873.6 985.2,1872.1 990.9,1870.1 996.5,1868.1 1002.1,1866.2 1007.7,1864.8 1013.4,1863.7 1019.0,1863.2 1024.6,1862.7 1030.3,1861.1 1035.9,1858.7 1041.5,1856.7 1047.2,1855.5 1052.8,1854.6 1058.4,1853.8 1064.1,1852.2 1069.7,1850.7 1075.3,1849.4 1081.0,1847.2 1086.6,1845.4 1092.2,1845.0 1097.9,1844.1 1103.5,1842.7 1109.1,1840.7 1114.7,1838.6 1120.4,1836.9 1126.0,1834.9 1131.6,1834.1 1137.3,1833.4 1142.9,1832.3 1148.5,1831.1 1154.2,1829.4 1159.8,1827.3 1165.4,1826.3 1171.1,1824.8 1176.7,1824.0 1182.3,1823.3 1188.0,1821.6 1193.6,1820.1 1199.2,1818.1 1204.8,1816.0 1210.5,1815.8 1216.1,1813.5 1221.7,1812.7 1227.4,1810.5 1233.0,1808.4 1238.6,1806.5 1244.3,1805.1 1249.9,1805.1 1255.5,1801.7 1261.2,1799.8 1266.8,1798.4 1272.4,1795.2 1278.1,1791.8 1283.7,1789.2 1289.3,1789.2 1295.0,1785.5 1300.6,1783.0 1306.2,1781.1 1311.8,1777.5 1317.5,1774.2 1323.1,1772.3 1328.7,1772.3 1334.4,1767.2 1340.0,1763.9 1345.6,1759.9 1351.3,1754.6 1356.9,1751.2 1362.5,1747.4 1368.2,1747.1 1373.8,1743.2 1379.4,1739.5 1385.1,1735.7 1390.7,1730.0 1396.3,1723.3 1401.9,1718.9 1407.6,1718.3 1413.2,1711.5 1418.8,1706.2 1424.5,1701.0 1430.1,1694.7 1435.7,1688.8 1441.4,1684.5 1447.0,1684.1 1452.6,1676.8 1458.3,1667.8 1463.9,1654.9 1469.5,1642.9 1475.2,1630.2 1480.8,1616.2 1486.4,1616.2 1492.1,1604.5 1497.7,1594.6 1503.3,1575.7 1508.9,1554.7 1514.6,1534.4 1520.2,1517.8 1525.8,1516.8 1531.5,1499.4 1537.1,1492.1 1542.7,1480.0 1548.4,1460.7 1554.0,1442.3 1559.6,1430.7 1565.3,1429.4 1570.9,1414.0 1576.5,1405.8 1582.2,1386.2 1587.8,1386.0 1593.4,1347.3 1599.0,1328.9" stroke="#8faadc" stroke-width="4.0"/>
<polyline points="67.3,2061.5 72.9,2061.5 78.6,2061.5 84.2,2061.5 89.8,2061.5 95.5,2061.5 101.1,2061.5 106.7,2061.5 112.4,2061.5 118.0,2061.5 123.6,2061.5 129.2,2061.5 134.9,2061.5 140.5,2061.5 146.1,2061.5 151.8,2061.5 157.4,2061.4 163.0,2061.4 168.7,2061.4 174.3,2061.3 179.9,2061.3 185.6,2061.2 191.2,2061.1 196.8,2061.1 202.5,2061.0 208.1,2060.7 213.7,2060.5 219.3,2060.1 225.0,2059.8 230.6,2059.6 236.2,2059.4 241.9,2059.2 247.5,2059.1 253.1,2058.8 258.8,2058.5 264.4,2058.2 270.0,2058.0 275.7,2057.9 281.3,2057.8 286.9,2057.4 292.6,2056.9 298.2,2056.4 303.8,2056.0 309.5,2055.9 315.1,2055.7 320.7,2055.5 326.3,2055.1 332.0,2054.3 337.6,2053.7 343.2,2053.1 348.9,2052.6 354.5,2052.1 360.1,2051.9 365.8,2051.2 371.4,2050.2 377.0,2049.1 382.7,2048.0 388.3,2047.4 393.9,2047.0 399.6,2046.2 405.2,2045.5 410.8,2044.2 416.4,2042.6 422.1,2040.7 427.7,2039.2 433.3,2038.8 439.0,2038.3 444.6,2036.0 450.2,2033.0 455.9,2030.5 461.5,2027.2 467.1,2025.8 472.8,2024.4 478.4,2022.3 484.0,2019.8 489.7,2017.0 495.3,2012.4 500.9,2009.9 506.6,2008.5 512.2,2006.5 517.8,2003.9 523.4,2000.5 529.1,1997.8 534.7,1994.4 540.3,1991.5 546.0,1990.0 551.6,1988.7 557.2,1986.7 562.9,1984.6 568.5,1982.0 574.1,1979.2 579.8,1977.2 585.4,1975.0 591.0,1974.2 596.7,1973.6 602.3,1972.3 607.9,1970.7 613.5,1968.6 619.2,1966.6 624.8,1965.9 630.4,1964.8 636.1,1963.4 641.7,1961.9 647.3,1960.4 653.0,1958.6 658.6,1956.8 664.2,1956.3 669.9,1955.3 675.5,1954.2 681.1,1953.4 686.8,1952.1 692.4,1950.5 698.0,1948.7 703.7,1947.8 709.3,1946.9 714.9,1946.3 720.5,1944.7 726.2,1943.2 731.8,1941.5 737.4,1939.4 743.1,1937.7 748.7,1936.4 754.3,1934.7 760.0,1933.4 765.6,1931.2 771.2,1928.9 776.9,1927.4 782.5,1926.1 788.1,1925.5 793.8,1923.4 799.4,1921.6 805.0,1918.8 810.6,1915.2 816.3,1912.7 821.9,1910.1 827.5,1909.5 833.2,1908.1 838.8,1905.3 844.4,1903.0 850.1,1899.4 855.7,1897.4 861.3,1896.0 867.0,1894.5 872.6,1892.8 878.2,1890.2 883.9,1887.4 889.5,1884.9 895.1,1882.0 900.8,1879.7 906.4,1878.4 912.0,1876.6 917.6,1874.7 923.3,1872.1 928.9,1868.1 934.5,1865.5 940.2,1862.8 945.8,1861.8 951.4,1860.6 957.1,1858.6 962.7,1855.5 968.3,1852.5 974.0,1849.9 979.6,1848.8 985.2,1848.2 990.9,1846.5 996.5,1844.7 1002.1,1841.9 1007.7,1838.0 1013.4,1835.1 1019.0,1832.5 1024.6,1831.8 1030.3,1830.1 1035.9,1827.6 1041.5,1824.4 1047.2,1821.2 1052.8,1819.0 1058.4,1816.7 1064.1,1815.3 1069.7,1814.3 1075.3,1812.4 1081.0,1808.6 1086.6,1805.7 1092.2,1803.5 1097.9,1801.1 1103.5,1799.7 1109.1,1797.8 1114.7,1795.6 1120.4,1791.7 1126.0,1788.4 1131.6,1786.3 1137.3,1783.8 1142.9,1782.4 1148.5,1781.7 1154.2,1779.1 1159.8,1777.0 1165.4,1773.5 1171.1,1769.8 1176.7,1766.9 1182.3,1765.7 1188.0,1763.6 1193.6,1761.4 1199.2,1757.3 1204.8,1754.6 1210.5,1752.1 1216.1,1750.1 1221.7,1747.8 1227.4,1747.0 1233.0,1743.6 1238.6,1740.1 1244.3,1736.4 1249.9,1732.1 1255.5,1729.0 1261.2,1726.1 1266.8,1723.1 1272.4,1721.1 1278.1,1715.6 1283.7,1710.6 1289.3,1707.8 1295.0,1704.4 1300.6,1701.2 1306.2,1698.6 1311.8,1693.9 1317.5,1687.5 1323.1,1682.2 1328.7,1678.0 1334.4,1675.2 1340.0,1672.5 1345.6,1668.6 1351.3,1665.2 1356.9,1658.6 1362.5,1649.6 1368.2,1642.3 1373.8,1636.6 1379.4,1634.9 1385.1,1629.6 1390.7,1623.6 1396.3,1617.9 1401.9,1606.5 1407.6,1596.4 1413.2,1588.0 1418.8,1585.5 1424.5,1577.3 1430.1,1568.0 1435.7,1559.0 1441.4,1549.3 1447.0,1542.7 1452.6,1538.5 1458.3,1531.2 1463.9,1518.2 1469.5,1500.3 1475.2,1475.0 1480.8,1452.7 1486.4,1428.7 1492.1,1414.5 1497.7,1398.7 1503.3,1377.2 1508.9,1361.3 1514.6,1327.0 1520.2,1305.8 1525.8,1289.2 1531.5,1279.6 1537.1,1262.2 1542.7,1249.1 1548.4,1224.6 1554.0,1194.6 1559.6,1161.8 1565.3,1138.5 1570.9,1123.6 1576.5,1119.6 1582.2,1102.3 1587.8,1102.3 1593.4,1039.3 1599.0,1013.3" stroke="#f4b183" stroke-width="4.0"/>
<polyline points="67.3,2061.5 72.9,2061.5 78.6,2061.5 84.2,2061.5 89.8,2061.5 95.5,2061.5 101.1,2061.5 106.7,2061.5 112.4,2061.5 118.0,2061.5 123.6,2061.5 129.2,2061.5 134.9,2061.5 140.5,2061.5 146.1,2061.5 151.8,2061.4 157.4,2061.4 163.0,2061.3 168.7,2061.2 174.3,2061.1 179.9,2061.0 185.6,2060.9 191.2,2060.7 196.8,2060.4 202.5,2060.0 208.1,2059.4 213.7,2058.9 219.3,2058.5 225.0,2058.0 230.6,2057.6 236.2,2056.8 241.9,2055.8 247.5,2054.7 253.1,2053.9 258.8,2053.0 264.4,2052.1 270.0,2051.4 275.7,2050.0 281.3,2048.5 286.9,2046.6 292.6,2045.0 298.2,2043.6 303.8,2042.3 309.5,2041.5 315.1,2040.3 320.7,2038.5 326.3,2036.9 332.0,2035.0 337.6,2034.0 343.2,2032.7 348.9,2031.5 354.5,2029.9 360.1,2028.2 365.8,2026.5 371.4,2024.7 377.0,2023.1 382.7,2022.4 388.3,2021.5 393.9,2019.9 399.6,2018.2 405.2,2016.5 410.8,2014.5 416.4,2013.0 422.1,2012.0 427.7,2010.9 433.3,2009.3 439.0,2007.0 444.6,2004.9 450.2,2002.6 455.9,2001.4 461.5,1999.9 467.1,1998.7 472.8,1997.4 478.4,1995.2 484.0,1992.8 489.7,1991.1 495.3,1989.1 500.9,1987.3 506.6,1985.7 512.2,1984.4 517.8,1982.6 523.4,1980.4 529.1,1978.2 534.7,1976.6 540.3,1975.3 546.0,1973.8 551.6,1971.6 557.2,1969.7 562.9,1967.2 568.5,1964.5 574.1,1962.3 579.8,1960.3 585.4,1958.5 591.0,1956.6 596.7,1954.5 602.3,1951.8 607.9,1949.1 613.5,1946.8 619.2,1945.4 624.8,1944.0 630.4,1941.7 636.1,1939.3 641.7,1936.6 647.3,1933.6 653.0,1931.1 658.6,1929.0 664.2,1927.7 669.9,1925.1 675.5,1922.0 681.1,1918.8 686.8,1915.1 692.4,1912.7 698.0,1911.1 703.7,1909.2 709.3,1906.9 714.9,1903.7 720.5,1898.9 726.2,1894.8 731.8,1892.2 737.4,1890.1 743.1,1887.0 748.7,1883.6 754.3,1879.0 760.0,1873.6 765.6,1868.8 771.2,1865.5 776.9,1861.4 782.5,1858.9 788.1,1853.5 793.8,1846.2 799.4,1839.5 805.0,1832.7 810.6,1825.6 816.3,1821.7 821.9,1815.8 827.5,1808.8 833.2,1800.3 838.8,1791.6 844.4,1783.2 850.1,1778.0 855.7,1772.2 861.3,1766.3 867.0,1760.4 872.6,1751.2 878.2,1741.4 883.9,1731.0 889.5,1724.8 895.1,1720.1 900.8,1714.1 906.4,1706.4 912.0,1698.2 917.6,1689.1 923.3,1679.8 928.9,1671.0 934.5,1662.4 940.2,1655.0 945.8,1647.3 951.4,1639.9 957.1,1633.4 962.7,1627.2 968.3,1622.6 974.0,1618.5 979.6,1613.9 985.2,1608.8 990.9,1603.6 996.5,1598.1 1002.1,1592.9 1007.7,1588.6 1013.4,1584.5 1019.0,1580.8 1024.6,1576.8 1030.3,1572.0 1035.9,1567.1 1041.5,1562.2 1047.2,1557.5 1052.8,1553.7 1058.4,1549.3 1064.1,1544.4 1069.7,1539.2 1075.3,1533.7 1081.0,1528.7 1086.6,1524.5 1092.2,1520.8 1097.9,1517.1 1103.5,1513.5 1109.1,1509.2 1114.7,1504.8 1120.4,1500.6 1126.0,1496.8 1131.6,1493.6 1137.3,1490.4 1142.9,1486.8 1148.5,1482.9 1154.2,1478.6 1159.8,1475.2 1165.4,1471.8 1171.1,1469.1 1176.7,1466.3 1182.3,1463.4 1188.0,1460.7 1193.6,1457.9 1199.2,1455.1 1204.8,1452.2 1210.5,1449.3 1216.1,1446.5 1221.7,1443.5 1227.4,1439.8 1233.0,1436.1 1238.6,1432.4 1244.3,1429.0 1249.9,1425.9 1255.5,1423.0 1261.2,1420.0 1266.8,1416.7 1272.4,1413.4 1278.1,1410.1 1283.7,1407.2 1289.3,1404.3 1295.0,1401.4 1300.6,1398.3 1306.2,1394.7 1311.8,1390.8 1317.5,1387.2 1323.1,1383.5 1328.7,1379.7 1334.4,1376.1 1340.0,1372.0 1345.6,1367.5 1351.3,1362.1 1356.9,1356.3 1362.5,1353.0 1368.2,1349.5 1373.8,1345.3 1379.4,1341.8 1385.1,1336.0 1390.7,1329.8 1396.3,1323.5 1401.9,1317.9 1407.6,1315.2 1413.2,1311.6 1418.8,1307.9 1424.5,1301.9 1430.1,1293.5 1435.7,1287.1 1441.4,1281.7 1447.0,1278.0 1452.6,1272.5 1458.3,1267.3 1463.9,1261.2 1469.5,1254.2 1475.2,1246.6 1480.8,1240.9 1486.4,1235.9 1492.1,1229.2 1497.7,1223.8 1503.3,1215.4 1508.9,1207.2 1514.6,1200.0 1520.2,1193.6 1525.8,1186.4 1531.5,1180.8 1537.1,1174.8 1542.7,1162.7 1548.4,1150.7 1554.0,1141.5 1559.6,1134.3 1565.3,1129.3 1570.9,1120.2 1576.5,1113.4 1582.2,1100.3 1587.8,1100.1 1593.4,1077.2 1599.0,1069.7" stroke="#c9c9c9" stroke-width="4.0"/>
<polyline points="67.3,2061.5 72.9,2061.5 78.6,2061.5 84.2,2061.5 89.8,2061.5 95.5,2061.5 101.1,2061.5 106.7,2061.5 112.4,2061.5 118.0,2061.5 123.6,2061.5 129.2,2061.5 134.9,2061.5 140.5,2061.5 146.1,2061.5 151.8,2061.5 157.4,2061.4 163.0,2061.4 168.7,2061.4 174.3,2061.3 179.9,2061.3 185.6,2061.2 191.2,2061.2 196.8,2061.0 202.5,2060.7 208.1,2060.3 213.7,2060.0 219.3,2059.7 225.0,2059.5 230.6,2059.1 236.2,2058.9 241.9,2058.6 247.5,2058.1 253.1,2057.5 258.8,2056.8 264.4,2056.4 270.0,2056.0 275.7,2055.2 281.3,2054.6 286.9,2053.4 292.6,2052.2 298.2,2051.5 303.8,2050.9 309.5,2050.6 315.1,2050.2 320.7,2049.3 326.3,2048.3 332.0,2047.5 337.6,2046.7 343.2,2045.8 348.9,2045.1 354.5,2044.4 360.1,2043.5 365.8,2042.6 371.4,2041.2 377.0,2040.4 382.7,2039.6 388.3,2039.1 393.9,2038.5 399.6,2037.9 405.2,2037.0 410.8,2036.1 416.4,2035.3 422.1,2034.6 427.7,2034.4 433.3,2034.0 439.0,2033.3 444.6,2032.7 450.2,2031.8 455.9,2031.2 461.5,2030.8 467.1,2030.3 472.8,2030.0 478.4,2029.4 484.0,2028.7 489.7,2028.1 495.3,2027.6 500.9,2027.2 506.6,2027.0 512.2,2026.5 517.8,2026.2 523.4,2025.4 529.1,2024.6 534.7,2023.9 540.3,2023.3 546.0,2023.0 551.6,2022.6 557.2,2022.0 562.9,2021.4 568.5,2020.6 574.1,2019.8 579.8,2019.4 585.4,2018.7 591.0,2018.4 596.7,2017.7 602.3,2016.6 607.9,2015.6 613.5,2015.0 619.2,2014.2 624.8,2013.9 630.4,2013.4 636.1,2012.5 641.7,2011.8 647.3,2010.8 653.0,2010.1 658.6,2009.5 664.2,2008.9 669.9,2008.5 675.5,2007.5 681.1,2006.3 686.8,2004.9 692.4,2003.7 698.0,2002.8 703.7,2002.0 709.3,2001.4 714.9,2000.5 720.5,1999.0 726.2,1997.4 731.8,1996.2 737.4,1995.3 743.1,1994.2 748.7,1993.4 754.3,1991.8 760.0,1990.0 765.6,1988.2 771.2,1986.0 776.9,1984.1 782.5,1982.1 788.1,1980.9 793.8,1978.7 799.4,1974.5 805.0,1970.3 810.6,1967.1 816.3,1963.6 821.9,1962.2 827.5,1960.4 833.2,1958.2 838.8,1953.2 844.4,1949.5 850.1,1945.7 855.7,1942.0 861.3,1939.2 867.0,1935.7 872.6,1931.8 878.2,1928.2 883.9,1924.5 889.5,1919.7 895.1,1916.1 900.8,1912.9 906.4,1910.1 912.0,1907.1 917.6,1902.7 923.3,1897.9 928.9,1895.0 934.5,1893.5 940.2,1891.0 945.8,1888.6 951.4,1885.7 957.1,1880.7 962.7,1875.5 968.3,1871.4 974.0,1867.8 979.6,1866.9 985.2,1864.5 990.9,1860.3 996.5,1856.5 1002.1,1851.9 1007.7,1848.9 1013.4,1846.5 1019.0,1845.1 1024.6,1842.2 1030.3,1839.2 1035.9,1833.8 1041.5,1829.8 1047.2,1826.3 1052.8,1822.7 1058.4,1819.2 1064.1,1817.2 1069.7,1813.3 1075.3,1809.1 1081.0,1803.2 1086.6,1799.2 1092.2,1797.2 1097.9,1794.4 1103.5,1791.2 1109.1,1787.2 1114.7,1781.5 1120.4,1775.1 1126.0,1770.3 1131.6,1766.0 1137.3,1764.3 1142.9,1760.9 1148.5,1758.0 1154.2,1752.3 1159.8,1746.7 1165.4,1740.3 1171.1,1737.1 1176.7,1734.2 1182.3,1729.5 1188.0,1725.2 1193.6,1719.9 1199.2,1712.8 1204.8,1706.9 1210.5,1703.0 1216.1,1701.1 1221.7,1699.5 1227.4,1693.3 1233.0,1686.7 1238.6,1679.1 1244.3,1673.4 1249.9,1668.8 1255.5,1665.4 1261.2,1660.3 1266.8,1654.2 1272.4,1646.2 1278.1,1641.2 1283.7,1635.7 1289.3,1632.6 1295.0,1630.5 1300.6,1625.8 1306.2,1621.6 1311.8,1615.4 1317.5,1608.7 1323.1,1601.2 1328.7,1598.3 1334.4,1594.5 1340.0,1591.8 1345.6,1587.6 1351.3,1580.5 1356.9,1572.1 1362.5,1567.1 1368.2,1560.6 1373.8,1558.3 1379.4,1556.1 1385.1,1551.7 1390.7,1542.2 1396.3,1533.3 1401.9,1523.7 1407.6,1517.8 1413.2,1514.0 1418.8,1506.9 1424.5,1498.9 1430.1,1488.2 1435.7,1479.1 1441.4,1468.2 1447.0,1460.5 1452.6,1454.4 1458.3,1445.1 1463.9,1433.7 1469.5,1419.3 1475.2,1402.5 1480.8,1387.8 1486.4,1377.7 1492.1,1370.2 1497.7,1360.2 1503.3,1341.2 1508.9,1321.6 1514.6,1300.9 1520.2,1283.7 1525.8,1270.5 1531.5,1260.2 1537.1,1246.3 1542.7,1233.9 1548.4,1216.7 1554.0,1196.9 1559.6,1182.8 1565.3,1166.6 1570.9,1158.2 1576.5,1148.4 1582.2,1138.4 1587.8,1138.4 1593.4,1102.0 1599.0,1082.3" stroke="#ffd966" stroke-width="4.0"/>
<polyline points="67.3,2061.5 72.9,2061.5 78.6,2061.5 84.2,2061.5 89.8,2061.5 95.5,2061.5 101.1,2061.5 106.7,2061.5 112.4,2061.5 118.0,2061.5 123.6,2061.5 129.2,2061.5 134.9,2061.5 140.5,2061.5 146.1,2061.5 151.8,2061.4 157.4,2061.4 163.0,2061.4 168.7,2061.3 174.3,2061.3 179.9,2061.2 185.6,2061.0 191.2,2060.6 196.8,2060.3 202.5,2060.1 208.1,2059.9 213.7,2059.6 219.3,2059.0 225.0,2058.6 230.6,2058.1 236.2,2057.7 241.9,2057.4 247.5,2057.2 253.1,2057.0 258.8,2056.6 264.4,2056.1 270.0,2055.8 275.7,2055.6 281.3,2055.4 286.9,2055.3 292.6,2055.1 298.2,2054.8 303.8,2054.6 309.5,2054.3 315.1,2054.2 320.7,2054.1 326.3,2054.1 332.0,2054.0 337.6,2053.9 343.2,2053.9 348.9,2053.8 354.5,2053.8 360.1,2053.7 365.8,2053.7 371.4,2053.6 377.0,2053.6 382.7,2053.5 388.3,2053.5 393.9,2053.5 399.6,2053.4 405.2,2053.4 410.8,2053.3 416.4,2053.3 422.1,2053.2 427.7,2053.2 433.3,2053.1 439.0,2053.1 444.6,2053.1 450.2,2053.1 455.9,2053.0 461.5,2053.0 467.1,2052.9 472.8,2052.9 478.4,2052.9 484.0,2052.9 489.7,2052.8 495.3,2052.8 500.9,2052.7 506.6,2052.7 512.2,2052.6 517.8,2052.6 523.4,2052.6 529.1,2052.6 534.7,2052.5 540.3,2052.5 546.0,2052.4 551.6,2052.3 557.2,2052.3 562.9,2052.2 568.5,2052.2 574.1,2052.1 579.8,2052.1 585.4,2051.9 591.0,2051.9 596.7,2051.8 602.3,2051.7 607.9,2051.7 613.5,2051.5 619.2,2051.3 624.8,2051.1 630.4,2050.9 636.1,2050.8 641.7,2050.6 647.3,2050.4 653.0,2050.2 658.6,2049.9 664.2,2049.5 669.9,2049.3 675.5,2049.2 681.1,2049.0 686.8,2048.7 692.4,2048.4 698.0,2048.0 703.7,2047.6 709.3,2047.1 714.9,2046.8 720.5,2046.5 726.2,2046.2 731.8,2045.7 737.4,2045.3 743.1,2044.9 748.7,2044.5 754.3,2044.1 760.0,2043.7 765.6,2042.9 771.2,2041.7 776.9,2040.5 782.5,2039.0 788.1,2037.5 793.8,2036.7 799.4,2035.7 805.0,2034.7 810.6,2033.1 816.3,2031.4 821.9,2028.3 827.5,2026.4 833.2,2024.4 838.8,2023.1 844.4,2021.3 850.1,2018.3 855.7,2015.0 861.3,2012.6 867.0,2010.6 872.6,2008.4 878.2,2006.9 883.9,2005.7 889.5,2003.8 895.1,2000.4 900.8,1997.9 906.4,1995.4 912.0,1993.3 917.6,1991.4 923.3,1990.6 928.9,1988.4 934.5,1985.9 940.2,1983.6 945.8,1981.3 951.4,1979.6 957.1,1978.5 962.7,1976.8 968.3,1974.4 974.0,1972.5 979.6,1969.8 985.2,1968.3 990.9,1966.4 996.5,1965.5 1002.1,1964.5 1007.7,1962.8 1013.4,1959.6 1019.0,1957.5 1024.6,1955.7 1030.3,1954.6 1035.9,1953.4 1041.5,1951.1 1047.2,1948.6 1052.8,1946.4 1058.4,1943.2 1064.1,1941.1 1069.7,1938.7 1075.3,1937.2 1081.0,1935.9 1086.6,1933.6 1092.2,1930.7 1097.9,1927.8 1103.5,1925.4 1109.1,1923.2 1114.7,1921.8 1120.4,1919.2 1126.0,1915.5 1131.6,1912.2 1137.3,1908.1 1142.9,1905.8 1148.5,1903.6 1154.2,1901.9 1159.8,1899.5 1165.4,1895.7 1171.1,1890.8 1176.7,1885.7 1182.3,1882.3 1188.0,1880.6 1193.6,1878.9 1199.2,1877.1 1204.8,1872.9 1210.5,1866.7 1216.1,1861.6 1221.7,1857.6 1227.4,1854.8 1233.0,1852.5 1238.6,1849.2 1244.3,1843.6 1249.9,1838.3 1255.5,1831.0 1261.2,1823.7 1266.8,1817.7 1272.4,1815.4 1278.1,1812.3 1283.7,1806.1 1289.3,1797.1 1295.0,1788.0 1300.6,1781.2 1306.2,1771.9 1311.8,1766.8 1317.5,1757.2 1323.1,1745.9 1328.7,1733.6 1334.4,1721.7 1340.0,1707.3 1345.6,1699.1 1351.3,1691.2 1356.9,1679.7 1362.5,1667.0 1368.2,1654.4 1373.8,1634.8 1379.4,1618.9 1385.1,1609.7 1390.7,1600.9 1396.3,1589.8 1401.9,1571.9 1407.6,1549.2 1413.2,1528.5 1418.8,1516.6 1424.5,1502.9 1430.1,1493.8 1435.7,1485.3 1441.4,1473.4 1447.0,1451.6 1452.6,1429.8 1458.3,1414.7 1463.9,1402.8 1469.5,1394.6 1475.2,1377.7 1480.8,1357.6 1486.4,1335.3 1492.1,1311.5 1497.7,1291.4 1503.3,1272.6 1508.9,1258.3 1514.6,1244.8 1520.2,1230.4 1525.8,1210.4 1531.5,1190.3 1537.1,1166.4 1542.7,1149.5 1548.4,1130.1 1554.0,1115.6 1559.6,1090.7 1565.3,1070.6 1570.9,1041.1 1576.5,1014.8 1582.2,1002.8 1587.8,1002.7 1593.4,974.4 1599.0,955.0" stroke="#9dc3e6" stroke-width="4.0"/>
<polyline points="67.3,2061.5 72.9,2061.5 78.6,2061.5 84.2,2061.5 89.8,2061.5 95.5,2061.5 101.1,2061.5 106.7,2061.5 112.4,2061.5 118.0,2061.5 123.6,2061.5 129.2,2061.5 134.9,2061.5 140.5,2061.5 146.1,2061.5 151.8,2061.5 157.4,2061.5 163.0,2061.4 168.7,2061.4 174.3,2061.4 179.9,2061.3 185.6,2061.3 191.2,2061.2 196.8,2061.1 202.5,2060.9 208.1,2060.7 213.7,2060.5 219.3,2060.3 225.0,2060.2 230.6,2060.0 236.2,2059.7 241.9,2059.4 247.5,2059.0 253.1,2058.8 258.8,2058.5 264.4,2058.2 270.0,2057.7 275.7,2057.1 281.3,2056.4 286.9,2055.8 292.6,2055.4 298.2,2055.1 303.8,2054.5 309.5,2054.0 315.1,2053.1 320.7,2052.1 326.3,2050.8 332.0,2049.7 337.6,2048.8 343.2,2047.4 348.9,2045.5 354.5,2043.3 360.1,2040.6 365.8,2037.7 371.4,2034.8 377.0,2033.5 382.7,2031.7 388.3,2029.8 393.9,2027.2 399.6,2023.7 405.2,2020.8 410.8,2019.0 416.4,2016.5 422.1,2014.2 427.7,2011.6 433.3,2008.4 439.0,2003.9 444.6,2000.1 450.2,1996.6 455.9,1994.6 461.5,1992.0 467.1,1988.7 472.8,1984.1 478.4,1978.8 484.0,1974.5 489.7,1971.9 495.3,1968.5 500.9,1965.2 506.6,1961.7 512.2,1957.8 517.8,1953.7 523.4,1949.3 529.1,1946.1 534.7,1943.0 540.3,1941.1 546.0,1938.8 551.6,1934.4 557.2,1929.8 562.9,1926.8 568.5,1923.9 574.1,1922.4 579.8,1920.9 585.4,1918.3 591.0,1915.8 596.7,1912.9 602.3,1911.1 607.9,1909.2 613.5,1907.9 619.2,1906.4 624.8,1904.7 630.4,1903.0 636.1,1900.9 641.7,1899.1 647.3,1897.7 653.0,1896.5 658.6,1895.6 664.2,1894.3 669.9,1892.9 675.5,1890.9 681.1,1889.2 686.8,1887.5 692.4,1886.6 698.0,1885.3 703.7,1884.2 709.3,1882.6 714.9,1880.4 720.5,1878.9 726.2,1877.6 731.8,1876.6 737.4,1875.0 743.1,1873.3 748.7,1871.4 754.3,1868.7 760.0,1866.8 765.6,1864.4 771.2,1862.6 776.9,1861.2 782.5,1858.6 788.1,1856.2 793.8,1853.7 799.4,1851.6 805.0,1849.9 810.6,1848.1 816.3,1845.9 821.9,1843.7 827.5,1840.8 833.2,1837.0 838.8,1834.6 844.4,1832.3 850.1,1830.9 855.7,1828.9 861.3,1826.0 867.0,1822.9 872.6,1820.1 878.2,1817.2 883.9,1814.4 889.5,1812.1 895.1,1810.6 900.8,1809.0 906.4,1805.9 912.0,1802.2 917.6,1798.9 923.3,1796.9 928.9,1794.8 934.5,1793.6 940.2,1791.0 945.8,1788.2 951.4,1784.6 957.1,1782.4 962.7,1780.0 968.3,1777.7 974.0,1775.9 979.6,1774.1 985.2,1770.9 990.9,1767.7 996.5,1764.4 1002.1,1762.6 1007.7,1761.2 1013.4,1759.4 1019.0,1757.1 1024.6,1754.3 1030.3,1751.1 1035.9,1748.3 1041.5,1746.0 1047.2,1744.5 1052.8,1741.9 1058.4,1739.2 1064.1,1735.7 1069.7,1732.1 1075.3,1729.6 1081.0,1726.4 1086.6,1724.7 1092.2,1721.9 1097.9,1718.5 1103.5,1715.1 1109.1,1710.5 1114.7,1707.5 1120.4,1705.3 1126.0,1703.3 1131.6,1700.8 1137.3,1697.6 1142.9,1693.9 1148.5,1690.2 1154.2,1687.0 1159.8,1683.9 1165.4,1680.5 1171.1,1678.3 1176.7,1674.4 1182.3,1670.4 1188.0,1666.2 1193.6,1662.2 1199.2,1659.3 1204.8,1656.6 1210.5,1652.9 1216.1,1648.6 1221.7,1642.7 1227.4,1637.5 1233.0,1633.3 1238.6,1629.6 1244.3,1626.3 1249.9,1623.7 1255.5,1620.1 1261.2,1613.9 1266.8,1607.7 1272.4,1600.6 1278.1,1596.1 1283.7,1592.5 1289.3,1589.3 1295.0,1582.8 1300.6,1576.2 1306.2,1568.2 1311.8,1559.9 1317.5,1554.4 1323.1,1550.7 1328.7,1546.3 1334.4,1539.9 1340.0,1530.5 1345.6,1522.7 1351.3,1513.7 1356.9,1507.2 1362.5,1500.3 1368.2,1492.5 1373.8,1482.4 1379.4,1472.1 1385.1,1461.5 1390.7,1451.7 1396.3,1444.3 1401.9,1438.8 1407.6,1433.3 1413.2,1423.3 1418.8,1411.0 1424.5,1395.7 1430.1,1383.2 1435.7,1372.9 1441.4,1361.6 1447.0,1352.8 1452.6,1339.3 1458.3,1322.9 1463.9,1304.3 1469.5,1289.1 1475.2,1268.3 1480.8,1256.1 1486.4,1245.7 1492.1,1222.9 1497.7,1199.6 1503.3,1165.9 1508.9,1133.7 1514.6,1113.5 1520.2,1089.5 1525.8,1065.2 1531.5,1041.1 1537.1,1016.3 1541.0,1000.0 1549.5,952.6 1559.3,926.2 1565.4,925.7 1570.3,896.3 1577.7,895.8 1583.8,876.8 1589.9,847.4 1593.6,825.4 1599.0,815.1" stroke="#a9d18e" stroke-width="4.0"/>
<polyline points="67.3,2061.5 72.9,2061.5 78.6,2061.5 84.2,2061.5 89.8,2061.5 95.5,2061.5 101.1,2061.5 106.7,2061.5 112.4,2061.5 118.0,2061.5 123.6,2061.5 129.2,2061.5 134.9,2061.5 140.5,2061.5 146.1,2061.5 151.8,2061.4 157.4,2061.4 163.0,2061.4 168.7,2061.3 174.3,2061.3 179.9,2061.2 185.6,2061.1 191.2,2060.9 196.8,2060.6 202.5,2060.3 208.1,2060.1 213.7,2059.8 219.3,2059.4 225.0,2058.9 230.6,2058.3 236.2,2057.9 241.9,2057.5 247.5,2057.3 253.1,2056.8 258.8,2056.3 264.4,2055.2 270.0,2053.9 275.7,2052.9 281.3,2051.8 286.9,2050.9 292.6,2050.1 298.2,2049.2 303.8,2047.9 309.5,2046.6 315.1,2045.7 320.7,2044.6 326.3,2044.1 332.0,2043.5 337.6,2042.5 343.2,2041.4 348.9,2039.7 354.5,2038.2 360.1,2037.2 365.8,2036.1 371.4,2035.4 377.0,2034.7 382.7,2033.8 388.3,2032.2 393.9,2030.7 399.6,2029.7 405.2,2029.3 410.8,2028.8 416.4,2027.9 422.1,2027.1 427.7,2026.2 433.3,2025.1 439.0,2024.4 444.6,2023.9 450.2,2023.4 455.9,2022.8 461.5,2022.3 467.1,2021.5 472.8,2021.0 478.4,2020.4 484.0,2019.8 489.7,2019.4 495.3,2019.1 500.9,2018.4 506.6,2017.5 512.2,2016.8 517.8,2016.1 523.4,2015.8 529.1,2015.3 534.7,2014.8 540.3,2014.2 546.0,2013.3 551.6,2012.5 557.2,2011.5 562.9,2010.8 568.5,2010.3 574.1,2009.5 579.8,2008.2 585.4,2007.2 591.0,2005.8 596.7,2004.6 602.3,2003.6 607.9,2002.8 613.5,2001.6 619.2,1999.8 624.8,1997.2 630.4,1995.1 636.1,1993.4 641.7,1992.0 647.3,1991.2 653.0,1989.5 658.6,1987.8 664.2,1985.7 669.9,1982.9 675.5,1980.3 681.1,1978.2 686.8,1977.2 692.4,1974.5 698.0,1971.0 703.7,1968.1 709.3,1965.3 714.9,1962.3 720.5,1960.1 726.2,1957.7 731.8,1956.2 737.4,1952.5 743.1,1949.3 748.7,1945.1 754.3,1941.7 760.0,1939.7 765.6,1936.5 771.2,1931.8 776.9,1925.6 782.5,1920.3 788.1,1913.8 793.8,1909.6 799.4,1906.0 805.0,1901.1 810.6,1897.1 816.3,1890.9 821.9,1883.2 827.5,1873.1 833.2,1867.3 838.8,1862.1 844.4,1856.3 850.1,1849.6 855.7,1841.0 861.3,1833.6 867.0,1823.8 872.6,1816.8 878.2,1814.1 883.9,1807.8 889.5,1802.3 895.1,1796.6 900.8,1786.4 906.4,1777.7 912.0,1772.4 917.6,1768.5 923.3,1763.4 928.9,1759.4 934.5,1755.0 940.2,1747.4 945.8,1740.5 951.4,1735.0 957.1,1732.3 962.7,1727.1 968.3,1722.5 974.0,1718.1 979.6,1712.5 985.2,1706.2 990.9,1701.9 996.5,1698.8 1002.1,1696.1 1007.7,1691.1 1013.4,1686.2 1019.0,1680.6 1024.6,1673.5 1030.3,1669.6 1035.9,1665.3 1041.5,1664.0 1047.2,1661.7 1052.8,1656.7 1058.4,1651.7 1064.1,1645.9 1069.7,1641.1 1075.3,1637.6 1081.0,1634.4 1086.6,1631.3 1092.2,1628.4 1097.9,1623.9 1103.5,1620.0 1109.1,1617.7 1114.7,1615.5 1120.4,1614.3 1126.0,1611.9 1131.6,1608.7 1137.3,1606.2 1142.9,1603.9 1148.5,1601.0 1154.2,1600.0 1159.8,1599.0 1165.4,1597.1 1171.1,1594.1 1176.7,1591.1 1182.3,1588.9 1188.0,1586.5 1193.6,1585.0 1199.2,1583.6 1204.8,1582.5 1210.5,1580.7 1216.1,1578.3 1221.7,1576.3 1227.4,1573.8 1233.0,1572.1 1238.6,1570.1 1244.3,1568.3 1249.9,1564.7 1255.5,1561.2 1261.2,1557.0 1266.8,1554.9 1272.4,1553.4 1278.1,1552.2 1283.7,1550.1 1289.3,1545.6 1295.0,1542.0 1300.6,1537.8 1306.2,1535.5 1311.8,1532.3 1317.5,1529.2 1323.1,1525.5 1328.7,1521.9 1334.4,1517.0 1340.0,1512.5 1345.6,1507.8 1351.3,1504.0 1356.9,1502.4 1362.5,1499.1 1368.2,1495.4 1373.8,1489.4 1379.4,1485.0 1385.1,1479.6 1390.7,1477.1 1396.3,1474.0 1401.9,1469.7 1407.6,1462.3 1413.2,1455.8 1418.8,1449.9 1424.5,1442.9 1430.1,1440.0 1435.7,1435.8 1441.4,1432.3 1447.0,1425.0 1452.6,1416.8 1458.3,1407.4 1463.9,1402.2 1469.5,1397.8 1475.2,1390.2 1480.8,1381.1 1486.4,1372.0 1492.1,1361.1 1497.7,1350.9 1503.3,1341.8 1508.9,1334.7 1514.6,1325.4 1520.2,1319.4 1525.8,1307.0 1531.5,1293.9 1537.1,1276.5 1542.7,1263.9 1548.4,1254.8 1554.0,1246.9 1559.6,1235.3 1565.3,1214.4 1570.9,1194.2 1576.5,1175.2 1582.2,1158.3 1587.8,1158.1 1593.4,1134.3 1599.0,1118.3" stroke="#203864" stroke-width="4.0"/>
<polyline points="67.3,2061.5 72.9,2061.5 78.6,2061.5 84.2,2061.5 89.8,2061.5 95.5,2061.5 101.1,2061.5 106.7,2061.5 112.4,2061.5 118.0,2061.5 123.6,2061.5 129.2,2061.5 134.9,2061.5 140.5,2061.5 146.1,2061.5 151.8,2061.5 157.4,2061.4 163.0,2061.4 168.7,2061.3 174.3,2061.3 179.9,2061.2 185.6,2061.2 191.2,2061.0 196.8,2060.7 202.5,2060.5 208.1,2060.2 213.7,2059.9 219.3,2059.6 225.0,2059.2 230.6,2058.8 236.2,2058.3 241.9,2057.8 247.5,2057.4 253.1,2057.1 258.8,2056.5 264.4,2055.9 270.0,2055.0 275.7,2053.9 281.3,2053.0 286.9,2052.1 292.6,2051.3 298.2,2050.7 303.8,2049.6 309.5,2048.6 315.1,2047.6 320.7,2046.7 326.3,2045.9 332.0,2045.3 337.6,2044.7 343.2,2043.8 348.9,2042.8 354.5,2041.6 360.1,2040.6 365.8,2039.9 371.4,2039.3 377.0,2038.7 382.7,2037.6 388.3,2036.4 393.9,2035.3 399.6,2034.1 405.2,2032.9 410.8,2032.0 416.4,2031.3 422.1,2030.3 427.7,2028.9 433.3,2027.6 439.0,2026.0 444.6,2024.7 450.2,2023.8 455.9,2022.6 461.5,2021.3 467.1,2019.6 472.8,2017.9 478.4,2016.4 484.0,2015.0 489.7,2013.8 495.3,2012.8 500.9,2011.5 506.6,2010.1 512.2,2008.2 517.8,2006.7 523.4,2005.1 529.1,2004.1 534.7,2003.1 540.3,2002.0 546.0,2000.7 551.6,1999.2 557.2,1997.8 562.9,1996.7 568.5,1996.0 574.1,1995.2 579.8,1994.4 585.4,1993.5 591.0,1992.6 596.7,1992.0 602.3,1991.2 607.9,1990.7 613.5,1990.1 619.2,1989.6 624.8,1988.8 630.4,1988.1 636.1,1987.4 641.7,1986.9 647.3,1986.6 653.0,1986.2 658.6,1985.8 664.2,1985.2 669.9,1984.5 675.5,1984.0 681.1,1983.5 686.8,1983.1 692.4,1982.8 698.0,1982.4 703.7,1981.8 709.3,1981.2 714.9,1980.8 720.5,1980.3 726.2,1979.9 731.8,1979.7 737.4,1979.3 743.1,1978.8 748.7,1978.3 754.3,1977.9 760.0,1977.4 765.6,1977.2 771.2,1976.8 776.9,1976.3 782.5,1975.8 788.1,1975.2 793.8,1974.8 799.4,1974.5 805.0,1974.1 810.6,1973.8 816.3,1973.5 821.9,1973.0 827.5,1972.5 833.2,1972.1 838.8,1971.7 844.4,1971.4 850.1,1971.2 855.7,1970.8 861.3,1970.5 867.0,1970.1 872.6,1969.7 878.2,1969.3 883.9,1969.0 889.5,1968.7 895.1,1968.3 900.8,1967.9 906.4,1967.5 912.0,1967.1 917.6,1966.7 923.3,1966.5 928.9,1966.3 934.5,1966.0 940.2,1965.6 945.8,1965.2 951.4,1964.9 957.1,1964.5 962.7,1964.3 968.3,1964.0 974.0,1963.8 979.6,1963.5 985.2,1963.1 990.9,1962.7 996.5,1962.4 1002.1,1962.1 1007.7,1961.9 1013.4,1961.6 1019.0,1961.3 1024.6,1961.0 1030.3,1960.7 1035.9,1960.4 1041.5,1960.1 1047.2,1959.9 1052.8,1959.6 1058.4,1959.2 1064.1,1958.8 1069.7,1958.4 1075.3,1958.2 1081.0,1957.9 1086.6,1957.5 1092.2,1957.3 1097.9,1956.9 1103.5,1956.4 1109.1,1956.0 1114.7,1955.7 1120.4,1955.5 1126.0,1955.2 1131.6,1954.8 1137.3,1954.3 1142.9,1953.8 1148.5,1953.4 1154.2,1953.0 1159.8,1952.7 1165.4,1952.5 1171.1,1952.2 1176.7,1951.8 1182.3,1951.2 1188.0,1950.8 1193.6,1950.4 1199.2,1950.0 1204.8,1949.5 1210.5,1949.1 1216.1,1948.6 1221.7,1948.0 1227.4,1947.4 1233.0,1946.9 1238.6,1946.6 1244.3,1946.0 1249.9,1945.4 1255.5,1944.7 1261.2,1944.0 1266.8,1943.3 1272.4,1942.8 1278.1,1942.3 1283.7,1941.7 1289.3,1940.9 1295.0,1939.9 1300.6,1938.9 1306.2,1938.0 1311.8,1937.2 1317.5,1936.6 1323.1,1935.7 1328.7,1934.8 1334.4,1933.4 1340.0,1932.1 1345.6,1930.7 1351.3,1929.3 1356.9,1928.1 1362.5,1927.2 1368.2,1925.7 1373.8,1924.3 1379.4,1922.8 1385.1,1921.1 1390.7,1920.0 1396.3,1918.6 1401.9,1917.4 1407.6,1916.0 1413.2,1913.8 1418.8,1911.4 1424.5,1909.6 1430.1,1907.5 1435.7,1905.7 1441.4,1904.1 1447.0,1901.8 1452.6,1899.8 1458.3,1897.2 1463.9,1894.1 1469.5,1891.2 1475.2,1888.3 1480.8,1885.4 1486.4,1882.3 1492.1,1877.6 1497.7,1872.4 1503.3,1868.2 1508.9,1865.0 1514.6,1861.4 1520.2,1857.9 1525.8,1853.2 1531.5,1846.9 1537.1,1839.8 1542.7,1833.3 1548.4,1826.8 1554.0,1820.5 1560.0,1815.0 1571.7,1805.2 1583.5,1793.5 1589.4,1793.5 1597.2,1779.8 1599.0,1778.8" stroke="#843c0b" stroke-width="4.0"/>
<polyline points="67.3,2061.5 72.9,2061.5 78.6,2061.5 84.2,2061.5 89.8,2061.5 95.5,2061.5 101.1,2061.5 106.7,2061.5 112.4,2061.5 118.0,2061.5 123.6,2061.5 129.2,2061.5 134.9,2061.5 140.5,2061.4 146.1,2061.2 151.8,2060.8 157.4,2060.3 163.0,2059.9 168.7,2059.6 174.3,2059.4 179.9,2058.8 185.6,2058.0 191.2,2056.5 196.8,2055.6 202.5,2054.6 208.1,2052.5 213.7,2047.8 219.3,2042.1 225.0,2035.3 230.6,2025.9 236.2,2016.4 241.9,2007.8 247.5,2000.0 253.1,1992.0 258.8,1982.7 264.4,1972.2 270.0,1961.8 275.7,1952.2 281.3,1944.3 286.9,1936.3 292.6,1929.1 298.2,1921.1 303.8,1912.1 309.5,1903.3 315.1,1894.6 320.7,1887.0 326.3,1879.8 332.0,1872.8 337.6,1866.2 343.2,1857.6 348.9,1849.6 354.5,1840.3 360.1,1833.5 365.8,1826.6 371.4,1820.6 377.0,1813.3 382.7,1807.3 388.3,1802.8 393.9,1799.0 399.6,1795.0 405.2,1791.3 410.8,1786.9 416.4,1782.8 422.1,1778.4 427.7,1774.3 433.3,1771.0 439.0,1767.7 444.6,1765.4 450.2,1763.2 455.9,1760.8 461.5,1757.8 467.1,1754.9 472.8,1752.1 478.4,1749.4 484.0,1747.3 489.7,1745.1 495.3,1742.7 500.9,1739.9 506.6,1736.8 512.2,1734.1 517.8,1731.5 523.4,1729.3 529.1,1727.1 534.7,1725.0 540.3,1722.8 546.0,1720.9 551.6,1719.0 557.2,1717.7 562.9,1717.0 568.5,1716.0 574.1,1715.0 579.8,1713.2 585.4,1711.4 591.0,1710.2 596.7,1709.1 602.3,1708.6 607.9,1708.1 613.5,1707.2 619.2,1705.9 624.8,1705.0 630.4,1703.6 636.1,1702.7 641.7,1702.1 647.3,1701.3 653.0,1700.6 658.6,1699.7 664.2,1698.6 669.9,1697.5 675.5,1696.9 681.1,1696.5 686.8,1696.0 692.4,1695.3 698.0,1694.6 703.7,1693.3 709.3,1692.0 714.9,1691.1 720.5,1690.6 726.2,1690.1 731.8,1689.5 737.4,1688.8 743.1,1687.8 748.7,1686.9 754.3,1686.3 760.0,1685.5 765.6,1684.8 771.2,1684.2 776.9,1683.2 782.5,1682.0 788.1,1681.0 793.8,1680.2 799.4,1679.8 805.0,1679.3 810.6,1678.5 816.3,1677.7 821.9,1676.5 827.5,1675.5 833.2,1674.7 838.8,1674.3 844.4,1674.1 850.1,1673.4 855.7,1672.3 861.3,1671.4 867.0,1670.5 872.6,1670.0 878.2,1669.4 883.9,1669.1 889.5,1668.1 895.1,1667.0 900.8,1666.2 906.4,1665.3 912.0,1664.8 917.6,1664.2 923.3,1663.9 928.9,1663.3 934.5,1662.4 940.2,1661.4 945.8,1660.3 951.4,1659.9 957.1,1659.4 962.7,1659.0 968.3,1658.4 974.0,1657.6 979.6,1656.4 985.2,1655.4 990.9,1655.0 996.5,1654.5 1002.1,1654.3 1007.7,1653.7 1013.4,1652.9 1019.0,1652.1 1024.6,1651.5 1030.3,1650.9 1035.9,1650.5 1041.5,1650.1 1047.2,1649.3 1052.8,1648.4 1058.4,1647.4 1064.1,1646.3 1069.7,1645.5 1075.3,1645.0 1081.0,1644.7 1086.6,1644.2 1092.2,1643.2 1097.9,1642.3 1103.5,1641.0 1109.1,1640.3 1114.7,1639.6 1120.4,1639.2 1126.0,1638.5 1131.6,1637.4 1137.3,1636.2 1142.9,1635.3 1148.5,1634.7 1154.2,1634.2 1159.8,1633.8 1165.4,1632.8 1171.1,1631.9 1176.7,1630.5 1182.3,1629.2 1188.0,1628.6 1193.6,1628.1 1199.2,1627.8 1204.8,1627.3 1210.5,1625.7 1216.1,1624.0 1221.7,1623.1 1227.4,1621.8 1233.0,1621.3 1238.6,1620.7 1244.3,1619.3 1249.9,1617.6 1255.5,1615.7 1261.2,1614.4 1266.8,1612.7 1272.4,1611.9 1278.1,1611.5 1283.7,1610.1 1289.3,1608.6 1295.0,1606.0 1300.6,1603.8 1306.2,1602.6 1311.8,1600.9 1317.5,1599.4 1323.1,1597.9 1328.7,1595.9 1334.4,1592.3 1340.0,1590.4 1345.6,1588.5 1351.3,1586.7 1356.9,1586.0 1362.5,1583.2 1368.2,1580.3 1373.8,1576.6 1379.4,1573.5 1385.1,1571.1 1390.7,1569.0 1396.3,1567.0 1401.9,1564.6 1407.6,1560.4 1413.2,1555.9 1418.8,1551.7 1424.5,1549.8 1430.1,1547.7 1435.7,1545.5 1441.4,1542.8 1447.0,1537.4 1452.6,1531.7 1458.3,1526.1 1463.9,1520.3 1469.5,1518.4 1475.2,1516.4 1480.8,1510.7 1486.4,1500.5 1492.1,1491.0 1497.7,1479.8 1503.3,1471.6 1508.9,1469.1 1514.6,1467.4 1520.2,1461.1 1525.8,1452.7 1531.5,1442.6 1537.1,1430.3 1542.7,1424.1 1548.4,1415.3 1554.0,1410.7 1559.6,1400.7 1565.3,1390.6 1570.9,1379.8 1576.5,1364.8 1582.2,1351.2 1587.8,1343.2 1593.4,1333.7 1599.0,1324.5" stroke="#525252" stroke-width="4.0"/>
<polyline points="67.3,2061.5 72.9,2061.5 78.6,2061.5 84.2,2061.5 89.8,2061.5 95.5,2061.5 101.1,2061.5 106.7,2061.5 112.4,2061.5 118.0,2061.5 123.6,2061.5 129.2,2061.5 134.9,2061.5 140.5,2061.5 146.1,2061.5 151.8,2061.5 157.4,2061.4 163.0,2061.4 168.7,2061.4 174.3,2061.3 179.9,2061.2 185.6,2061.1 191.2,2061.0 196.8,2060.8 202.5,2060.7 208.1,2060.4 213.7,2060.1 219.3,2059.8 225.0,2059.5 230.6,2059.1 236.2,2058.9 241.9,2058.5 247.5,2058.1 253.1,2057.4 258.8,2056.8 264.4,2056.2 270.0,2055.4 275.7,2055.1 281.3,2054.5 286.9,2053.6 292.6,2052.9 298.2,2051.6 303.8,2050.5 309.5,2049.6 315.1,2048.8 320.7,2048.0 326.3,2047.3 332.0,2046.1 337.6,2045.1 343.2,2044.0 348.9,2042.7 354.5,2042.0 360.1,2041.4 365.8,2040.3 371.4,2039.0 377.0,2037.5 382.7,2035.9 388.3,2035.0 393.9,2034.1 399.6,2032.9 405.2,2031.8 410.8,2030.4 416.4,2029.1 422.1,2027.3 427.7,2026.3 433.3,2025.4 439.0,2024.8 444.6,2023.9 450.2,2022.6 455.9,2020.6 461.5,2019.0 467.1,2017.5 472.8,2016.2 478.4,2015.2 484.0,2013.9 489.7,2012.7 495.3,2011.2 500.9,2009.8 506.6,2008.6 512.2,2007.4 517.8,2006.2 523.4,2004.6 529.1,2002.8 534.7,2001.4 540.3,2000.2 546.0,1999.1 551.6,1997.9 557.2,1996.8 562.9,1995.5 568.5,1993.9 574.1,1991.8 579.8,1990.5 585.4,1989.0 591.0,1987.9 596.7,1986.7 602.3,1985.9 607.9,1984.4 613.5,1983.0 619.2,1981.1 624.8,1980.0 630.4,1979.2 636.1,1978.2 641.7,1977.1 647.3,1975.8 653.0,1974.5 658.6,1973.3 664.2,1972.1 669.9,1971.1 675.5,1970.0 681.1,1968.7 686.8,1967.5 692.4,1965.7 698.0,1964.0 703.7,1962.6 709.3,1961.4 714.9,1960.0 720.5,1958.8 726.2,1957.0 731.8,1954.7 737.4,1952.8 743.1,1951.4 748.7,1950.1 754.3,1949.1 760.0,1947.3 765.6,1945.5 771.2,1943.2 776.9,1940.7 782.5,1938.0 788.1,1935.9 793.8,1933.6 799.4,1931.0 805.0,1928.4 810.6,1925.4 816.3,1921.8 821.9,1919.4 827.5,1917.3 833.2,1914.5 838.8,1911.7 844.4,1908.0 850.1,1904.7 855.7,1901.7 861.3,1899.1 867.0,1897.4 872.6,1895.4 878.2,1893.2 883.9,1889.9 889.5,1886.7 895.1,1883.4 900.8,1881.1 906.4,1879.1 912.0,1877.9 917.6,1876.0 923.3,1873.6 928.9,1870.5 934.5,1868.7 940.2,1866.7 945.8,1865.3 951.4,1863.9 957.1,1862.7 962.7,1861.2 968.3,1859.0 974.0,1857.2 979.6,1856.1 985.2,1855.2 990.9,1853.8 996.5,1852.4 1002.1,1850.7 1007.7,1848.8 1013.4,1846.9 1019.0,1845.4 1024.6,1844.5 1030.3,1843.5 1035.9,1842.1 1041.5,1840.8 1047.2,1838.9 1052.8,1837.4 1058.4,1835.9 1064.1,1835.3 1069.7,1834.2 1075.3,1833.1 1081.0,1831.6 1086.6,1829.9 1092.2,1828.2 1097.9,1827.1 1103.5,1826.2 1109.1,1825.2 1114.7,1823.9 1120.4,1822.3 1126.0,1820.8 1131.6,1819.6 1137.3,1818.5 1142.9,1818.0 1148.5,1817.4 1154.2,1816.7 1159.8,1815.6 1165.4,1814.3 1171.1,1813.0 1176.7,1812.0 1182.3,1811.4 1188.0,1810.7 1193.6,1809.4 1199.2,1808.2 1204.8,1806.6 1210.5,1805.4 1216.1,1804.5 1221.7,1803.4 1227.4,1802.3 1233.0,1801.3 1238.6,1799.6 1244.3,1797.6 1249.9,1795.7 1255.5,1794.1 1261.2,1792.2 1266.8,1791.1 1272.4,1789.5 1278.1,1787.3 1283.7,1784.5 1289.3,1781.7 1295.0,1778.6 1300.6,1776.8 1306.2,1773.7 1311.8,1770.2 1317.5,1765.2 1323.1,1759.9 1328.7,1754.1 1334.4,1750.4 1340.0,1747.0 1345.6,1742.6 1351.3,1737.4 1356.9,1731.3 1362.5,1724.4 1368.2,1718.3 1373.8,1713.5 1379.4,1709.8 1385.1,1704.0 1390.7,1697.9 1396.3,1690.4 1401.9,1682.8 1407.6,1676.1 1413.2,1669.4 1418.8,1663.7 1424.5,1659.5 1430.1,1653.9 1435.7,1643.4 1441.4,1632.1 1447.0,1622.4 1452.6,1613.6 1458.3,1605.8 1463.9,1600.8 1469.5,1590.4 1475.2,1580.9 1480.8,1567.5 1486.4,1557.0 1492.1,1548.8 1497.7,1542.6 1503.3,1532.4 1508.9,1518.6 1514.6,1504.7 1520.2,1484.1 1525.8,1465.0 1531.5,1450.3 1537.1,1436.9 1542.7,1423.1 1548.4,1405.9 1554.0,1382.6 1559.6,1353.2 1565.3,1331.2 1570.9,1313.0 1576.5,1290.2 1582.2,1277.0 1587.8,1252.5 1593.4,1230.0 1599.0,1191.1" stroke="#806000" stroke-width="4.0"/>
<polyline points="67.3,2061.5 72.9,2061.5 78.6,2061.5 84.2,2061.5 89.8,2061.5 95.5,2061.5 101.1,2061.5 106.7,2061.5 112.4,2061.5 118.0,2061.5 123.6,2061.5 129.2,2061.5 134.9,2061.5 140.5,2061.5 146.1,2061.4 151.8,2061.2 157.4,2060.9 163.0,2060.5 168.7,2059.6 174.3,2057.4 179.9,2054.4 185.6,2050.5 191.2,2044.3 196.8,2037.0 202.5,2029.9 208.1,2022.4 213.7,2015.6 219.3,2007.0 225.0,1997.9 230.6,1987.5 236.2,1975.1 241.9,1964.1 247.5,1955.0 253.1,1945.2 258.8,1935.7 264.4,1925.3 270.0,1914.1 275.7,1904.2 281.3,1894.9 286.9,1886.7 292.6,1878.2 298.2,1870.5 303.8,1862.7 309.5,1854.4 315.1,1845.7 320.7,1838.0 326.3,1832.2 332.0,1827.0 337.6,1821.4 343.2,1815.9 348.9,1811.0 354.5,1806.1 360.1,1801.3 365.8,1796.5 371.4,1790.2 377.0,1781.6 382.7,1775.1 388.3,1769.3 393.9,1764.1 399.6,1759.5 405.2,1755.4 410.8,1751.5 416.4,1748.5 422.1,1745.1 427.7,1741.9 433.3,1738.8 439.0,1736.3 444.6,1733.8 450.2,1731.8 455.9,1729.5 461.5,1727.0 467.1,1724.4 472.8,1722.0 478.4,1719.6 484.0,1717.8 489.7,1716.0 495.3,1714.3 500.9,1712.2 506.6,1709.9 512.2,1707.9 517.8,1705.8 523.4,1704.0 529.1,1702.6 534.7,1701.0 540.3,1699.7 546.0,1698.4 551.6,1697.2 557.2,1696.2 562.9,1695.4 568.5,1694.9 574.1,1694.1 579.8,1692.8 585.4,1691.5 591.0,1690.2 596.7,1688.9 602.3,1688.3 607.9,1687.6 613.5,1686.9 619.2,1686.2 624.8,1685.1 630.4,1684.1 636.1,1683.3 641.7,1682.5 647.3,1681.7 653.0,1681.0 658.6,1680.1 664.2,1679.1 669.9,1678.0 675.5,1677.0 681.1,1676.5 686.8,1675.9 692.4,1675.3 698.0,1674.6 703.7,1673.4 709.3,1672.4 714.9,1671.7 720.5,1671.1 726.2,1670.6 731.8,1669.9 737.4,1669.3 743.1,1668.3 748.7,1667.3 754.3,1666.5 760.0,1666.0 765.6,1665.3 771.2,1664.6 776.9,1663.9 782.5,1663.0 788.1,1662.3 793.8,1661.8 799.4,1661.3 805.0,1661.0 810.6,1660.3 816.3,1659.5 821.9,1658.8 827.5,1658.0 833.2,1657.4 838.8,1657.0 844.4,1656.6 850.1,1656.0 855.7,1655.5 861.3,1654.8 867.0,1654.0 872.6,1653.4 878.2,1652.8 883.9,1652.4 889.5,1651.8 895.1,1651.1 900.8,1650.3 906.4,1649.7 912.0,1649.1 917.6,1648.6 923.3,1648.0 928.9,1647.6 934.5,1647.0 940.2,1646.2 945.8,1645.3 951.4,1644.5 957.1,1643.9 962.7,1643.3 968.3,1642.6 974.0,1642.1 979.6,1641.3 985.2,1640.6 990.9,1639.9 996.5,1639.3 1002.1,1638.6 1007.7,1637.9 1013.4,1637.3 1019.0,1636.6 1024.6,1635.8 1030.3,1635.2 1035.9,1634.5 1041.5,1634.1 1047.2,1633.4 1052.8,1632.7 1058.4,1631.8 1064.1,1630.8 1069.7,1630.1 1075.3,1629.5 1081.0,1628.8 1086.6,1628.4 1092.2,1627.8 1097.9,1626.8 1103.5,1625.7 1109.1,1624.7 1114.7,1624.2 1120.4,1623.6 1126.0,1623.1 1131.6,1622.1 1137.3,1621.2 1142.9,1620.4 1148.5,1619.5 1154.2,1619.0 1159.8,1618.5 1165.4,1617.8 1171.1,1617.1 1176.7,1616.2 1182.3,1615.3 1188.0,1614.4 1193.6,1613.7 1199.2,1612.9 1204.8,1612.3 1210.5,1611.4 1216.1,1610.4 1221.7,1609.3 1227.4,1608.3 1233.0,1607.7 1238.6,1607.1 1244.3,1606.2 1249.9,1605.1 1255.5,1604.0 1261.2,1602.4 1266.8,1601.1 1272.4,1600.0 1278.1,1599.3 1283.7,1598.6 1289.3,1597.5 1295.0,1596.2 1300.6,1595.0 1306.2,1593.5 1311.8,1592.6 1317.5,1591.9 1323.1,1590.6 1328.7,1589.2 1334.4,1587.5 1340.0,1585.5 1345.6,1584.0 1351.3,1583.0 1356.9,1581.8 1362.5,1580.3 1368.2,1579.0 1373.8,1577.0 1379.4,1575.3 1385.1,1573.5 1390.7,1572.2 1396.3,1571.3 1401.9,1569.7 1407.6,1567.3 1413.2,1564.9 1418.8,1562.3 1424.5,1560.0 1430.1,1558.5 1435.7,1556.5 1441.4,1555.1 1447.0,1552.4 1452.6,1549.5 1458.3,1546.0 1463.9,1542.6 1469.5,1540.7 1475.2,1537.7 1480.8,1535.0 1486.4,1531.5 1492.1,1527.0 1497.7,1521.2 1503.3,1517.0 1508.9,1513.9 1514.6,1510.9 1520.2,1505.6 1525.8,1498.6 1531.5,1492.6 1537.1,1485.5 1542.7,1478.0 1548.4,1473.1 1554.0,1468.4 1559.6,1461.8 1565.3,1451.0 1570.9,1441.6 1576.5,1428.5 1582.2,1416.6 1587.8,1407.7 1593.4,1399.1 1599.0,1389.6" stroke="#1f4e79" stroke-width="4.0"/>
<polyline points="67.3,2061.5 72.9,2061.5 78.6,2061.5 84.2,2061.5 89.8,2061.5 95.5,2061.5 101.1,2061.5 106.7,2061.5 112.4,2061.5 118.0,2061.5 123.6,2061.5 129.2,2061.5 134.9,2061.5 140.5,2061.5 146.1,2061.5 151.8,2061.5 157.4,2061.5 163.0,2061.4 168.7,2061.4 174.3,2061.3 179.9,2061.3 185.6,2061.2 191.2,2061.1 196.8,2061.1 202.5,2060.9 208.1,2060.7 213.7,2060.5 219.3,2060.2 225.0,2059.9 230.6,2059.7 236.2,2059.5 241.9,2059.2 247.5,2058.8 253.1,2058.4 258.8,2057.9 264.4,2057.3 270.0,2056.9 275.7,2056.4 281.3,2055.8 286.9,2055.1 292.6,2054.3 298.2,2053.6 303.8,2053.1 309.5,2052.5 315.1,2052.0 320.7,2051.5 326.3,2050.7 332.0,2050.1 337.6,2049.4 343.2,2049.0 348.9,2048.7 354.5,2048.3 360.1,2047.7 365.8,2046.9 371.4,2046.1 377.0,2045.3 382.7,2044.6 388.3,2044.1 393.9,2043.5 399.6,2042.8 405.2,2042.1 410.8,2041.1 416.4,2040.1 422.1,2039.4 427.7,2038.7 433.3,2038.0 439.0,2037.3 444.6,2036.3 450.2,2035.1 455.9,2034.1 461.5,2033.3 467.1,2032.6 472.8,2031.9 478.4,2031.1 484.0,2029.8 489.7,2028.6 495.3,2027.2 500.9,2026.3 506.6,2025.4 512.2,2024.6 517.8,2023.2 523.4,2021.6 529.1,2019.9 534.7,2018.7 540.3,2017.6 546.0,2016.8 551.6,2016.0 557.2,2015.1 562.9,2013.3 568.5,2011.3 574.1,2009.3 579.8,2008.0 585.4,2007.0 591.0,2005.9 596.7,2004.5 602.3,2002.3 607.9,2000.0 613.5,1998.2 619.2,1996.4 624.8,1995.0 630.4,1993.8 636.1,1991.7 641.7,1989.5 647.3,1987.1 653.0,1984.3 658.6,1981.8 664.2,1979.8 669.9,1978.4 675.5,1975.6 681.1,1972.4 686.8,1969.4 692.4,1967.1 698.0,1964.7 703.7,1962.8 709.3,1961.0 714.9,1958.6 720.5,1955.0 726.2,1951.2 731.8,1948.5 737.4,1946.3 743.1,1944.7 748.7,1942.5 754.3,1939.8 760.0,1936.3 765.6,1933.1 771.2,1929.6 776.9,1926.8 782.5,1924.7 788.1,1921.9 793.8,1918.7 799.4,1914.9 805.0,1910.2 810.6,1906.5 816.3,1904.1 821.9,1901.0 827.5,1898.0 833.2,1894.2 838.8,1890.7 844.4,1885.6 850.1,1880.9 855.7,1877.9 861.3,1874.6 867.0,1871.1 872.6,1868.5 878.2,1864.1 883.9,1859.3 889.5,1854.9 895.1,1852.1 900.8,1849.9 906.4,1847.8 912.0,1845.0 917.6,1841.2 923.3,1836.6 928.9,1832.7 934.5,1830.2 940.2,1827.8 945.8,1825.6 951.4,1822.5 957.1,1819.4 962.7,1815.9 968.3,1812.9 974.0,1810.4 979.6,1808.6 985.2,1806.1 990.9,1803.5 996.5,1800.5 1002.1,1796.5 1007.7,1792.8 1013.4,1790.5 1019.0,1788.0 1024.6,1785.5 1030.3,1783.3 1035.9,1779.7 1041.5,1776.4 1047.2,1773.9 1052.8,1770.9 1058.4,1769.4 1064.1,1767.4 1069.7,1764.7 1075.3,1761.9 1081.0,1758.9 1086.6,1755.4 1092.2,1753.2 1097.9,1751.2 1103.5,1749.5 1109.1,1746.5 1114.7,1743.1 1120.4,1740.4 1126.0,1737.9 1131.6,1735.4 1137.3,1732.9 1142.9,1731.6 1148.5,1729.6 1154.2,1726.7 1159.8,1723.7 1165.4,1720.4 1171.1,1718.5 1176.7,1717.0 1182.3,1715.6 1188.0,1713.3 1193.6,1711.0 1199.2,1707.8 1204.8,1704.5 1210.5,1702.2 1216.1,1700.3 1221.7,1698.6 1227.4,1695.8 1233.0,1693.1 1238.6,1689.9 1244.3,1686.7 1249.9,1683.7 1255.5,1681.5 1261.2,1679.3 1266.8,1676.2 1272.4,1672.9 1278.1,1668.6 1283.7,1665.5 1289.3,1662.4 1295.0,1659.2 1300.6,1657.3 1306.2,1653.5 1311.8,1648.8 1317.5,1643.7 1323.1,1639.5 1328.7,1635.4 1334.4,1632.4 1340.0,1629.8 1345.6,1625.5 1351.3,1621.7 1356.9,1616.6 1362.5,1611.9 1368.2,1608.3 1373.8,1604.6 1379.4,1602.0 1385.1,1597.1 1390.7,1591.9 1396.3,1586.9 1401.9,1581.7 1407.6,1577.0 1413.2,1574.3 1418.8,1571.1 1424.5,1568.1 1430.1,1562.6 1435.7,1556.7 1441.4,1551.0 1447.0,1547.0 1452.6,1543.7 1458.3,1539.5 1463.9,1535.4 1469.5,1531.4 1475.2,1527.1 1480.8,1521.2 1486.4,1518.0 1492.1,1514.5 1497.7,1510.4 1503.3,1504.7 1508.9,1498.5 1514.6,1492.9 1520.2,1487.2 1525.8,1481.3 1531.5,1477.4 1537.1,1473.2 1542.7,1468.1 1548.4,1461.5 1554.0,1454.6 1559.6,1447.5 1565.3,1440.5 1570.9,1434.1 1576.5,1427.2 1582.2,1421.5 1587.8,1421.4 1593.4,1405.8 1599.0,1398.4" stroke="#385723" stroke-width="2.1"/>
<polyline points="67.3,2061.5 72.9,2061.5 78.6,2061.5 84.2,2061.5 89.8,2061.5 95.5,2061.5 101.1,2061.5 106.7,2061.5 112.4,2061.5 118.0,2061.5 123.6,2061.5 129.2,2061.5 134.9,2061.5 140.5,2061.5 146.1,2061.5 151.8,2061.5 157.4,2061.4 163.0,2061.4 168.7,2061.3 174.3,2061.3 179.9,2061.3 185.6,2061.2 191.2,2061.1 196.8,2060.8 202.5,2060.5 208.1,2060.2 213.7,2059.8 219.3,2059.6 225.0,2059.3 230.6,2059.0 236.2,2058.7 241.9,2058.3 247.5,2057.8 253.1,2057.5 258.8,2057.3 264.4,2057.0 270.0,2056.7 275.7,2056.3 281.3,2055.9 286.9,2055.4 292.6,2055.0 298.2,2054.6 303.8,2054.1 309.5,2053.7 315.1,2053.2 320.7,2052.4 326.3,2051.6 332.0,2050.9 337.6,2050.4 343.2,2049.5 348.9,2048.4 354.5,2047.4 360.1,2045.7 365.8,2044.2 371.4,2043.0 377.0,2041.8 382.7,2041.0 388.3,2039.6 393.9,2037.8 399.6,2036.2 405.2,2034.8 410.8,2033.7 416.4,2033.1 422.1,2032.4 427.7,2031.4 433.3,2030.0 439.0,2027.9 444.6,2026.6 450.2,2025.0 455.9,2023.8 461.5,2023.1 467.1,2021.6 472.8,2020.4 478.4,2018.8 484.0,2017.1 489.7,2015.8 495.3,2014.8 500.9,2014.0 506.6,2012.7 512.2,2011.1 517.8,2009.7 523.4,2008.0 529.1,2006.5 534.7,2005.3 540.3,2004.3 546.0,2003.5 551.6,2002.5 557.2,2001.0 562.9,1999.6 568.5,1998.4 574.1,1997.4 579.8,1996.5 585.4,1995.8 591.0,1994.6 596.7,1993.3 602.3,1992.1 607.9,1991.1 613.5,1990.6 619.2,1990.2 624.8,1989.8 630.4,1988.8 636.1,1987.7 641.7,1987.0 647.3,1986.5 653.0,1985.8 658.6,1985.2 664.2,1984.4 669.9,1983.7 675.5,1983.0 681.1,1982.3 686.8,1981.5 692.4,1980.8 698.0,1980.4 703.7,1979.7 709.3,1978.6 714.9,1977.3 720.5,1976.2 726.2,1975.1 731.8,1974.2 737.4,1973.7 743.1,1973.0 748.7,1971.5 754.3,1969.9 760.0,1967.9 765.6,1966.7 771.2,1965.8 776.9,1964.2 782.5,1962.8 788.1,1960.3 793.8,1958.0 799.4,1955.7 805.0,1953.3 810.6,1952.0 816.3,1950.7 821.9,1949.1 827.5,1946.7 833.2,1943.4 838.8,1939.5 844.4,1936.8 850.1,1935.0 855.7,1933.2 861.3,1930.0 867.0,1926.7 872.6,1922.7 878.2,1919.4 883.9,1916.9 889.5,1914.6 895.1,1911.9 900.8,1909.8 906.4,1905.8 912.0,1901.2 917.6,1897.6 923.3,1894.5 928.9,1891.8 934.5,1889.0 940.2,1886.4 945.8,1882.2 951.4,1878.3 957.1,1874.9 962.7,1870.8 968.3,1867.5 974.0,1865.3 979.6,1862.7 985.2,1857.8 990.9,1853.0 996.5,1847.2 1002.1,1843.7 1007.7,1841.2 1013.4,1836.7 1019.0,1832.6 1024.6,1827.6 1030.3,1822.0 1035.9,1816.8 1041.5,1812.9 1047.2,1810.1 1052.8,1807.7 1058.4,1801.7 1064.1,1795.5 1069.7,1788.3 1075.3,1781.1 1081.0,1776.2 1086.6,1770.8 1092.2,1768.0 1097.9,1763.6 1103.5,1758.3 1109.1,1749.6 1114.7,1742.2 1120.4,1737.1 1126.0,1732.8 1131.6,1726.4 1137.3,1720.7 1142.9,1710.9 1148.5,1702.9 1154.2,1694.9 1159.8,1688.2 1165.4,1683.9 1171.1,1678.8 1176.7,1670.4 1182.3,1661.2 1188.0,1649.0 1193.6,1637.2 1199.2,1630.9 1204.8,1622.1 1210.5,1613.9 1216.1,1607.8 1221.7,1595.5 1227.4,1582.0 1233.0,1569.5 1238.6,1561.5 1244.3,1555.0 1249.9,1550.4 1255.5,1538.4 1261.2,1523.3 1266.8,1509.6 1272.4,1494.5 1278.1,1486.5 1283.7,1477.1 1289.3,1465.7 1295.0,1452.2 1300.6,1437.2 1306.2,1421.9 1311.8,1404.5 1317.5,1388.5 1323.1,1379.1 1328.7,1365.9 1334.4,1352.8 1340.0,1332.9 1345.6,1307.8 1351.3,1291.4 1356.9,1276.4 1362.5,1262.6 1368.2,1247.2 1373.8,1229.7 1379.4,1207.4 1385.1,1184.6 1390.7,1157.1 1396.3,1137.0 1401.9,1117.7 1407.6,1104.2 1413.2,1081.6 1418.8,1058.6 1424.5,1035.0 1430.1,1010.7 1432.1,1000.0 1443.1,940.4 1451.7,891.4 1462.7,842.5 1468.8,793.6 1474.9,744.6 1482.3,695.7 1493.3,646.8 1504.3,597.9 1510.4,548.9 1516.5,498.0 1519.7,460.4 1521.4,450.6 1534.9,387.0 1544.6,338.0 1552.0,289.1 1559.3,235.3 1564.7,208.4 1569.1,196.1 1576.5,166.8 1587.5,115.4 1599.0,72.0" stroke="#7c9cd6" stroke-width="4.0"/>
<polyline points="67.3,2061.5 72.9,2061.5 78.6,2061.5 84.2,2061.5 89.8,2061.5 95.5,2061.5 101.1,2061.5 106.7,2061.5 112.4,2061.5 118.0,2061.5 123.6,2061.5 129.2,2061.5 134.9,2061.5 140.5,2061.5 146.1,2061.5 151.8,2061.5 157.4,2061.5 163.0,2061.5 168.7,2061.5 174.3,2061.5 179.9,2061.4 185.6,2061.4 191.2,2061.4 196.8,2061.4 202.5,2061.3 208.1,2061.3 213.7,2061.2 219.3,2061.1 225.0,2061.0 230.6,2061.0 236.2,2060.9 241.9,2060.9 247.5,2060.8 253.1,2060.5 258.8,2060.2 264.4,2059.8 270.0,2059.7 275.7,2059.5 281.3,2059.3 286.9,2058.9 292.6,2058.6 298.2,2058.4 303.8,2058.1 309.5,2057.9 315.1,2057.7 320.7,2057.7 326.3,2057.6 332.0,2057.5 337.6,2057.3 343.2,2057.3 348.9,2057.2 354.5,2057.2 360.1,2057.1 365.8,2057.1 371.4,2057.0 377.0,2057.0 382.7,2056.9 388.3,2056.8 393.9,2056.8 399.6,2056.8 405.2,2056.7 410.8,2056.6 416.4,2056.6 422.1,2056.6 427.7,2056.3 433.3,2056.2 439.0,2056.2 444.6,2056.1 450.2,2056.1 455.9,2056.1 461.5,2056.0 467.1,2055.8 472.8,2055.7 478.4,2055.6 484.0,2055.5 489.7,2055.4 495.3,2055.4 500.9,2055.4 506.6,2055.0 512.2,2055.0 517.8,2055.0 523.4,2054.8 529.1,2054.7 534.7,2054.7 540.3,2054.7 546.0,2054.3 551.6,2054.3 557.2,2054.2 562.9,2054.1 568.5,2054.0 574.1,2054.0 579.8,2054.0 585.4,2053.6 591.0,2053.6 596.7,2053.5 602.3,2053.4 607.9,2053.3 613.5,2053.3 619.2,2053.2 624.8,2052.9 630.4,2052.9 636.1,2052.8 641.7,2052.7 647.3,2052.6 653.0,2052.6 658.6,2052.6 664.2,2052.2 669.9,2052.2 675.5,2052.1 681.1,2052.0 686.8,2051.9 692.4,2051.9 698.0,2051.8 703.7,2051.5 709.3,2051.4 714.9,2051.4 720.5,2051.3 726.2,2051.1 731.8,2051.1 737.4,2051.1 743.1,2050.8 748.7,2050.7 754.3,2050.6 760.0,2050.5 765.6,2050.3 771.2,2050.3 776.9,2050.3 782.5,2049.9 788.1,2049.8 793.8,2049.8 799.4,2049.7 805.0,2049.5 810.6,2049.5 816.3,2049.5 821.9,2049.1 827.5,2049.0 833.2,2048.9 838.8,2048.8 844.4,2048.7 850.1,2048.7 855.7,2048.7 861.3,2048.3 867.0,2048.2 872.6,2048.1 878.2,2047.9 883.9,2047.8 889.5,2047.8 895.1,2047.8 900.8,2047.3 906.4,2047.2 912.0,2047.1 917.6,2047.0 923.3,2046.8 928.9,2046.8 934.5,2046.8 940.2,2046.3 945.8,2046.2 951.4,2046.1 957.1,2046.0 962.7,2045.7 968.3,2045.7 974.0,2045.7 979.6,2045.1 985.2,2044.9 990.9,2044.8 996.5,2044.6 1002.1,2044.4 1007.7,2044.4 1013.4,2044.3 1019.0,2043.8 1024.6,2043.8 1030.3,2043.7 1035.9,2043.5 1041.5,2043.2 1047.2,2043.2 1052.8,2043.2 1058.4,2042.4 1064.1,2042.3 1069.7,2042.2 1075.3,2042.0 1081.0,2041.8 1086.6,2041.8 1092.2,2041.8 1097.9,2041.3 1103.5,2041.2 1109.1,2041.1 1114.7,2041.0 1120.4,2040.8 1126.0,2040.8 1131.6,2040.7 1137.3,2040.3 1142.9,2040.1 1148.5,2040.0 1154.2,2039.9 1159.8,2039.8 1165.4,2039.8 1171.1,2039.8 1176.7,2039.3 1182.3,2039.2 1188.0,2039.1 1193.6,2039.0 1199.2,2038.7 1204.8,2038.7 1210.5,2038.7 1216.1,2038.3 1221.7,2038.2 1227.4,2038.2 1233.0,2038.1 1238.6,2037.9 1244.3,2037.9 1249.9,2037.9 1255.5,2037.2 1261.2,2037.0 1266.8,2036.9 1272.4,2036.7 1278.1,2036.5 1283.7,2036.5 1289.3,2036.5 1295.0,2035.8 1300.6,2035.6 1306.2,2035.5 1311.8,2035.2 1317.5,2034.9 1323.1,2034.9 1328.7,2034.8 1334.4,2033.9 1340.0,2033.8 1345.6,2033.6 1351.3,2033.4 1356.9,2033.2 1362.5,2033.2 1368.2,2033.2 1373.8,2032.0 1379.4,2031.9 1385.1,2031.6 1390.7,2031.4 1396.3,2031.0 1401.9,2031.0 1407.6,2031.0 1413.2,2030.2 1418.8,2030.1 1424.5,2029.9 1430.1,2029.6 1435.7,2029.3 1441.4,2029.3 1447.0,2029.3 1452.6,2028.6 1458.3,2028.5 1463.9,2028.3 1469.5,2028.2 1475.2,2028.0 1480.8,2027.9 1486.4,2027.9 1492.1,2027.3 1497.7,2027.2 1503.3,2027.0 1508.9,2026.9 1514.6,2026.7 1520.2,2026.7 1525.8,2026.7 1531.5,2026.2 1537.1,2026.2 1542.7,2026.2 1548.4,2026.1 1554.0,2025.9 1559.6,2025.9 1565.3,2025.9 1570.9,2025.6 1576.5,2025.5 1582.2,2025.5 1587.8,2025.4 1593.4,2025.3 1599.0,2025.3" stroke="#f2a46f" stroke-width="4.0"/>
<polyline points="67.3,2061.5 72.9,2061.5 78.6,2061.5 84.2,2061.5 89.8,2061.5 95.5,2061.5 101.1,2061.5 106.7,2061.5 112.4,2061.5 118.0,2061.5 123.6,2061.5 129.2,2061.5 134.9,2061.5 140.5,2061.5 146.1,2061.5 151.8,2061.5 157.4,2061.4 163.0,2061.4 168.7,2061.3 174.3,2061.3 179.9,2061.2 185.6,2061.1 191.2,2060.9 196.8,2060.7 202.5,2060.3 208.1,2060.1 213.7,2059.8 219.3,2059.5 225.0,2059.2 230.6,2058.7 236.2,2058.1 241.9,2057.7 247.5,2057.2 253.1,2056.7 258.8,2056.0 264.4,2055.3 270.0,2054.3 275.7,2053.4 281.3,2052.2 286.9,2051.4 292.6,2050.8 298.2,2050.0 303.8,2049.1 309.5,2047.9 315.1,2046.5 320.7,2045.6 326.3,2044.9 332.0,2044.2 337.6,2043.6 343.2,2042.5 348.9,2041.5 354.5,2040.3 360.1,2039.2 365.8,2038.2 371.4,2037.4 377.0,2036.7 382.7,2035.6 388.3,2034.3 393.9,2033.0 399.6,2031.8 405.2,2030.9 410.8,2030.3 416.4,2029.6 422.1,2028.6 427.7,2027.7 433.3,2026.5 439.0,2025.6 444.6,2024.8 450.2,2024.3 455.9,2023.7 461.5,2022.7 467.1,2021.6 472.8,2020.3 478.4,2019.3 484.0,2018.6 489.7,2017.9 495.3,2017.3 500.9,2016.5 506.6,2015.7 512.2,2014.7 517.8,2013.4 523.4,2012.5 529.1,2012.1 534.7,2011.3 540.3,2010.5 546.0,2009.6 551.6,2008.7 557.2,2007.8 562.9,2006.9 568.5,2006.0 574.1,2005.1 579.8,2004.5 585.4,2003.3 591.0,2002.0 596.7,2000.9 602.3,2000.2 607.9,1999.4 613.5,1999.0 619.2,1997.9 624.8,1997.0 630.4,1996.0 636.1,1994.8 641.7,1994.2 647.3,1993.3 653.0,1992.8 658.6,1992.1 664.2,1991.1 669.9,1990.2 675.5,1989.0 681.1,1987.8 686.8,1987.2 692.4,1986.6 698.0,1985.6 703.7,1984.3 709.3,1983.1 714.9,1981.9 720.5,1981.0 726.2,1980.3 731.8,1979.1 737.4,1977.9 743.1,1976.5 748.7,1975.0 754.3,1973.5 760.0,1972.2 765.6,1971.1 771.2,1970.1 776.9,1968.4 782.5,1966.5 788.1,1963.9 793.8,1962.0 799.4,1960.3 805.0,1959.1 810.6,1957.4 816.3,1955.4 821.9,1952.4 827.5,1949.1 833.2,1946.4 838.8,1944.5 844.4,1942.9 850.1,1941.5 855.7,1939.4 861.3,1936.0 867.0,1933.2 872.6,1930.6 878.2,1928.5 883.9,1926.9 889.5,1925.7 895.1,1923.1 900.8,1920.5 906.4,1917.3 912.0,1915.2 917.6,1913.3 923.3,1912.0 928.9,1910.3 934.5,1908.6 940.2,1906.4 945.8,1903.7 951.4,1901.8 957.1,1899.7 962.7,1898.4 968.3,1897.2 974.0,1895.7 979.6,1893.5 985.2,1891.0 990.9,1889.3 996.5,1887.8 1002.1,1886.8 1007.7,1885.1 1013.4,1883.6 1019.0,1881.5 1024.6,1879.5 1030.3,1877.4 1035.9,1876.0 1041.5,1874.4 1047.2,1873.0 1052.8,1871.4 1058.4,1869.4 1064.1,1867.2 1069.7,1865.0 1075.3,1863.2 1081.0,1862.3 1086.6,1861.1 1092.2,1859.4 1097.9,1857.2 1103.5,1855.3 1109.1,1853.7 1114.7,1851.8 1120.4,1850.1 1126.0,1848.9 1131.6,1847.1 1137.3,1845.4 1142.9,1843.2 1148.5,1841.8 1154.2,1840.1 1159.8,1839.1 1165.4,1838.3 1171.1,1836.7 1176.7,1834.6 1182.3,1832.4 1188.0,1830.2 1193.6,1829.0 1199.2,1827.6 1204.8,1826.6 1210.5,1825.2 1216.1,1823.3 1221.7,1820.8 1227.4,1818.8 1233.0,1817.3 1238.6,1815.5 1244.3,1814.2 1249.9,1811.9 1255.5,1809.3 1261.2,1806.8 1266.8,1804.4 1272.4,1802.5 1278.1,1800.3 1283.7,1798.9 1289.3,1797.0 1295.0,1794.2 1300.6,1790.9 1306.2,1788.3 1311.8,1785.7 1317.5,1783.3 1323.1,1781.6 1328.7,1779.5 1334.4,1775.7 1340.0,1771.4 1345.6,1768.3 1351.3,1764.8 1356.9,1762.6 1362.5,1760.4 1368.2,1758.1 1373.8,1754.9 1379.4,1750.7 1385.1,1746.7 1390.7,1742.3 1396.3,1739.0 1401.9,1735.9 1407.6,1731.1 1413.2,1726.5 1418.8,1720.7 1424.5,1716.5 1430.1,1711.5 1435.7,1708.4 1441.4,1705.5 1447.0,1701.4 1452.6,1693.1 1458.3,1683.7 1463.9,1674.8 1469.5,1666.6 1475.2,1659.4 1480.8,1654.2 1486.4,1647.2 1492.1,1637.5 1497.7,1622.3 1503.3,1610.5 1508.9,1597.8 1514.6,1587.7 1520.2,1577.9 1525.8,1567.8 1531.5,1557.1 1537.1,1540.3 1542.7,1529.3 1548.4,1518.3 1554.0,1509.9 1559.6,1499.2 1565.3,1488.0 1570.9,1468.4 1576.5,1447.0 1582.2,1428.6 1587.8,1428.6 1593.4,1399.6 1599.0,1386.7" stroke="#c0c0c0" stroke-width="4.0"/>
<polyline points="67.3,2061.5 72.9,2061.5 78.6,2061.5 84.2,2061.5 89.8,2061.5 95.5,2061.5 101.1,2061.5 106.7,2061.5 112.4,2061.5 118.0,2061.5 123.6,2061.5 129.2,2061.5 134.9,2061.5 140.5,2061.5 146.1,2061.5 151.8,2061.5 157.4,2061.4 163.0,2061.4 168.7,2061.4 174.3,2061.4 179.9,2061.4 185.6,2061.3 191.2,2061.2 196.8,2061.1 202.5,2060.8 208.1,2060.6 213.7,2060.4 219.3,2060.3 225.0,2060.2 230.6,2059.8 236.2,2059.6 241.9,2059.2 247.5,2058.8 253.1,2058.5 258.8,2058.3 264.4,2057.9 270.0,2057.5 275.7,2056.8 281.3,2056.2 286.9,2055.5 292.6,2055.1 298.2,2054.9 303.8,2054.5 309.5,2053.8 315.1,2053.1 320.7,2052.5 326.3,2051.7 332.0,2051.3 337.6,2051.1 343.2,2050.5 348.9,2049.9 354.5,2049.1 360.1,2048.2 365.8,2047.4 371.4,2047.1 377.0,2046.6 382.7,2046.3 388.3,2045.6 393.9,2045.0 399.6,2044.4 405.2,2043.8 410.8,2043.3 416.4,2043.1 422.1,2042.8 427.7,2042.3 433.3,2041.8 439.0,2041.2 444.6,2040.8 450.2,2040.3 455.9,2040.1 461.5,2039.7 467.1,2039.4 472.8,2038.8 478.4,2038.5 484.0,2038.2 489.7,2038.0 495.3,2037.7 500.9,2037.5 506.6,2037.0 512.2,2036.6 517.8,2036.0 523.4,2035.5 529.1,2035.1 534.7,2035.0 540.3,2034.8 546.0,2034.2 551.6,2033.7 557.2,2033.2 562.9,2032.7 568.5,2032.2 574.1,2031.8 579.8,2031.4 585.4,2030.6 591.0,2029.8 596.7,2028.8 602.3,2027.9 607.9,2027.4 613.5,2026.8 619.2,2026.0 624.8,2025.0 630.4,2024.1 636.1,2022.7 641.7,2021.6 647.3,2020.8 653.0,2020.2 658.6,2019.7 664.2,2018.3 669.9,2017.1 675.5,2015.2 681.1,2013.6 686.8,2012.4 692.4,2011.2 698.0,2010.0 703.7,2008.1 709.3,2005.9 714.9,2004.5 720.5,2003.2 726.2,2001.9 731.8,2001.1 737.4,2000.0 743.1,1997.7 748.7,1995.2 754.3,1992.4 760.0,1990.7 765.6,1988.6 771.2,1988.1 776.9,1985.4 782.5,1983.4 788.1,1979.2 793.8,1974.7 799.4,1970.0 805.0,1966.3 810.6,1965.1 816.3,1963.5 821.9,1960.1 827.5,1956.4 833.2,1950.3 838.8,1945.9 844.4,1942.3 850.1,1938.2 855.7,1935.1 861.3,1931.1 867.0,1926.4 872.6,1920.8 878.2,1914.8 883.9,1911.5 889.5,1909.8 895.1,1907.6 900.8,1904.1 906.4,1899.6 912.0,1893.0 917.6,1888.5 923.3,1886.2 928.9,1884.1 934.5,1881.8 940.2,1877.5 945.8,1873.0 951.4,1867.3 957.1,1863.4 962.7,1859.8 968.3,1857.7 974.0,1855.0 979.6,1851.3 985.2,1847.4 990.9,1843.7 996.5,1840.4 1002.1,1838.2 1007.7,1834.8 1013.4,1832.4 1019.0,1828.1 1024.6,1823.2 1030.3,1818.7 1035.9,1815.6 1041.5,1813.3 1047.2,1811.0 1052.8,1807.3 1058.4,1804.5 1064.1,1799.4 1069.7,1795.7 1075.3,1790.2 1081.0,1786.8 1086.6,1783.8 1092.2,1781.9 1097.9,1776.8 1103.5,1770.9 1109.1,1765.0 1114.7,1761.9 1120.4,1758.4 1126.0,1756.9 1131.6,1753.5 1137.3,1748.5 1142.9,1741.6 1148.5,1735.3 1154.2,1731.3 1159.8,1728.0 1165.4,1724.1 1171.1,1720.7 1176.7,1715.6 1182.3,1711.0 1188.0,1704.0 1193.6,1697.0 1199.2,1693.8 1204.8,1691.9 1210.5,1686.6 1216.1,1681.9 1221.7,1674.9 1227.4,1669.6 1233.0,1664.9 1238.6,1660.5 1244.3,1657.3 1249.9,1653.2 1255.5,1647.0 1261.2,1640.0 1266.8,1633.8 1272.4,1628.3 1278.1,1623.1 1283.7,1620.0 1289.3,1618.1 1295.0,1611.8 1300.6,1603.8 1306.2,1597.2 1311.8,1589.8 1317.5,1585.8 1323.1,1582.8 1328.7,1579.3 1334.4,1575.1 1340.0,1566.8 1345.6,1558.4 1351.3,1553.4 1356.9,1549.7 1362.5,1547.8 1368.2,1542.0 1373.8,1536.7 1379.4,1529.5 1385.1,1519.9 1390.7,1512.0 1396.3,1507.5 1401.9,1504.2 1407.6,1501.3 1413.2,1493.6 1418.8,1483.3 1424.5,1474.8 1430.1,1466.6 1435.7,1462.0 1441.4,1457.6 1447.0,1450.3 1452.6,1440.7 1458.3,1431.4 1463.9,1419.8 1469.5,1407.5 1475.2,1398.1 1480.8,1391.6 1486.4,1385.8 1492.1,1378.5 1497.7,1361.1 1503.3,1348.3 1508.9,1333.9 1514.6,1321.8 1520.2,1316.0 1525.8,1308.5 1531.5,1296.9 1537.1,1275.9 1542.7,1257.0 1548.4,1238.7 1554.0,1230.7 1559.6,1218.4 1565.3,1208.2 1570.9,1195.4 1576.5,1169.5 1582.2,1151.0 1587.8,1149.4 1593.4,1119.9 1599.0,1108.6" stroke="#ffd34c" stroke-width="4.0"/>
<polyline points="67.3,2061.5 72.9,2061.5 78.6,2061.5 84.2,2061.5 89.8,2061.5 95.5,2061.5 101.1,2061.5 106.7,2061.5 112.4,2061.5 118.0,2061.5 123.6,2061.5 129.2,2061.5 134.9,2061.5 140.5,2061.5 146.1,2061.5 151.8,2061.5 157.4,2061.5 163.0,2061.4 168.7,2061.4 174.3,2061.4 179.9,2061.4 185.6,2061.4 191.2,2061.3 196.8,2061.2 202.5,2061.1 208.1,2060.9 213.7,2060.9 219.3,2060.8 225.0,2060.7 230.6,2060.5 236.2,2060.3 241.9,2060.0 247.5,2059.9 253.1,2059.7 258.8,2059.6 264.4,2059.4 270.0,2059.0 275.7,2058.5 281.3,2058.0 286.9,2057.5 292.6,2057.3 298.2,2057.0 303.8,2056.7 309.5,2056.5 315.1,2056.1 320.7,2055.6 326.3,2055.2 332.0,2054.9 337.6,2054.7 343.2,2054.4 348.9,2053.9 354.5,2053.4 360.1,2053.0 365.8,2052.5 371.4,2052.3 377.0,2052.0 382.7,2051.7 388.3,2051.4 393.9,2050.9 399.6,2050.4 405.2,2049.9 410.8,2049.7 416.4,2049.5 422.1,2049.3 427.7,2049.1 433.3,2048.8 439.0,2048.5 444.6,2048.2 450.2,2048.0 455.9,2047.8 461.5,2047.7 467.1,2047.4 472.8,2047.1 478.4,2046.8 484.0,2046.6 489.7,2046.5 495.3,2046.3 500.9,2046.2 506.6,2046.0 512.2,2045.7 517.8,2045.4 523.4,2045.2 529.1,2045.0 534.7,2044.7 540.3,2044.6 546.0,2044.4 551.6,2044.0 557.2,2043.6 562.9,2043.2 568.5,2043.0 574.1,2042.7 579.8,2042.4 585.4,2042.1 591.0,2041.6 596.7,2041.1 602.3,2040.7 607.9,2040.3 613.5,2040.0 619.2,2039.7 624.8,2039.1 630.4,2038.2 636.1,2037.3 641.7,2036.7 647.3,2036.3 653.0,2035.7 658.6,2035.1 664.2,2034.5 669.9,2033.5 675.5,2032.6 681.1,2032.0 686.8,2031.2 692.4,2030.6 698.0,2030.0 703.7,2028.9 709.3,2027.8 714.9,2026.4 720.5,2025.6 726.2,2025.1 731.8,2024.7 737.4,2024.0 743.1,2023.0 748.7,2021.8 754.3,2020.4 760.0,2019.3 765.6,2018.5 771.2,2017.7 776.9,2016.8 782.5,2015.5 788.1,2013.9 793.8,2012.3 799.4,2010.7 805.0,2010.0 810.6,2008.9 816.3,2007.6 821.9,2005.7 827.5,2003.5 833.2,2001.4 838.8,1999.9 844.4,1998.4 850.1,1997.1 855.7,1995.5 861.3,1994.2 867.0,1992.1 872.6,1990.3 878.2,1988.4 883.9,1987.4 889.5,1985.9 895.1,1984.9 900.8,1983.7 906.4,1981.7 912.0,1979.7 917.6,1978.1 923.3,1977.4 928.9,1976.7 934.5,1975.4 940.2,1973.7 945.8,1972.3 951.4,1970.7 957.1,1969.2 962.7,1967.9 968.3,1966.8 974.0,1965.9 979.6,1964.9 985.2,1963.1 990.9,1961.4 996.5,1960.2 1002.1,1959.4 1007.7,1958.4 1013.4,1957.6 1019.0,1956.5 1024.6,1955.2 1030.3,1953.9 1035.9,1952.5 1041.5,1951.8 1047.2,1950.7 1052.8,1949.9 1058.4,1948.9 1064.1,1947.3 1069.7,1945.5 1075.3,1944.1 1081.0,1943.0 1086.6,1942.5 1092.2,1941.7 1097.9,1940.6 1103.5,1939.0 1109.1,1937.8 1114.7,1936.4 1120.4,1935.6 1126.0,1934.6 1131.6,1933.8 1137.3,1932.5 1142.9,1931.4 1148.5,1930.3 1154.2,1929.1 1159.8,1928.1 1165.4,1927.5 1171.1,1926.9 1176.7,1925.7 1182.3,1924.4 1188.0,1922.9 1193.6,1922.0 1199.2,1921.0 1204.8,1920.1 1210.5,1919.1 1216.1,1917.7 1221.7,1916.3 1227.4,1915.1 1233.0,1913.9 1238.6,1913.0 1244.3,1912.2 1249.9,1911.5 1255.5,1910.0 1261.2,1908.7 1266.8,1907.1 1272.4,1905.7 1278.1,1904.7 1283.7,1903.5 1289.3,1902.6 1295.0,1901.1 1300.6,1899.2 1306.2,1897.6 1311.8,1895.8 1317.5,1894.5 1323.1,1894.0 1328.7,1893.1 1334.4,1891.6 1340.0,1889.6 1345.6,1887.5 1351.3,1885.5 1356.9,1883.7 1362.5,1882.5 1368.2,1881.0 1373.8,1879.6 1379.4,1877.6 1385.1,1875.7 1390.7,1874.0 1396.3,1872.5 1401.9,1871.3 1407.6,1869.9 1413.2,1867.0 1418.8,1864.6 1424.5,1861.8 1430.1,1859.4 1435.7,1857.8 1441.4,1856.2 1447.0,1854.6 1452.6,1852.2 1458.3,1849.1 1463.9,1845.7 1469.5,1842.2 1475.2,1839.7 1480.8,1836.6 1486.4,1833.0 1492.1,1829.2 1497.7,1823.6 1503.3,1817.6 1508.9,1813.8 1514.6,1810.6 1520.2,1807.6 1525.8,1804.4 1531.5,1799.0 1537.1,1792.5 1542.7,1787.3 1548.4,1781.6 1554.0,1775.8 1560.0,1770.0 1579.6,1747.5 1591.3,1736.8 1599.0,1727.9" stroke="#8cb9e2" stroke-width="4.0"/>
<polyline points="67.3,2061.5 72.9,2061.5 78.6,2061.5 84.2,2061.5 89.8,2061.5 95.5,2061.5 101.1,2061.5 106.7,2061.5 112.4,2061.5 118.0,2061.5 123.6,2061.5 129.2,2061.5 134.9,2061.5 140.5,2061.5 146.1,2061.4 151.8,2061.4 157.4,2061.3 163.0,2061.2 168.7,2061.1 174.3,2060.9 179.9,2060.7 185.6,2060.5 191.2,2060.1 196.8,2060.0 202.5,2059.5 208.1,2059.1 213.7,2057.7 219.3,2056.6 225.0,2055.5 230.6,2054.5 236.2,2053.6 241.9,2052.5 247.5,2051.5 253.1,2049.4 258.8,2047.2 264.4,2045.3 270.0,2044.3 275.7,2043.2 281.3,2042.1 286.9,2039.3 292.6,2035.3 298.2,2032.8 303.8,2030.2 309.5,2028.8 315.1,2027.5 320.7,2026.1 326.3,2023.6 332.0,2020.1 337.6,2017.4 343.2,2013.7 348.9,2011.3 354.5,2010.6 360.1,2009.2 365.8,2006.8 371.4,2002.6 377.0,1999.1 382.7,1997.2 388.3,1995.2 393.9,1994.3 399.6,1992.4 405.2,1990.4 410.8,1987.2 416.4,1985.0 422.1,1982.5 427.7,1981.6 433.3,1981.0 439.0,1979.9 444.6,1978.9 450.2,1976.9 455.9,1974.8 461.5,1972.7 467.1,1971.8 472.8,1970.3 478.4,1969.5 484.0,1968.2 489.7,1965.8 495.3,1963.5 500.9,1962.4 506.6,1961.8 512.2,1961.2 517.8,1960.5 523.4,1959.6 529.1,1958.2 534.7,1956.4 540.3,1955.4 546.0,1954.0 551.6,1953.5 557.2,1952.5 562.9,1951.3 568.5,1950.1 574.1,1948.2 579.8,1947.1 585.4,1946.4 591.0,1946.0 596.7,1945.1 602.3,1944.1 607.9,1942.8 613.5,1941.9 619.2,1941.2 624.8,1940.6 630.4,1940.1 636.1,1939.8 641.7,1938.7 647.3,1937.8 653.0,1936.8 658.6,1936.3 664.2,1935.7 669.9,1935.3 675.5,1934.9 681.1,1934.0 686.8,1932.8 692.4,1931.9 698.0,1931.0 703.7,1930.6 709.3,1930.2 714.9,1930.0 720.5,1928.9 726.2,1927.6 731.8,1926.3 737.4,1925.4 743.1,1924.8 748.7,1924.1 754.3,1923.8 760.0,1922.9 765.6,1921.4 771.2,1919.7 776.9,1918.8 782.5,1918.3 788.1,1917.8 793.8,1916.9 799.4,1915.4 805.0,1913.4 810.6,1911.6 816.3,1910.2 821.9,1909.1 827.5,1908.4 833.2,1908.0 838.8,1906.2 844.4,1904.7 850.1,1902.5 855.7,1900.5 861.3,1899.4 867.0,1898.9 872.6,1898.4 878.2,1896.8 883.9,1895.1 889.5,1892.8 895.1,1891.2 900.8,1890.5 906.4,1889.4 912.0,1889.0 917.6,1887.6 923.3,1886.1 928.9,1883.9 934.5,1882.2 940.2,1881.3 945.8,1880.9 951.4,1880.6 957.1,1879.8 962.7,1878.0 968.3,1875.9 974.0,1875.1 979.6,1874.2 985.2,1873.4 990.9,1872.6 996.5,1871.5 1002.1,1869.7 1007.7,1868.1 1013.4,1866.6 1019.0,1866.4 1024.6,1866.1 1030.3,1865.4 1035.9,1863.8 1041.5,1862.6 1047.2,1860.5 1052.8,1859.0 1058.4,1858.0 1064.1,1856.9 1069.7,1856.5 1075.3,1855.8 1081.0,1854.5 1086.6,1853.1 1092.2,1852.3 1097.9,1851.0 1103.5,1850.3 1109.1,1849.1 1114.7,1847.8 1120.4,1846.2 1126.0,1844.1 1131.6,1842.9 1137.3,1841.7 1142.9,1841.0 1148.5,1839.8 1154.2,1839.1 1159.8,1837.9 1165.4,1835.8 1171.1,1834.6 1176.7,1834.1 1182.3,1833.5 1188.0,1832.1 1193.6,1830.7 1199.2,1829.0 1204.8,1827.3 1210.5,1825.5 1216.1,1824.8 1221.7,1824.2 1227.4,1823.6 1233.0,1822.0 1238.6,1820.5 1244.3,1818.3 1249.9,1816.7 1255.5,1815.3 1261.2,1814.5 1266.8,1813.4 1272.4,1811.4 1278.1,1809.2 1283.7,1806.3 1289.3,1804.7 1295.0,1803.5 1300.6,1801.9 1306.2,1801.4 1311.8,1799.0 1317.5,1796.9 1323.1,1794.5 1328.7,1793.1 1334.4,1791.6 1340.0,1790.3 1345.6,1789.3 1351.3,1787.1 1356.9,1783.4 1362.5,1779.9 1368.2,1777.0 1373.8,1774.3 1379.4,1773.4 1385.1,1772.8 1390.7,1769.9 1396.3,1766.5 1401.9,1763.8 1407.6,1760.4 1413.2,1758.2 1418.8,1755.2 1424.5,1752.0 1430.1,1749.2 1435.7,1745.1 1441.4,1739.9 1447.0,1735.8 1452.6,1734.3 1458.3,1732.4 1463.9,1729.2 1469.5,1724.0 1475.2,1715.3 1480.8,1708.9 1486.4,1701.4 1492.1,1696.9 1497.7,1691.7 1503.3,1684.9 1508.9,1674.2 1514.6,1664.9 1520.2,1654.0 1525.8,1648.0 1531.5,1641.0 1537.1,1638.9 1542.7,1635.8 1548.4,1623.6 1554.0,1608.0 1559.6,1595.0 1565.3,1580.8 1570.9,1577.6 1576.5,1574.8 1582.2,1569.2 1587.8,1561.3 1593.4,1540.7 1599.0,1521.7" stroke="#9ac97b" stroke-width="4.0"/>
<polyline points="67.3,2061.5 72.9,2061.5 78.6,2061.5 84.2,2061.5 89.8,2061.5 95.5,2061.5 101.1,2061.5 106.7,2061.5 112.4,2061.5 118.0,2061.5 123.6,2061.5 129.2,2061.5 134.9,2061.5 140.5,2061.5 146.1,2061.5 151.8,2061.5 157.4,2061.5 163.0,2061.4 168.7,2061.4 174.3,2061.4 179.9,2061.4 185.6,2061.4 191.2,2061.3 196.8,2061.1 202.5,2060.9 208.1,2060.7 213.7,2060.6 219.3,2060.4 225.0,2060.2 230.6,2060.0 236.2,2059.7 241.9,2059.5 247.5,2059.3 253.1,2059.0 258.8,2058.9 264.4,2058.6 270.0,2058.3 275.7,2057.9 281.3,2057.4 286.9,2057.1 292.6,2056.8 298.2,2056.6 303.8,2056.4 309.5,2056.2 315.1,2055.8 320.7,2055.4 326.3,2055.1 332.0,2054.9 337.6,2054.8 343.2,2054.6 348.9,2054.5 354.5,2054.2 360.1,2053.9 365.8,2053.8 371.4,2053.5 377.0,2053.4 382.7,2053.1 388.3,2052.8 393.9,2052.5 399.6,2052.2 405.2,2052.0 410.8,2051.8 416.4,2051.6 422.1,2051.3 427.7,2050.9 433.3,2050.5 439.0,2050.0 444.6,2049.6 450.2,2049.4 455.9,2049.2 461.5,2048.8 467.1,2048.3 472.8,2047.9 478.4,2047.3 484.0,2046.9 489.7,2046.5 495.3,2046.3 500.9,2046.1 506.6,2045.6 512.2,2045.1 517.8,2044.4 523.4,2043.8 529.1,2043.3 534.7,2043.0 540.3,2042.4 546.0,2041.8 551.6,2041.2 557.2,2040.5 562.9,2040.0 568.5,2039.5 574.1,2039.3 579.8,2038.9 585.4,2038.4 591.0,2037.7 596.7,2036.8 602.3,2036.3 607.9,2035.8 613.5,2035.5 619.2,2035.0 624.8,2034.3 630.4,2033.6 636.1,2033.0 641.7,2032.3 647.3,2031.9 653.0,2031.3 658.6,2030.6 664.2,2029.8 669.9,2028.8 675.5,2027.8 681.1,2027.2 686.8,2026.5 692.4,2026.2 698.0,2025.8 703.7,2024.7 709.3,2023.6 714.9,2022.4 720.5,2021.2 726.2,2020.7 731.8,2019.9 737.4,2019.0 743.1,2018.2 748.7,2017.1 754.3,2015.5 760.0,2014.3 765.6,2013.0 771.2,2011.9 776.9,2010.4 782.5,2009.0 788.1,2007.1 793.8,2005.1 799.4,2003.4 805.0,2002.4 810.6,2001.4 816.3,2000.2 821.9,1997.9 827.5,1995.7 833.2,1992.4 838.8,1990.4 844.4,1988.0 850.1,1986.2 855.7,1984.8 861.3,1982.8 867.0,1979.3 872.6,1976.2 878.2,1973.4 883.9,1971.2 889.5,1970.3 895.1,1968.0 900.8,1965.6 906.4,1962.3 912.0,1959.5 917.6,1956.9 923.3,1954.4 928.9,1952.4 934.5,1950.3 940.2,1948.0 945.8,1944.5 951.4,1941.2 957.1,1938.1 962.7,1935.7 968.3,1934.1 974.0,1931.8 979.6,1928.9 985.2,1925.2 990.9,1920.7 996.5,1917.9 1002.1,1915.3 1007.7,1913.9 1013.4,1911.3 1019.0,1907.8 1024.6,1902.9 1030.3,1897.7 1035.9,1894.1 1041.5,1891.0 1047.2,1889.4 1052.8,1886.6 1058.4,1884.0 1064.1,1880.7 1069.7,1877.6 1075.3,1873.4 1081.0,1870.9 1086.6,1868.1 1092.2,1864.9 1097.9,1860.8 1103.5,1856.1 1109.1,1851.9 1114.7,1849.3 1120.4,1847.1 1126.0,1845.0 1131.6,1843.1 1137.3,1839.6 1142.9,1835.8 1148.5,1831.8 1154.2,1828.3 1159.8,1825.3 1165.4,1823.5 1171.1,1821.5 1176.7,1817.9 1182.3,1813.8 1188.0,1810.2 1193.6,1807.3 1199.2,1805.2 1204.8,1803.2 1210.5,1801.3 1216.1,1796.9 1221.7,1792.7 1227.4,1789.1 1233.0,1785.7 1238.6,1783.2 1244.3,1781.0 1249.9,1779.0 1255.5,1774.6 1261.2,1769.7 1266.8,1766.3 1272.4,1761.8 1278.1,1759.3 1283.7,1758.1 1289.3,1756.2 1295.0,1752.0 1300.6,1748.2 1306.2,1743.9 1311.8,1740.5 1317.5,1737.0 1323.1,1734.6 1328.7,1732.6 1334.4,1728.8 1340.0,1723.9 1345.6,1720.4 1351.3,1716.8 1356.9,1714.1 1362.5,1711.5 1368.2,1709.1 1373.8,1705.5 1379.4,1701.5 1385.1,1696.6 1390.7,1693.1 1396.3,1690.5 1401.9,1687.8 1407.6,1685.7 1413.2,1680.6 1418.8,1674.8 1424.5,1669.4 1430.1,1666.0 1435.7,1663.1 1441.4,1659.3 1447.0,1655.8 1452.6,1652.0 1458.3,1647.2 1463.9,1642.3 1469.5,1636.5 1475.2,1632.0 1480.8,1628.2 1486.4,1623.5 1492.1,1617.8 1497.7,1612.8 1503.3,1606.1 1508.9,1599.8 1514.6,1594.7 1520.2,1589.6 1525.8,1585.3 1531.5,1578.6 1537.1,1572.2 1542.7,1564.7 1548.4,1558.2 1554.0,1554.6 1559.6,1550.1 1565.3,1546.1 1570.9,1539.7 1576.5,1531.6 1582.2,1523.4 1587.8,1514.8 1593.4,1508.7 1599.0,1503.4" stroke="#2c4f8c" stroke-width="4.0"/>
<polyline points="67.3,2061.5 72.9,2061.5 78.6,2061.5 84.2,2061.5 89.8,2061.5 95.5,2061.5 101.1,2061.5 106.7,2061.5 112.4,2061.5 118.0,2061.5 123.6,2061.5 129.2,2061.5 134.9,2061.5 140.5,2061.5 146.1,2061.4 151.8,2061.4 157.4,2061.2 163.0,2061.1 168.7,2061.0 174.3,2060.9 179.9,2060.9 185.6,2060.7 191.2,2060.3 196.8,2059.3 202.5,2057.8 208.1,2056.8 213.7,2055.7 219.3,2054.3 225.0,2053.0 230.6,2050.8 236.2,2048.5 241.9,2045.0 247.5,2042.6 253.1,2041.0 258.8,2039.9 264.4,2037.5 270.0,2034.6 275.7,2030.1 281.3,2025.1 286.9,2019.7 292.6,2014.1 298.2,2009.4 303.8,2004.0 309.5,1997.6 315.1,1989.7 320.7,1981.5 326.3,1973.7 332.0,1967.2 337.6,1961.7 343.2,1956.2 348.9,1951.2 354.5,1945.4 360.1,1939.6 365.8,1934.7 371.4,1930.8 377.0,1926.1 382.7,1921.9 388.3,1917.4 393.9,1912.0 399.6,1906.7 405.2,1901.0 410.8,1895.7 416.4,1891.9 422.1,1887.5 427.7,1883.3 433.3,1878.4 439.0,1873.1 444.6,1868.8 450.2,1864.2 455.9,1860.1 461.5,1856.7 467.1,1853.2 472.8,1849.0 478.4,1844.4 484.0,1840.6 489.7,1836.7 495.3,1833.0 500.9,1829.2 506.6,1825.3 512.2,1820.4 517.8,1816.0 523.4,1812.0 529.1,1808.6 534.7,1805.7 540.3,1803.1 546.0,1800.6 551.6,1798.0 557.2,1795.5 562.9,1793.4 568.5,1792.4 574.1,1791.3 579.8,1790.6 585.4,1788.8 591.0,1786.8 596.7,1784.7 602.3,1783.3 607.9,1782.2 613.5,1781.5 619.2,1780.7 624.8,1779.4 630.4,1778.3 636.1,1776.8 641.7,1775.7 647.3,1775.0 653.0,1774.2 658.6,1773.1 664.2,1771.9 669.9,1770.8 675.5,1769.6 681.1,1768.6 686.8,1767.4 692.4,1766.7 698.0,1765.8 703.7,1764.9 709.3,1763.5 714.9,1762.2 720.5,1761.1 726.2,1760.3 731.8,1759.5 737.4,1758.2 743.1,1757.3 748.7,1756.0 754.3,1754.4 760.0,1752.4 765.6,1751.6 771.2,1750.8 776.9,1749.5 782.5,1748.0 788.1,1746.6 793.8,1744.5 799.4,1743.1 805.0,1741.9 810.6,1741.3 816.3,1740.3 821.9,1738.7 827.5,1736.7 833.2,1734.6 838.8,1732.6 844.4,1731.2 850.1,1730.0 855.7,1729.3 861.3,1728.0 867.0,1726.4 872.6,1724.8 878.2,1722.7 883.9,1721.2 889.5,1719.9 895.1,1718.2 900.8,1716.8 906.4,1715.2 912.0,1713.2 917.6,1711.7 923.3,1710.7 928.9,1710.5 934.5,1710.2 940.2,1707.4 945.8,1705.2 951.4,1702.5 957.1,1700.8 962.7,1698.9 968.3,1698.8 974.0,1698.7 979.6,1695.0 985.2,1693.4 990.9,1690.8 996.5,1688.7 1002.1,1686.9 1007.7,1686.8 1013.4,1686.7 1019.0,1683.0 1024.6,1680.3 1030.3,1678.0 1035.9,1676.0 1041.5,1674.7 1047.2,1674.6 1052.8,1674.4 1058.4,1670.6 1064.1,1668.9 1069.7,1666.5 1075.3,1664.4 1081.0,1662.8 1086.6,1662.6 1092.2,1662.4 1097.9,1658.9 1103.5,1656.6 1109.1,1654.2 1114.7,1652.6 1120.4,1651.7 1126.0,1651.5 1131.6,1651.3 1137.3,1648.3 1142.9,1646.8 1148.5,1644.8 1154.2,1642.8 1159.8,1641.9 1165.4,1641.7 1171.1,1641.6 1176.7,1638.2 1182.3,1636.5 1188.0,1634.9 1193.6,1633.3 1199.2,1632.3 1204.8,1632.2 1210.5,1632.1 1216.1,1628.7 1221.7,1626.4 1227.4,1623.8 1233.0,1621.4 1238.6,1619.8 1244.3,1619.7 1249.9,1619.5 1255.5,1614.6 1261.2,1612.6 1266.8,1609.8 1272.4,1607.1 1278.1,1605.3 1283.7,1605.2 1289.3,1605.0 1295.0,1598.0 1300.6,1594.4 1306.2,1588.8 1311.8,1584.3 1317.5,1580.4 1323.1,1580.1 1328.7,1579.7 1334.4,1570.9 1340.0,1566.7 1345.6,1562.0 1351.3,1557.8 1356.9,1553.1 1362.5,1552.8 1368.2,1552.4 1373.8,1539.1 1379.4,1531.0 1385.1,1524.5 1390.7,1516.4 1396.3,1511.5 1401.9,1511.2 1407.6,1510.7 1413.2,1499.4 1418.8,1491.8 1424.5,1482.6 1430.1,1473.4 1435.7,1468.8 1441.4,1468.3 1447.0,1467.3 1452.6,1450.4 1458.3,1439.4 1463.9,1423.2 1469.5,1409.7 1475.2,1400.7 1480.8,1400.0 1486.4,1398.8 1492.1,1374.4 1497.7,1356.3 1503.3,1342.2 1508.9,1324.3 1514.6,1307.5 1520.2,1305.6 1525.8,1303.2 1531.5,1275.4 1537.1,1253.0 1542.7,1232.5 1548.4,1216.9 1554.0,1205.7 1559.6,1203.2 1565.3,1201.7 1570.9,1161.3 1576.5,1138.8 1582.2,1111.0 1587.8,1108.6 1593.4,1073.4 1599.0,1071.6" stroke="#b85410" stroke-width="4.0"/>
<polyline points="67.3,2061.5 72.9,2061.5 78.6,2061.5 84.2,2061.5 89.8,2061.5 95.5,2061.5 101.1,2061.5 106.7,2061.5 112.4,2061.5 118.0,2061.5 123.6,2061.5 129.2,2061.5 134.9,2061.5 140.5,2061.5 146.1,2061.5 151.8,2061.5 157.4,2061.4 163.0,2061.4 168.7,2061.4 174.3,2061.3 179.9,2061.3 185.6,2061.2 191.2,2061.1 196.8,2061.0 202.5,2060.8 208.1,2060.6 213.7,2060.2 219.3,2059.9 225.0,2059.5 230.6,2059.3 236.2,2059.1 241.9,2058.8 247.5,2058.4 253.1,2057.8 258.8,2057.2 264.4,2056.6 270.0,2055.9 275.7,2055.5 281.3,2054.8 286.9,2054.1 292.6,2053.4 298.2,2052.6 303.8,2051.8 309.5,2051.3 315.1,2050.8 320.7,2050.1 326.3,2049.5 332.0,2048.5 337.6,2047.6 343.2,2046.9 348.9,2046.2 354.5,2045.5 360.1,2044.9 365.8,2044.1 371.4,2043.1 377.0,2042.2 382.7,2041.6 388.3,2041.0 393.9,2040.5 399.6,2039.9 405.2,2039.0 410.8,2038.3 416.4,2037.5 422.1,2036.8 427.7,2036.2 433.3,2035.8 439.0,2035.2 444.6,2034.5 450.2,2033.7 455.9,2033.1 461.5,2032.6 467.1,2032.2 472.8,2031.7 478.4,2031.2 484.0,2030.6 489.7,2029.9 495.3,2029.3 500.9,2028.7 506.6,2028.2 512.2,2027.8 517.8,2027.2 523.4,2026.4 529.1,2025.6 534.7,2024.8 540.3,2024.1 546.0,2023.5 551.6,2022.8 557.2,2022.2 562.9,2021.1 568.5,2020.0 574.1,2018.8 579.8,2017.7 585.4,2016.6 591.0,2015.9 596.7,2014.5 602.3,2012.7 607.9,2010.6 613.5,2008.0 619.2,2006.2 624.8,2003.7 630.4,2001.4 636.1,1998.9 641.7,1996.0 647.3,1992.2 653.0,1988.6 658.6,1985.3 664.2,1983.4 669.9,1980.5 675.5,1977.5 681.1,1973.2 686.8,1967.8 692.4,1963.1 698.0,1958.9 703.7,1955.2 709.3,1951.4 714.9,1948.0 720.5,1944.2 726.2,1938.2 731.8,1932.4 737.4,1928.9 743.1,1926.4 748.7,1924.0 754.3,1919.1 760.0,1914.7 765.6,1909.0 771.2,1903.0 776.9,1896.4 782.5,1890.2 788.1,1885.7 793.8,1879.8 799.4,1872.5 805.0,1862.9 810.6,1856.3 816.3,1847.9 821.9,1844.1 827.5,1839.0 833.2,1832.3 838.8,1824.2 844.4,1816.5 850.1,1806.1 855.7,1797.4 861.3,1790.1 867.0,1784.2 872.6,1779.1 878.2,1770.1 883.9,1760.3 889.5,1752.4 895.1,1747.2 900.8,1743.7 906.4,1739.2 912.0,1734.3 917.6,1728.4 923.3,1723.2 928.9,1716.4 934.5,1712.6 940.2,1710.1 945.8,1706.2 951.4,1701.8 957.1,1697.0 962.7,1691.8 968.3,1687.6 974.0,1683.5 979.6,1681.2 985.2,1679.6 990.9,1677.2 996.5,1673.9 1002.1,1669.5 1007.7,1665.1 1013.4,1662.4 1019.0,1659.5 1024.6,1657.6 1030.3,1654.3 1035.9,1650.4 1041.5,1646.1 1047.2,1642.5 1052.8,1639.6 1058.4,1638.0 1064.1,1635.2 1069.7,1632.9 1075.3,1629.5 1081.0,1626.0 1086.6,1622.6 1092.2,1619.3 1097.9,1615.9 1103.5,1613.5 1109.1,1610.0 1114.7,1605.8 1120.4,1600.7 1126.0,1596.9 1131.6,1593.3 1137.3,1589.8 1142.9,1587.9 1148.5,1585.5 1154.2,1581.0 1159.8,1576.2 1165.4,1572.3 1171.1,1567.9 1176.7,1564.3 1182.3,1562.4 1188.0,1559.8 1193.6,1555.1 1199.2,1550.6 1204.8,1546.5 1210.5,1543.1 1216.1,1539.6 1221.7,1537.3 1227.4,1533.7 1233.0,1529.8 1238.6,1524.8 1244.3,1520.6 1249.9,1516.6 1255.5,1513.4 1261.2,1511.2 1266.8,1507.6 1272.4,1503.6 1278.1,1499.6 1283.7,1496.0 1289.3,1492.0 1295.0,1489.1 1300.6,1486.0 1306.2,1483.8 1311.8,1479.3 1317.5,1475.4 1323.1,1470.7 1328.7,1466.9 1334.4,1465.0 1340.0,1463.2 1345.6,1460.5 1351.3,1456.4 1356.9,1451.4 1362.5,1446.5 1368.2,1443.1 1373.8,1440.0 1379.4,1437.6 1385.1,1434.2 1390.7,1430.7 1396.3,1426.6 1401.9,1422.4 1407.6,1418.3 1413.2,1415.9 1418.8,1413.9 1424.5,1410.4 1430.1,1405.2 1435.7,1401.2 1441.4,1395.5 1447.0,1391.1 1452.6,1388.0 1458.3,1384.6 1463.9,1381.1 1469.5,1377.1 1475.2,1371.0 1480.8,1366.3 1486.4,1362.3 1492.1,1359.3 1497.7,1355.1 1503.3,1350.5 1508.9,1345.6 1514.6,1340.0 1520.2,1333.0 1525.8,1328.2 1531.5,1323.9 1537.1,1319.5 1542.7,1316.1 1548.4,1308.9 1554.0,1301.8 1559.6,1296.2 1565.3,1289.5 1570.9,1284.2 1576.5,1278.9 1582.2,1273.4 1587.8,1267.5 1593.4,1259.3 1599.0,1250.6" stroke="#747474" stroke-width="2.1"/>
<polyline points="67.3,2061.5 72.9,2061.5 78.6,2061.5 84.2,2061.5 89.8,2061.5 95.5,2061.5 101.1,2061.5 106.7,2061.5 112.4,2061.5 118.0,2061.5 123.6,2061.5 129.2,2061.5 134.9,2061.5 140.5,2061.5 146.1,2061.5 151.8,2061.5 157.4,2061.4 163.0,2061.4 168.7,2061.4 174.3,2061.3 179.9,2061.2 185.6,2061.2 191.2,2061.0 196.8,2060.9 202.5,2060.7 208.1,2060.4 213.7,2060.1 219.3,2059.8 225.0,2059.4 230.6,2059.0 236.2,2058.8 241.9,2058.5 247.5,2058.1 253.1,2057.2 258.8,2055.4 264.4,2053.5 270.0,2052.3 275.7,2051.0 281.3,2049.4 286.9,2047.4 292.6,2044.8 298.2,2042.6 303.8,2040.1 309.5,2038.3 315.1,2037.1 320.7,2035.8 326.3,2034.5 332.0,2032.0 337.6,2029.9 343.2,2028.2 348.9,2026.3 354.5,2024.9 360.1,2023.4 365.8,2021.8 371.4,2019.4 377.0,2017.0 382.7,2014.9 388.3,2013.4 393.9,2012.6 399.6,2011.1 405.2,2009.7 410.8,2006.9 416.4,2004.5 422.1,2002.4 427.7,2001.0 433.3,2000.0 439.0,1998.9 444.6,1997.2 450.2,1995.3 455.9,1993.1 461.5,1990.6 467.1,1988.7 472.8,1987.9 478.4,1986.1 484.0,1984.2 489.7,1981.7 495.3,1979.6 500.9,1977.1 506.6,1975.5 512.2,1974.3 517.8,1973.1 523.4,1971.5 529.1,1969.4 534.7,1967.0 540.3,1964.7 546.0,1963.1 551.6,1962.1 557.2,1961.3 562.9,1959.8 568.5,1958.1 574.1,1955.7 579.8,1953.7 585.4,1952.1 591.0,1950.8 596.7,1949.8 602.3,1948.5 607.9,1946.6 613.5,1945.1 619.2,1943.8 624.8,1942.3 630.4,1941.0 636.1,1939.7 641.7,1938.7 647.3,1937.3 653.0,1935.3 658.6,1934.1 664.2,1932.9 669.9,1931.7 675.5,1930.4 681.1,1929.4 686.8,1927.9 692.4,1926.5 698.0,1924.8 703.7,1923.6 709.3,1922.9 714.9,1922.2 720.5,1920.7 726.2,1918.8 731.8,1917.1 737.4,1915.8 743.1,1914.1 748.7,1913.0 754.3,1911.8 760.0,1910.4 765.6,1909.1 771.2,1907.6 776.9,1906.0 782.5,1904.7 788.1,1903.4 793.8,1902.2 799.4,1901.2 805.0,1899.9 810.6,1898.0 816.3,1896.4 821.9,1895.5 827.5,1894.9 833.2,1893.7 838.8,1892.1 844.4,1890.4 850.1,1888.4 855.7,1886.6 861.3,1885.6 867.0,1884.4 872.6,1883.8 878.2,1882.5 883.9,1881.1 889.5,1878.6 895.1,1876.4 900.8,1874.5 906.4,1872.8 912.0,1871.6 917.6,1869.5 923.3,1867.2 928.9,1864.2 934.5,1861.2 940.2,1859.8 945.8,1858.7 951.4,1856.5 957.1,1854.6 962.7,1851.2 968.3,1847.8 974.0,1845.0 979.6,1842.1 985.2,1839.5 990.9,1838.1 996.5,1834.7 1002.1,1830.8 1007.7,1826.4 1013.4,1821.7 1019.0,1817.7 1024.6,1815.4 1030.3,1813.5 1035.9,1811.1 1041.5,1805.8 1047.2,1800.2 1052.8,1796.8 1058.4,1793.8 1064.1,1790.8 1069.7,1787.2 1075.3,1782.7 1081.0,1777.6 1086.6,1772.8 1092.2,1767.2 1097.9,1762.5 1103.5,1759.5 1109.1,1756.8 1114.7,1752.9 1120.4,1747.5 1126.0,1741.7 1131.6,1736.3 1137.3,1730.9 1142.9,1727.1 1148.5,1724.0 1154.2,1718.5 1159.8,1712.8 1165.4,1704.9 1171.1,1697.3 1176.7,1691.1 1182.3,1687.1 1188.0,1682.4 1193.6,1677.8 1199.2,1669.9 1204.8,1662.3 1210.5,1655.3 1216.1,1648.4 1221.7,1644.4 1227.4,1638.9 1233.0,1633.2 1238.6,1622.9 1244.3,1614.5 1249.9,1603.6 1255.5,1594.8 1261.2,1586.5 1266.8,1580.2 1272.4,1573.1 1278.1,1559.3 1283.7,1544.8 1289.3,1533.8 1295.0,1523.3 1300.6,1512.9 1306.2,1503.1 1311.8,1494.0 1317.5,1475.1 1323.1,1455.4 1328.7,1435.9 1334.4,1417.1 1340.0,1408.5 1345.6,1391.5 1351.3,1372.9 1356.9,1354.4 1362.5,1332.1 1368.2,1314.0 1373.8,1295.0 1379.4,1279.8 1385.1,1269.7 1390.7,1249.7 1396.3,1218.3 1401.9,1193.8 1407.6,1169.0 1413.2,1152.4 1418.8,1137.7 1424.5,1118.7 1430.1,1097.5 1435.7,1076.6 1441.4,1054.9 1447.0,1033.1 1452.6,1011.1 1455.4,1000.0 1463.9,964.8 1471.3,928.1 1481.0,871.9 1487.2,837.6 1495.7,805.8 1503.1,769.1 1508.0,732.4 1512.8,695.7 1519.0,659.0 1525.1,622.3 1534.9,597.9 1544.6,548.9 1551.5,512.0 1559.3,484.8 1570.3,450.6 1578.9,416.3 1582.6,388.2 1589.9,388.2 1591.1,362.5 1593.6,340.5 1599.0,322.9" stroke="#b28600" stroke-width="4.0"/>
<polyline points="67.3,2061.5 72.9,2061.5 78.6,2061.5 84.2,2061.5 89.8,2061.5 95.5,2061.5 101.1,2061.5 106.7,2061.5 112.4,2061.5 118.0,2061.5 123.6,2061.5 129.2,2061.5 134.9,2061.5 140.5,2061.5 146.1,2061.5 151.8,2061.4 157.4,2061.4 163.0,2061.4 168.7,2061.3 174.3,2061.3 179.9,2061.2 185.6,2061.1 191.2,2061.0 196.8,2060.8 202.5,2060.5 208.1,2060.3 213.7,2059.9 219.3,2059.3 225.0,2058.9 230.6,2058.5 236.2,2058.3 241.9,2057.8 247.5,2057.3 253.1,2056.6 258.8,2055.9 264.4,2054.8 270.0,2054.2 275.7,2053.7 281.3,2052.7 286.9,2052.0 292.6,2050.9 298.2,2049.4 303.8,2048.4 309.5,2047.5 315.1,2047.0 320.7,2046.3 326.3,2045.2 332.0,2044.2 337.6,2043.0 343.2,2041.8 348.9,2041.1 354.5,2040.3 360.1,2039.8 365.8,2038.7 371.4,2037.6 377.0,2036.2 382.7,2035.2 388.3,2034.4 393.9,2033.6 399.6,2033.0 405.2,2032.2 410.8,2030.6 416.4,2029.3 422.1,2028.0 427.7,2026.8 433.3,2026.0 439.0,2025.3 444.6,2024.5 450.2,2023.6 455.9,2022.5 461.5,2021.0 467.1,2020.1 472.8,2019.3 478.4,2018.2 484.0,2016.9 489.7,2015.5 495.3,2014.3 500.9,2013.3 506.6,2012.5 512.2,2011.9 517.8,2011.4 523.4,2010.3 529.1,2008.8 534.7,2007.3 540.3,2005.6 546.0,2004.2 551.6,2003.4 557.2,2002.1 562.9,2000.9 568.5,1999.4 574.1,1997.5 579.8,1996.0 585.4,1995.0 591.0,1994.0 596.7,1993.2 602.3,1991.9 607.9,1989.5 613.5,1987.7 619.2,1986.0 624.8,1984.4 630.4,1983.3 636.1,1982.3 641.7,1980.8 647.3,1979.1 653.0,1977.0 658.6,1974.9 664.2,1973.1 669.9,1972.0 675.5,1971.0 681.1,1968.9 686.8,1966.1 692.4,1963.8 698.0,1961.1 703.7,1959.7 709.3,1958.1 714.9,1956.6 720.5,1954.0 726.2,1950.6 731.8,1946.9 737.4,1944.3 743.1,1941.4 748.7,1939.4 754.3,1937.3 760.0,1934.9 765.6,1931.3 771.2,1926.1 776.9,1920.8 782.5,1916.6 788.1,1914.0 793.8,1909.4 799.4,1904.2 805.0,1897.3 810.6,1888.0 816.3,1881.6 821.9,1876.4 827.5,1871.7 833.2,1866.0 838.8,1859.0 844.4,1851.1 850.1,1840.6 855.7,1831.5 861.3,1826.1 867.0,1821.6 872.6,1818.3 878.2,1813.0 883.9,1806.4 889.5,1797.8 895.1,1788.6 900.8,1781.2 906.4,1776.0 912.0,1770.3 917.6,1766.1 923.3,1758.6 928.9,1753.1 934.5,1748.3 940.2,1743.8 945.8,1739.2 951.4,1734.7 957.1,1730.4 962.7,1725.9 968.3,1718.7 974.0,1713.6 979.6,1710.4 985.2,1707.4 990.9,1704.0 996.5,1699.5 1002.1,1693.3 1007.7,1688.9 1013.4,1683.3 1019.0,1679.0 1024.6,1676.0 1030.3,1672.8 1035.9,1668.9 1041.5,1663.8 1047.2,1659.5 1052.8,1653.9 1058.4,1650.1 1064.1,1646.5 1069.7,1644.5 1075.3,1639.9 1081.0,1633.9 1086.6,1628.7 1092.2,1624.5 1097.9,1620.3 1103.5,1618.3 1109.1,1615.3 1114.7,1611.5 1120.4,1605.6 1126.0,1601.4 1131.6,1597.4 1137.3,1593.7 1142.9,1591.6 1148.5,1589.3 1154.2,1585.4 1159.8,1582.0 1165.4,1576.3 1171.1,1572.5 1176.7,1570.2 1182.3,1567.2 1188.0,1564.6 1193.6,1561.2 1199.2,1556.4 1204.8,1551.3 1210.5,1546.6 1216.1,1542.7 1221.7,1539.9 1227.4,1537.2 1233.0,1533.4 1238.6,1529.3 1244.3,1524.2 1249.9,1520.0 1255.5,1515.6 1261.2,1512.8 1266.8,1510.3 1272.4,1506.4 1278.1,1500.3 1283.7,1493.2 1289.3,1486.5 1295.0,1480.6 1300.6,1477.2 1306.2,1474.1 1311.8,1470.3 1317.5,1464.1 1323.1,1457.2 1328.7,1452.1 1334.4,1448.2 1340.0,1445.1 1345.6,1439.9 1351.3,1434.5 1356.9,1426.5 1362.5,1419.7 1368.2,1411.3 1373.8,1405.9 1379.4,1402.2 1385.1,1396.8 1390.7,1390.5 1396.3,1382.6 1401.9,1374.2 1407.6,1367.7 1413.2,1361.4 1418.8,1354.8 1424.5,1350.0 1430.1,1341.8 1435.7,1332.6 1441.4,1324.0 1447.0,1316.7 1452.6,1309.2 1458.3,1304.9 1463.9,1298.6 1469.5,1289.9 1475.2,1279.7 1480.8,1266.9 1486.4,1252.8 1492.1,1244.2 1497.7,1234.8 1503.3,1225.6 1508.9,1212.9 1514.6,1198.3 1520.2,1187.8 1525.8,1173.0 1531.5,1165.3 1537.1,1158.1 1542.7,1148.6 1548.4,1138.8 1554.0,1127.2 1559.6,1109.0 1565.3,1096.8 1570.9,1086.7 1576.5,1075.7 1582.2,1068.7 1587.8,1068.7 1593.4,1041.4 1599.0,1025.8" stroke="#2b6da9" stroke-width="2.1"/>
<polyline points="67.3,2061.5 72.9,2061.5 78.6,2061.5 84.2,2061.5 89.8,2061.5 95.5,2061.5 101.1,2061.5 106.7,2061.5 112.4,2061.5 118.0,2061.5 123.6,2061.5 129.2,2061.5 134.9,2061.5 140.5,2061.5 146.1,2061.5 151.8,2061.5 157.4,2061.4 163.0,2061.4 168.7,2061.4 174.3,2061.3 179.9,2061.3 185.6,2061.2 191.2,2061.1 196.8,2061.0 202.5,2060.9 208.1,2060.8 213.7,2060.5 219.3,2060.3 225.0,2059.9 230.6,2059.6 236.2,2059.4 241.9,2059.2 247.5,2058.9 253.1,2058.5 258.8,2058.0 264.4,2057.5 270.0,2057.1 275.7,2056.6 281.3,2056.2 286.9,2055.6 292.6,2054.8 298.2,2054.1 303.8,2053.3 309.5,2052.6 315.1,2052.2 320.7,2051.9 326.3,2051.3 332.0,2050.7 337.6,2050.1 343.2,2049.3 348.9,2048.9 354.5,2048.3 360.1,2047.8 365.8,2047.3 371.4,2046.5 377.0,2045.9 382.7,2045.1 388.3,2044.4 393.9,2044.0 399.6,2043.4 405.2,2042.9 410.8,2042.0 416.4,2041.2 422.1,2040.6 427.7,2040.0 433.3,2039.6 439.0,2039.0 444.6,2038.3 450.2,2037.6 455.9,2036.9 461.5,2036.2 467.1,2035.7 472.8,2035.2 478.4,2034.8 484.0,2034.2 489.7,2033.5 495.3,2032.7 500.9,2031.8 506.6,2031.0 512.2,2030.3 517.8,2029.8 523.4,2029.2 529.1,2028.3 534.7,2027.4 540.3,2026.3 546.0,2025.3 551.6,2024.6 557.2,2023.9 562.9,2023.0 568.5,2021.8 574.1,2020.6 579.8,2019.4 585.4,2018.4 591.0,2017.5 596.7,2016.5 602.3,2015.3 607.9,2013.4 613.5,2011.6 619.2,2010.0 624.8,2008.5 630.4,2007.4 636.1,2005.6 641.7,2003.7 647.3,2001.0 653.0,1998.7 658.6,1995.7 664.2,1994.1 669.9,1992.3 675.5,1991.1 681.1,1988.3 686.8,1985.0 692.4,1981.6 698.0,1978.3 703.7,1975.5 709.3,1973.1 714.9,1970.9 720.5,1969.1 726.2,1965.6 731.8,1961.3 737.4,1958.4 743.1,1955.0 748.7,1952.1 754.3,1948.8 760.0,1944.7 765.6,1940.1 771.2,1935.9 776.9,1931.4 782.5,1926.3 788.1,1923.2 793.8,1919.8 799.4,1913.9 805.0,1907.0 810.6,1899.1 816.3,1890.6 821.9,1883.4 827.5,1878.6 833.2,1873.0 838.8,1866.8 844.4,1859.8 850.1,1851.3 855.7,1844.2 861.3,1837.3 867.0,1833.6 872.6,1828.3 878.2,1820.9 883.9,1814.4 889.5,1805.7 895.1,1797.9 900.8,1793.3 906.4,1788.0 912.0,1782.9 917.6,1777.4 923.3,1771.1 928.9,1765.1 934.5,1759.1 940.2,1755.3 945.8,1751.0 951.4,1748.2 957.1,1743.4 962.7,1738.8 968.3,1732.9 974.0,1728.1 979.6,1723.8 985.2,1720.5 990.9,1716.9 996.5,1712.3 1002.1,1708.4 1007.7,1704.1 1013.4,1698.5 1019.0,1694.7 1024.6,1690.6 1030.3,1688.0 1035.9,1685.0 1041.5,1680.3 1047.2,1675.7 1052.8,1671.5 1058.4,1668.0 1064.1,1665.9 1069.7,1663.0 1075.3,1658.6 1081.0,1654.7 1086.6,1650.2 1092.2,1646.3 1097.9,1643.1 1103.5,1640.1 1109.1,1637.4 1114.7,1633.8 1120.4,1629.5 1126.0,1624.7 1131.6,1620.7 1137.3,1617.6 1142.9,1615.6 1148.5,1613.1 1154.2,1609.7 1159.8,1606.4 1165.4,1603.1 1171.1,1600.1 1176.7,1597.0 1182.3,1594.0 1188.0,1591.1 1193.6,1588.1 1199.2,1583.8 1204.8,1580.2 1210.5,1577.5 1216.1,1575.2 1221.7,1573.6 1227.4,1570.8 1233.0,1568.5 1238.6,1564.1 1244.3,1560.3 1249.9,1556.0 1255.5,1553.3 1261.2,1551.1 1266.8,1548.2 1272.4,1546.0 1278.1,1541.6 1283.7,1537.0 1289.3,1533.4 1295.0,1529.9 1300.6,1527.9 1306.2,1525.1 1311.8,1522.4 1317.5,1519.5 1323.1,1516.0 1328.7,1512.2 1334.4,1509.1 1340.0,1506.0 1345.6,1504.2 1351.3,1501.4 1356.9,1498.2 1362.5,1494.6 1368.2,1491.3 1373.8,1488.1 1379.4,1484.6 1385.1,1481.6 1390.7,1478.8 1396.3,1474.7 1401.9,1470.7 1407.6,1466.5 1413.2,1463.6 1418.8,1459.9 1424.5,1456.7 1430.1,1453.2 1435.7,1447.2 1441.4,1441.3 1447.0,1436.8 1452.6,1431.8 1458.3,1427.8 1463.9,1423.3 1469.5,1417.3 1475.2,1411.7 1480.8,1402.5 1486.4,1393.9 1492.1,1386.4 1497.7,1381.1 1503.3,1374.6 1508.9,1366.3 1514.6,1357.8 1520.2,1349.6 1525.8,1342.0 1531.5,1336.0 1537.1,1329.5 1542.7,1321.8 1548.4,1315.5 1554.0,1305.8 1559.6,1294.1 1565.3,1283.2 1570.9,1276.0 1576.5,1268.7 1582.2,1261.6 1587.8,1253.4 1593.4,1240.8 1599.0,1230.1" stroke="#4e7932" stroke-width="4.0"/>
<polyline points="67.3,2061.5 72.9,2061.5 78.6,2061.5 84.2,2061.5 89.8,2061.5 95.5,2061.5 101.1,2061.5 106.7,2061.5 112.4,2061.5 118.0,2061.5 123.6,2061.5 129.2,2061.5 134.9,2061.5 140.5,2061.5 146.1,2061.5 151.8,2061.5 157.4,2061.4 163.0,2061.4 168.7,2061.3 174.3,2061.3 179.9,2061.2 185.6,2061.1 191.2,2061.0 196.8,2060.8 202.5,2060.6 208.1,2060.3 213.7,2059.8 219.3,2059.5 225.0,2059.1 230.6,2058.8 236.2,2058.5 241.9,2058.2 247.5,2057.7 253.1,2056.9 258.8,2056.1 264.4,2055.4 270.0,2054.9 275.7,2054.4 281.3,2053.4 286.9,2052.3 292.6,2051.4 298.2,2050.5 303.8,2049.4 309.5,2048.7 315.1,2048.1 320.7,2047.2 326.3,2046.3 332.0,2045.2 337.6,2044.1 343.2,2043.1 348.9,2042.4 354.5,2041.7 360.1,2040.9 365.8,2039.8 371.4,2038.8 377.0,2037.5 382.7,2036.8 388.3,2036.1 393.9,2035.5 399.6,2034.7 405.2,2033.5 410.8,2032.3 416.4,2031.0 422.1,2030.1 427.7,2029.5 433.3,2029.0 439.0,2028.3 444.6,2027.2 450.2,2025.9 455.9,2024.9 461.5,2024.1 467.1,2023.5 472.8,2022.7 478.4,2022.0 484.0,2021.1 489.7,2020.0 495.3,2019.0 500.9,2018.1 506.6,2017.6 512.2,2016.6 517.8,2015.7 523.4,2014.5 529.1,2013.1 534.7,2012.1 540.3,2011.2 546.0,2010.2 551.6,2009.3 557.2,2008.1 562.9,2007.0 568.5,2005.1 574.1,2003.5 579.8,2002.5 585.4,2001.4 591.0,1999.9 596.7,1998.0 602.3,1996.4 607.9,1994.2 613.5,1992.0 619.2,1990.1 624.8,1988.1 630.4,1986.6 636.1,1984.0 641.7,1981.0 647.3,1977.9 653.0,1974.5 658.6,1972.2 664.2,1970.5 669.9,1968.6 675.5,1966.4 681.1,1962.6 686.8,1958.8 692.4,1955.6 698.0,1952.8 703.7,1950.0 709.3,1947.8 714.9,1945.1 720.5,1941.6 726.2,1938.1 731.8,1935.0 737.4,1931.9 743.1,1929.8 748.7,1927.4 754.3,1925.1 760.0,1921.8 765.6,1917.6 771.2,1913.3 776.9,1910.2 782.5,1907.7 788.1,1904.7 793.8,1902.0 799.4,1898.6 805.0,1894.0 810.6,1889.3 816.3,1885.5 821.9,1881.8 827.5,1878.9 833.2,1876.3 838.8,1871.9 844.4,1867.5 850.1,1863.4 855.7,1860.6 861.3,1858.0 867.0,1855.6 872.6,1851.6 878.2,1847.4 883.9,1843.1 889.5,1838.5 895.1,1835.5 900.8,1832.3 906.4,1830.4 912.0,1828.0 917.6,1825.0 923.3,1821.6 928.9,1818.0 934.5,1815.2 940.2,1813.6 945.8,1811.4 951.4,1809.4 957.1,1806.9 962.7,1803.7 968.3,1800.6 974.0,1798.0 979.6,1796.0 985.2,1794.5 990.9,1793.1 996.5,1790.5 1002.1,1787.9 1007.7,1785.8 1013.4,1784.2 1019.0,1782.9 1024.6,1781.0 1030.3,1778.8 1035.9,1776.2 1041.5,1773.3 1047.2,1770.8 1052.8,1768.4 1058.4,1766.8 1064.1,1765.4 1069.7,1763.6 1075.3,1760.5 1081.0,1757.6 1086.6,1754.3 1092.2,1751.6 1097.9,1749.5 1103.5,1747.6 1109.1,1744.5 1114.7,1741.1 1120.4,1737.1 1126.0,1733.9 1131.6,1730.1 1137.3,1726.8 1142.9,1723.6 1148.5,1720.0 1154.2,1716.6 1159.8,1712.1 1165.4,1707.9 1171.1,1704.7 1176.7,1701.7 1182.3,1698.1 1188.0,1694.4 1193.6,1689.9 1199.2,1684.7 1204.8,1679.2 1210.5,1674.3 1216.1,1671.0 1221.7,1668.4 1227.4,1663.3 1233.0,1657.5 1238.6,1651.8 1244.3,1645.2 1249.9,1639.1 1255.5,1636.1 1261.2,1633.3 1266.8,1627.3 1272.4,1620.9 1278.1,1613.1 1283.7,1606.4 1289.3,1601.1 1295.0,1596.6 1300.6,1591.8 1306.2,1585.1 1311.8,1577.0 1317.5,1568.2 1323.1,1559.4 1328.7,1553.0 1334.4,1546.5 1340.0,1540.6 1345.6,1534.7 1351.3,1525.2 1356.9,1515.5 1362.5,1504.4 1368.2,1496.6 1373.8,1490.7 1379.4,1485.4 1385.1,1476.4 1390.7,1464.4 1396.3,1454.7 1401.9,1444.8 1407.6,1433.3 1413.2,1426.0 1418.8,1419.2 1424.5,1407.7 1430.1,1394.1 1435.7,1378.3 1441.4,1366.5 1447.0,1356.0 1452.6,1344.6 1458.3,1334.4 1463.9,1322.6 1469.5,1308.3 1475.2,1291.4 1480.8,1275.1 1486.4,1258.6 1492.1,1248.5 1497.7,1236.7 1503.3,1218.5 1508.9,1199.4 1514.6,1175.5 1520.2,1156.4 1525.8,1134.0 1531.5,1114.4 1537.1,1096.3 1542.7,1072.0 1548.4,1047.7 1554.0,1024.7 1559.6,1004.2 1560.6,1000.0 1571.6,969.7 1581.3,946.5 1588.7,945.3 1593.6,911.0 1599.0,895.1" stroke="#a2b8e2" stroke-width="4.0"/>
<polyline points="67.3,2061.5 72.9,2061.5 78.6,2061.5 84.2,2061.5 89.8,2061.5 95.5,2061.5 101.1,2061.5 106.7,2061.5 112.4,2061.5 118.0,2061.5 123.6,2061.5 129.2,2061.5 134.9,2061.5 140.5,2061.5 146.1,2061.4 151.8,2061.4 157.4,2061.3 163.0,2061.2 168.7,2061.1 174.3,2060.9 179.9,2060.6 185.6,2060.3 191.2,2059.7 196.8,2059.0 202.5,2058.5 208.1,2057.7 213.7,2056.5 219.3,2055.4 225.0,2054.1 230.6,2053.2 236.2,2052.5 241.9,2051.9 247.5,2051.1 253.1,2049.9 258.8,2048.7 264.4,2047.1 270.0,2045.6 275.7,2044.6 281.3,2043.8 286.9,2042.9 292.6,2041.9 298.2,2040.9 303.8,2039.9 309.5,2039.0 315.1,2038.5 320.7,2038.0 326.3,2037.8 332.0,2037.4 337.6,2037.1 343.2,2036.7 348.9,2036.3 354.5,2036.1 360.1,2035.9 365.8,2035.8 371.4,2035.5 377.0,2035.3 382.7,2035.0 388.3,2034.9 393.9,2034.7 399.6,2034.6 405.2,2034.5 410.8,2034.4 416.4,2034.1 422.1,2034.0 427.7,2033.8 433.3,2033.7 439.0,2033.6 444.6,2033.5 450.2,2033.4 455.9,2033.3 461.5,2033.2 467.1,2033.0 472.8,2032.9 478.4,2032.9 484.0,2032.8 489.7,2032.7 495.3,2032.6 500.9,2032.5 506.6,2032.5 512.2,2032.4 517.8,2032.3 523.4,2032.2 529.1,2032.1 534.7,2032.0 540.3,2031.9 546.0,2031.8 551.6,2031.7 557.2,2031.6 562.9,2031.6 568.5,2031.4 574.1,2031.2 579.8,2031.1 585.4,2030.9 591.0,2030.8 596.7,2030.7 602.3,2030.6 607.9,2030.4 613.5,2030.2 619.2,2029.9 624.8,2029.7 630.4,2029.5 636.1,2029.4 641.7,2029.2 647.3,2029.0 653.0,2028.8 658.6,2028.4 664.2,2028.2 669.9,2028.0 675.5,2027.9 681.1,2027.7 686.8,2027.4 692.4,2027.1 698.0,2026.8 703.7,2026.6 709.3,2026.4 714.9,2026.2 720.5,2026.0 726.2,2025.7 731.8,2025.4 737.4,2025.1 743.1,2024.9 748.7,2024.8 754.3,2024.5 760.0,2024.4 765.6,2024.2 771.2,2023.9 776.9,2023.6 782.5,2023.3 788.1,2023.2 793.8,2023.1 799.4,2022.9 805.0,2022.7 810.6,2022.4 816.3,2022.1 821.9,2021.8 827.5,2021.7 833.2,2021.5 838.8,2021.3 844.4,2021.1 850.1,2020.7 855.7,2020.5 861.3,2020.3 867.0,2020.1 872.6,2020.0 878.2,2019.8 883.9,2019.6 889.5,2019.3 895.1,2019.1 900.8,2018.9 906.4,2018.7 912.0,2018.5 917.6,2018.3 923.3,2018.0 928.9,2017.7 934.5,2017.4 940.2,2017.2 945.8,2017.0 951.4,2016.8 957.1,2016.6 962.7,2016.4 968.3,2016.2 974.0,2015.8 979.6,2015.6 985.2,2015.4 990.9,2015.2 996.5,2015.1 1002.1,2014.8 1007.7,2014.5 1013.4,2014.1 1019.0,2013.9 1024.6,2013.7 1030.3,2013.6 1035.9,2013.4 1041.5,2013.2 1047.2,2012.9 1052.8,2012.6 1058.4,2012.4 1064.1,2012.2 1069.7,2012.0 1075.3,2011.9 1081.0,2011.7 1086.6,2011.4 1092.2,2011.2 1097.9,2011.1 1103.5,2010.9 1109.1,2010.8 1114.7,2010.7 1120.4,2010.5 1126.0,2010.3 1131.6,2010.2 1137.3,2010.1 1142.9,2010.0 1148.5,2009.9 1154.2,2009.8 1159.8,2009.7 1165.4,2009.5 1171.1,2009.4 1176.7,2009.3 1182.3,2009.2 1188.0,2009.2 1193.6,2009.0 1199.2,2008.9 1204.8,2008.8 1210.5,2008.7 1216.1,2008.6 1221.7,2008.5 1227.4,2008.4 1233.0,2008.2 1238.6,2008.1 1244.3,2007.9 1249.9,2007.7 1255.5,2007.6 1261.2,2007.4 1266.8,2007.2 1272.4,2007.1 1278.1,2006.9 1283.7,2006.6 1289.3,2006.4 1295.0,2006.1 1300.6,2005.9 1306.2,2005.6 1311.8,2005.4 1317.5,2005.1 1323.1,2004.7 1328.7,2004.2 1334.4,2003.9 1340.0,2003.6 1345.6,2003.4 1351.3,2003.1 1356.9,2002.6 1362.5,2002.2 1368.2,2001.5 1373.8,2000.9 1379.4,2000.6 1385.1,2000.3 1390.7,2000.0 1396.3,1999.3 1401.9,1998.7 1407.6,1998.0 1413.2,1997.5 1418.8,1996.8 1424.5,1996.2 1430.1,1995.6 1435.7,1994.9 1441.4,1993.9 1447.0,1993.0 1452.6,1992.4 1458.3,1991.9 1463.9,1991.3 1469.5,1990.0 1475.2,1988.5 1480.8,1987.1 1486.4,1985.1 1492.1,1983.3 1497.7,1981.6 1503.3,1980.6 1508.9,1979.2 1514.6,1976.6 1520.2,1974.0 1525.8,1971.7 1531.5,1969.3 1537.1,1965.8 1542.7,1961.9 1548.4,1958.0 1554.0,1954.4 1560.0,1951.0 1575.7,1944.2 1589.4,1941.3 1593.3,1937.3 1599.0,1936.4" stroke="#f6be98" stroke-width="4.0"/>
<polyline points="67.3,2061.5 72.9,2061.5 78.6,2061.5 84.2,2061.5 89.8,2061.5 95.5,2061.5 101.1,2061.5 106.7,2061.5 112.4,2061.5 118.0,2061.5 123.6,2061.5 129.2,2061.5 134.9,2061.5 140.5,2061.5 146.1,2061.5 151.8,2061.4 157.4,2061.4 163.0,2061.3 168.7,2061.2 174.3,2061.1 179.9,2060.9 185.6,2060.7 191.2,2060.4 196.8,2060.1 202.5,2059.7 208.1,2058.9 213.7,2058.2 219.3,2057.5 225.0,2056.8 230.6,2056.4 236.2,2055.9 241.9,2055.5 247.5,2055.1 253.1,2054.6 258.8,2054.2 264.4,2053.8 270.0,2053.5 275.7,2053.2 281.3,2052.9 286.9,2052.6 292.6,2052.2 298.2,2051.9 303.8,2051.7 309.5,2051.5 315.1,2051.3 320.7,2051.1 326.3,2051.0 332.0,2050.8 337.6,2050.6 343.2,2050.4 348.9,2050.3 354.5,2050.2 360.1,2050.1 365.8,2049.9 371.4,2049.8 377.0,2049.7 382.7,2049.6 388.3,2049.5 393.9,2049.4 399.6,2049.4 405.2,2049.3 410.8,2049.2 416.4,2049.2 422.1,2049.2 427.7,2049.1 433.3,2049.1 439.0,2049.1 444.6,2049.0 450.2,2049.0 455.9,2049.0 461.5,2049.0 467.1,2048.9 472.8,2048.9 478.4,2048.9 484.0,2048.9 489.7,2048.9 495.3,2048.9 500.9,2048.9 506.6,2048.8 512.2,2048.8 517.8,2048.8 523.4,2048.8 529.1,2048.7 534.7,2048.7 540.3,2048.7 546.0,2048.7 551.6,2048.7 557.2,2048.6 562.9,2048.6 568.5,2048.6 574.1,2048.6 579.8,2048.6 585.4,2048.4 591.0,2048.4 596.7,2048.4 602.3,2048.3 607.9,2048.2 613.5,2048.2 619.2,2048.2 624.8,2048.0 630.4,2048.0 636.1,2047.9 641.7,2047.8 647.3,2047.7 653.0,2047.7 658.6,2047.7 664.2,2047.4 669.9,2047.3 675.5,2047.2 681.1,2047.1 686.8,2046.9 692.4,2046.9 698.0,2046.9 703.7,2046.4 709.3,2046.3 714.9,2046.1 720.5,2045.9 726.2,2045.7 731.8,2045.6 737.4,2045.6 743.1,2045.0 748.7,2044.9 754.3,2044.7 760.0,2044.3 765.6,2043.8 771.2,2043.7 776.9,2043.5 782.5,2041.0 788.1,2040.1 793.8,2038.9 799.4,2037.2 805.0,2035.4 810.6,2035.2 816.3,2034.9 821.9,2029.9 827.5,2028.6 833.2,2026.9 838.8,2024.6 844.4,2022.1 850.1,2022.0 855.7,2021.8 861.3,2014.6 867.0,2012.7 872.6,2010.0 878.2,2006.9 883.9,2003.4 889.5,2003.2 895.1,2003.0 900.8,1995.7 906.4,1994.0 912.0,1991.4 917.6,1988.7 923.3,1985.6 928.9,1985.3 934.5,1984.9 940.2,1976.2 945.8,1973.3 951.4,1969.1 957.1,1964.3 962.7,1958.8 968.3,1958.4 974.0,1957.8 979.6,1945.4 985.2,1940.9 990.9,1936.6 996.5,1931.3 1002.1,1924.6 1007.7,1924.2 1013.4,1923.9 1019.0,1906.3 1024.6,1902.6 1030.3,1898.6 1035.9,1893.7 1041.5,1886.8 1047.2,1886.6 1052.8,1886.6 1058.4,1873.6 1064.1,1869.7 1069.7,1866.1 1075.3,1862.0 1081.0,1858.3 1086.6,1858.3 1092.2,1858.3 1097.9,1850.1 1103.5,1848.7 1109.1,1847.1 1114.7,1845.1 1120.4,1843.2 1126.0,1843.2 1131.6,1843.2 1137.3,1838.8 1142.9,1837.5 1148.5,1836.4 1154.2,1835.2 1159.8,1833.4 1165.4,1833.4 1171.1,1833.4 1176.7,1829.9 1182.3,1829.1 1188.0,1827.9 1193.6,1826.7 1199.2,1825.7 1204.8,1825.6 1210.5,1825.6 1216.1,1823.0 1221.7,1822.2 1227.4,1821.5 1233.0,1820.8 1238.6,1819.7 1244.3,1819.7 1249.9,1819.7 1255.5,1817.9 1261.2,1817.4 1266.8,1816.9 1272.4,1816.3 1278.1,1815.8 1283.7,1815.8 1289.3,1815.8 1295.0,1814.5 1300.6,1814.2 1306.2,1814.0 1311.8,1813.6 1317.5,1813.3 1323.1,1813.3 1328.7,1813.3 1334.4,1812.6 1340.0,1812.4 1345.6,1812.2 1351.3,1811.9 1356.9,1811.6 1362.5,1811.6 1368.2,1811.6 1373.8,1811.0 1379.4,1810.8 1385.1,1810.6 1390.7,1810.3 1396.3,1809.9 1401.9,1809.9 1407.6,1809.8 1413.2,1809.0 1418.8,1808.8 1424.5,1808.5 1430.1,1808.1 1435.7,1807.5 1441.4,1807.4 1447.0,1807.3 1452.6,1806.0 1458.3,1805.3 1463.9,1804.4 1469.5,1803.5 1475.2,1802.2 1480.8,1802.1 1486.4,1802.0 1492.1,1799.4 1497.7,1798.6 1503.3,1797.5 1508.9,1796.1 1514.6,1794.9 1520.2,1794.8 1525.8,1794.7 1531.5,1791.4 1537.1,1790.7 1542.7,1789.6 1548.4,1788.5 1554.0,1787.3 1560.0,1786.7 1579.6,1781.8 1595.2,1776.9 1599.0,1775.9" stroke="#d2d2d2" stroke-width="4.0"/>
<polyline points="67.3,2061.5 72.9,2061.5 78.6,2061.5 84.2,2061.5 89.8,2061.5 95.5,2061.5 101.1,2061.5 106.7,2061.5 112.4,2061.5 118.0,2061.5 123.6,2061.5 129.2,2061.5 134.9,2061.5 140.5,2061.5 146.1,2061.5 151.8,2061.5 157.4,2061.4 163.0,2061.4 168.7,2061.3 174.3,2061.3 179.9,2061.3 185.6,2061.2 191.2,2061.0 196.8,2060.8 202.5,2060.6 208.1,2060.5 213.7,2060.3 219.3,2060.0 225.0,2059.6 230.6,2059.2 236.2,2058.8 241.9,2058.4 247.5,2058.2 253.1,2057.8 258.8,2057.2 264.4,2056.5 270.0,2055.8 275.7,2054.7 281.3,2053.8 286.9,2052.8 292.6,2052.3 298.2,2051.8 303.8,2050.8 309.5,2049.6 315.1,2048.5 320.7,2047.1 326.3,2046.4 332.0,2045.7 337.6,2044.8 343.2,2043.2 348.9,2041.3 354.5,2039.7 360.1,2038.3 365.8,2036.6 371.4,2035.4 377.0,2034.6 382.7,2033.5 388.3,2031.3 393.9,2028.9 399.6,2027.2 405.2,2025.9 410.8,2024.9 416.4,2024.1 422.1,2021.7 427.7,2019.7 433.3,2016.5 439.0,2014.7 444.6,2012.4 450.2,2011.5 455.9,2009.6 461.5,2007.3 467.1,2004.2 472.8,2001.1 478.4,1998.0 484.0,1995.8 489.7,1994.7 495.3,1993.2 500.9,1991.3 506.6,1988.7 512.2,1984.8 517.8,1982.3 523.4,1980.0 529.1,1979.0 534.7,1978.0 540.3,1976.1 546.0,1972.9 551.6,1969.9 557.2,1967.1 562.9,1965.3 568.5,1963.7 574.1,1961.9 579.8,1960.0 585.4,1958.4 591.0,1956.0 596.7,1954.6 602.3,1953.1 607.9,1952.3 613.5,1951.4 619.2,1950.1 624.8,1948.0 630.4,1946.4 636.1,1944.8 641.7,1943.6 647.3,1942.7 653.0,1941.9 658.6,1941.1 664.2,1939.3 669.9,1937.5 675.5,1936.1 681.1,1935.2 686.8,1934.2 692.4,1933.5 698.0,1932.3 703.7,1930.4 709.3,1928.5 714.9,1926.8 720.5,1925.9 726.2,1924.9 731.8,1923.7 737.4,1922.4 743.1,1920.9 748.7,1919.1 754.3,1917.7 760.0,1916.3 765.6,1914.9 771.2,1913.2 776.9,1911.4 782.5,1909.4 788.1,1906.9 793.8,1905.0 799.4,1902.8 805.0,1901.2 810.6,1900.3 816.3,1898.8 821.9,1896.5 827.5,1894.0 833.2,1892.0 838.8,1890.4 844.4,1889.4 850.1,1887.4 855.7,1885.1 861.3,1882.9 867.0,1879.9 872.6,1878.0 878.2,1876.0 883.9,1874.5 889.5,1872.8 895.1,1871.0 900.8,1867.9 906.4,1865.3 912.0,1862.4 917.6,1860.6 923.3,1859.1 928.9,1857.9 934.5,1855.4 940.2,1853.1 945.8,1850.0 951.4,1847.3 957.1,1845.1 962.7,1843.9 968.3,1842.4 974.0,1840.8 979.6,1838.6 985.2,1835.0 990.9,1831.5 996.5,1829.1 1002.1,1827.1 1007.7,1824.7 1013.4,1822.4 1019.0,1819.5 1024.6,1817.0 1030.3,1814.8 1035.9,1813.0 1041.5,1811.8 1047.2,1809.7 1052.8,1807.8 1058.4,1804.1 1064.1,1800.4 1069.7,1797.1 1075.3,1795.7 1081.0,1794.6 1086.6,1793.7 1092.2,1791.0 1097.9,1788.3 1103.5,1784.8 1109.1,1782.1 1114.7,1780.1 1120.4,1778.5 1126.0,1776.4 1131.6,1774.9 1137.3,1773.0 1142.9,1770.7 1148.5,1768.4 1154.2,1766.6 1159.8,1765.7 1165.4,1763.7 1171.1,1762.3 1176.7,1759.6 1182.3,1756.9 1188.0,1755.2 1193.6,1753.6 1199.2,1751.6 1204.8,1749.8 1210.5,1748.3 1216.1,1745.8 1221.7,1743.4 1227.4,1740.7 1233.0,1738.9 1238.6,1738.1 1244.3,1736.7 1249.9,1734.5 1255.5,1732.1 1261.2,1729.1 1266.8,1726.0 1272.4,1724.0 1278.1,1722.5 1283.7,1721.1 1289.3,1719.5 1295.0,1716.9 1300.6,1714.2 1306.2,1711.0 1311.8,1709.1 1317.5,1706.8 1323.1,1704.7 1328.7,1702.3 1334.4,1699.4 1340.0,1696.5 1345.6,1693.5 1351.3,1690.7 1356.9,1689.7 1362.5,1687.3 1368.2,1685.4 1373.8,1682.9 1379.4,1680.1 1385.1,1677.3 1390.7,1674.6 1396.3,1672.2 1401.9,1669.8 1407.6,1667.2 1413.2,1663.3 1418.8,1659.9 1424.5,1656.8 1430.1,1654.2 1435.7,1652.5 1441.4,1651.3 1447.0,1648.6 1452.6,1645.7 1458.3,1641.4 1463.9,1638.1 1469.5,1636.1 1475.2,1634.3 1480.8,1631.8 1486.4,1628.4 1492.1,1624.4 1497.7,1621.0 1503.3,1618.3 1508.9,1614.3 1514.6,1613.0 1520.2,1608.9 1525.8,1605.2 1531.5,1598.9 1537.1,1594.1 1542.7,1589.2 1548.4,1586.3 1554.0,1582.6 1559.6,1580.2 1565.3,1573.7 1570.9,1564.4 1576.5,1554.5 1582.2,1547.6 1587.8,1542.1 1593.4,1535.9 1599.0,1529.4" stroke="#ffe080" stroke-width="4.0"/>
<polyline points="67.3,2061.5 72.9,2061.5 78.6,2061.5 84.2,2061.5 89.8,2061.5 95.5,2061.5 101.1,2061.5 106.7,2061.5 112.4,2061.5 118.0,2061.5 123.6,2061.5 129.2,2061.5 134.9,2061.5 140.5,2061.5 146.1,2061.4 151.8,2061.3 157.4,2061.2 163.0,2060.9 168.7,2060.7 174.3,2060.4 179.9,2060.2 185.6,2059.8 191.2,2059.4 196.8,2058.4 202.5,2057.0 208.1,2055.3 213.7,2054.0 219.3,2052.7 225.0,2051.4 230.6,2050.1 236.2,2049.0 241.9,2047.7 247.5,2046.2 253.1,2045.2 258.8,2044.5 264.4,2043.6 270.0,2042.7 275.7,2041.6 281.3,2040.5 286.9,2039.5 292.6,2038.4 298.2,2037.8 303.8,2037.0 309.5,2036.4 315.1,2035.5 320.7,2034.4 326.3,2033.5 332.0,2032.8 337.6,2032.3 343.2,2031.7 348.9,2031.3 354.5,2030.8 360.1,2030.0 365.8,2029.2 371.4,2028.6 377.0,2028.1 382.7,2027.6 388.3,2027.0 393.9,2026.3 399.6,2025.7 405.2,2025.0 410.8,2024.3 416.4,2023.8 422.1,2023.4 427.7,2023.0 433.3,2022.2 439.0,2021.6 444.6,2020.8 450.2,2020.2 455.9,2019.7 461.5,2019.2 467.1,2018.7 472.8,2018.0 478.4,2017.3 484.0,2016.6 489.7,2015.9 495.3,2015.5 500.9,2015.0 506.6,2014.6 512.2,2014.0 517.8,2013.2 523.4,2012.5 529.1,2011.8 534.7,2011.2 540.3,2010.8 546.0,2010.3 551.6,2009.5 557.2,2008.7 562.9,2007.9 568.5,2007.1 574.1,2006.4 579.8,2005.9 585.4,2005.2 591.0,2004.5 596.7,2003.7 602.3,2002.7 607.9,2002.0 613.5,2001.3 619.2,2000.7 624.8,2000.0 630.4,1999.1 636.1,1998.1 641.7,1997.0 647.3,1996.2 653.0,1995.7 658.6,1995.1 664.2,1994.5 669.9,1993.6 675.5,1992.6 681.1,1991.5 686.8,1990.5 692.4,1989.8 698.0,1989.3 703.7,1988.4 709.3,1987.4 714.9,1986.1 720.5,1984.9 726.2,1983.7 731.8,1982.6 737.4,1981.9 743.1,1980.7 748.7,1979.5 754.3,1977.7 760.0,1976.2 765.6,1974.4 771.2,1972.9 776.9,1972.1 782.5,1970.4 788.1,1968.8 793.8,1966.4 799.4,1964.0 805.0,1961.8 810.6,1960.0 816.3,1958.4 821.9,1956.4 827.5,1953.5 833.2,1951.0 838.8,1947.7 844.4,1945.1 850.1,1943.5 855.7,1941.8 861.3,1939.8 867.0,1937.1 872.6,1934.4 878.2,1931.6 883.9,1929.0 889.5,1927.4 895.1,1926.0 900.8,1924.3 906.4,1922.2 912.0,1919.2 917.6,1916.8 923.3,1915.1 928.9,1913.5 934.5,1912.5 940.2,1911.0 945.8,1909.5 951.4,1907.1 957.1,1904.9 962.7,1902.9 968.3,1901.7 974.0,1900.9 979.6,1899.9 985.2,1898.3 990.9,1896.7 996.5,1894.5 1002.1,1893.1 1007.7,1891.5 1013.4,1890.0 1019.0,1888.9 1024.6,1887.4 1030.3,1885.8 1035.9,1884.5 1041.5,1882.9 1047.2,1882.0 1052.8,1881.1 1058.4,1879.9 1064.1,1878.4 1069.7,1876.9 1075.3,1875.3 1081.0,1873.9 1086.6,1872.6 1092.2,1871.5 1097.9,1870.3 1103.5,1868.8 1109.1,1867.4 1114.7,1865.8 1120.4,1864.7 1126.0,1864.0 1131.6,1863.2 1137.3,1862.4 1142.9,1861.2 1148.5,1860.1 1154.2,1858.8 1159.8,1857.8 1165.4,1856.7 1171.1,1856.1 1176.7,1855.1 1182.3,1854.0 1188.0,1852.7 1193.6,1851.7 1199.2,1850.4 1204.8,1849.4 1210.5,1848.5 1216.1,1847.4 1221.7,1846.5 1227.4,1845.3 1233.0,1844.0 1238.6,1843.0 1244.3,1842.1 1249.9,1841.2 1255.5,1840.2 1261.2,1838.8 1266.8,1837.0 1272.4,1835.3 1278.1,1834.1 1283.7,1833.1 1289.3,1832.1 1295.0,1831.1 1300.6,1829.6 1306.2,1828.1 1311.8,1826.7 1317.5,1825.0 1323.1,1824.2 1328.7,1823.3 1334.4,1822.2 1340.0,1820.8 1345.6,1818.8 1351.3,1816.8 1356.9,1815.4 1362.5,1814.5 1368.2,1813.4 1373.8,1811.9 1379.4,1810.1 1385.1,1807.8 1390.7,1805.5 1396.3,1803.7 1401.9,1802.5 1407.6,1800.9 1413.2,1799.5 1418.8,1797.3 1424.5,1794.8 1430.1,1791.9 1435.7,1789.1 1441.4,1787.5 1447.0,1785.3 1452.6,1782.8 1458.3,1780.4 1463.9,1777.0 1469.5,1773.9 1475.2,1770.6 1480.8,1767.1 1486.4,1763.7 1492.1,1760.0 1497.7,1754.4 1503.3,1748.2 1508.9,1741.3 1514.6,1735.0 1520.2,1731.6 1525.8,1731.4 1531.5,1722.9 1537.1,1715.9 1542.7,1706.3 1548.4,1696.1 1554.0,1685.8 1559.6,1676.1 1563.9,1669.4 1571.7,1659.6 1589.4,1649.9 1599.0,1639.1" stroke="#adcdea" stroke-width="4.0"/>
<polyline points="67.3,2061.5 72.9,2061.5 78.6,2061.5 84.2,2061.5 89.8,2061.5 95.5,2061.5 101.1,2061.5 106.7,2061.5 112.4,2061.5 118.0,2061.5 123.6,2061.5 129.2,2061.5 134.9,2061.5 140.5,2061.5 146.1,2061.5 151.8,2061.5 157.4,2061.5 163.0,2061.5 168.7,2061.4 174.3,2061.4 179.9,2061.4 185.6,2061.4 191.2,2061.3 196.8,2061.2 202.5,2061.1 208.1,2060.9 213.7,2060.8 219.3,2060.7 225.0,2060.5 230.6,2060.4 236.2,2060.3 241.9,2060.1 247.5,2059.8 253.1,2059.5 258.8,2059.2 264.4,2059.0 270.0,2058.8 275.7,2058.5 281.3,2058.0 286.9,2057.5 292.6,2057.0 298.2,2056.7 303.8,2056.3 309.5,2056.0 315.1,2055.8 320.7,2055.4 326.3,2054.9 332.0,2054.4 337.6,2054.1 343.2,2053.9 348.9,2053.5 354.5,2053.1 360.1,2052.6 365.8,2052.1 371.4,2051.6 377.0,2051.1 382.7,2050.8 388.3,2050.6 393.9,2050.3 399.6,2049.8 405.2,2049.3 410.8,2048.9 416.4,2048.7 422.1,2048.5 427.7,2048.2 433.3,2047.8 439.0,2047.5 444.6,2047.1 450.2,2046.7 455.9,2046.5 461.5,2046.3 467.1,2046.1 472.8,2045.8 478.4,2045.5 484.0,2045.1 489.7,2044.8 495.3,2044.5 500.9,2044.3 506.6,2044.1 512.2,2043.9 517.8,2043.5 523.4,2043.2 529.1,2042.9 534.7,2042.6 540.3,2042.4 546.0,2042.2 551.6,2041.9 557.2,2041.6 562.9,2041.2 568.5,2040.8 574.1,2040.6 579.8,2040.4 585.4,2040.2 591.0,2039.9 596.7,2039.5 602.3,2039.1 607.9,2038.8 613.5,2038.6 619.2,2038.4 624.8,2038.2 630.4,2038.0 636.1,2037.6 641.7,2037.3 647.3,2037.1 653.0,2036.8 658.6,2036.7 664.2,2036.5 669.9,2036.3 675.5,2035.9 681.1,2035.5 686.8,2035.1 692.4,2034.7 698.0,2034.6 703.7,2034.3 709.3,2034.0 714.9,2033.5 720.5,2033.0 726.2,2032.6 731.8,2032.1 737.4,2031.8 743.1,2031.4 748.7,2031.1 754.3,2030.5 760.0,2029.6 765.6,2028.8 771.2,2028.2 776.9,2027.5 782.5,2026.7 788.1,2025.9 793.8,2024.6 799.4,2023.2 805.0,2021.4 810.6,2019.9 816.3,2019.2 821.9,2018.4 827.5,2017.3 833.2,2015.7 838.8,2013.5 844.4,2011.9 850.1,2010.3 855.7,2009.4 861.3,2008.0 867.0,2006.7 872.6,2004.7 878.2,2002.8 883.9,2001.2 889.5,1999.4 895.1,1997.9 900.8,1997.1 906.4,1996.1 912.0,1994.1 917.6,1992.4 923.3,1990.3 928.9,1988.9 934.5,1987.9 940.2,1987.1 945.8,1985.7 951.4,1984.5 957.1,1983.1 962.7,1981.7 968.3,1980.6 974.0,1979.7 979.6,1979.0 985.2,1977.5 990.9,1975.9 996.5,1974.6 1002.1,1972.8 1007.7,1971.3 1013.4,1970.5 1019.0,1970.0 1024.6,1968.8 1030.3,1967.5 1035.9,1966.1 1041.5,1964.3 1047.2,1963.0 1052.8,1961.8 1058.4,1960.8 1064.1,1959.6 1069.7,1957.8 1075.3,1955.9 1081.0,1954.0 1086.6,1952.5 1092.2,1951.8 1097.9,1951.2 1103.5,1949.7 1109.1,1948.0 1114.7,1945.6 1120.4,1943.3 1126.0,1941.4 1131.6,1940.3 1137.3,1938.9 1142.9,1937.1 1148.5,1935.0 1154.2,1932.7 1159.8,1930.8 1165.4,1929.5 1171.1,1928.0 1176.7,1926.7 1182.3,1924.6 1188.0,1922.1 1193.6,1919.1 1199.2,1916.8 1204.8,1914.7 1210.5,1913.7 1216.1,1912.3 1221.7,1910.4 1227.4,1907.9 1233.0,1904.4 1238.6,1901.8 1244.3,1899.3 1249.9,1897.4 1255.5,1896.1 1261.2,1893.8 1266.8,1891.5 1272.4,1887.8 1278.1,1884.8 1283.7,1882.2 1289.3,1881.1 1295.0,1879.3 1300.6,1877.5 1306.2,1874.6 1311.8,1870.8 1317.5,1867.1 1323.1,1863.9 1328.7,1862.1 1334.4,1860.8 1340.0,1857.6 1345.6,1854.9 1351.3,1852.1 1356.9,1848.4 1362.5,1845.6 1368.2,1843.8 1373.8,1841.3 1379.4,1837.8 1385.1,1833.4 1390.7,1828.4 1396.3,1823.9 1401.9,1821.2 1407.6,1819.5 1413.2,1816.2 1418.8,1813.4 1424.5,1808.8 1430.1,1803.0 1435.7,1797.6 1441.4,1792.9 1447.0,1791.0 1452.6,1788.2 1458.3,1783.0 1463.9,1777.1 1469.5,1771.1 1475.2,1763.5 1480.8,1759.2 1486.4,1754.5 1492.1,1751.7 1497.7,1746.5 1503.3,1738.6 1508.9,1727.6 1514.6,1718.9 1520.2,1710.2 1525.8,1703.6 1531.5,1695.6 1537.1,1686.6 1542.7,1678.6 1548.4,1668.2 1554.0,1658.8 1559.6,1647.4 1565.3,1640.3 1570.9,1634.4 1576.5,1623.8 1582.2,1608.1 1587.8,1594.6 1593.4,1579.4 1599.0,1565.6" stroke="#b7d8a1" stroke-width="4.0"/>
<polyline points="67.3,2061.5 72.9,2061.5 78.6,2061.5 84.2,2061.5 89.8,2061.5 95.5,2061.5 101.1,2061.5 106.7,2061.5 112.4,2061.5 118.0,2061.5 123.6,2061.5 129.2,2061.5 134.9,2061.5 140.5,2061.5 146.1,2061.5 151.8,2061.5 157.4,2061.4 163.0,2061.4 168.7,2061.4 174.3,2061.4 179.9,2061.3 185.6,2061.2 191.2,2061.1 196.8,2060.9 202.5,2060.7 208.1,2060.5 213.7,2060.3 219.3,2060.0 225.0,2059.7 230.6,2059.4 236.2,2058.9 241.9,2058.6 247.5,2058.3 253.1,2058.0 258.8,2057.6 264.4,2057.0 270.0,2056.4 275.7,2055.5 281.3,2054.8 286.9,2054.1 292.6,2053.5 298.2,2052.8 303.8,2052.0 309.5,2051.2 315.1,2050.4 320.7,2049.5 326.3,2048.9 332.0,2048.3 337.6,2047.9 343.2,2047.2 348.9,2046.4 354.5,2045.7 360.1,2045.0 365.8,2044.5 371.4,2044.0 377.0,2043.3 382.7,2042.4 388.3,2041.5 393.9,2040.3 399.6,2039.6 405.2,2038.6 410.8,2038.0 416.4,2037.5 422.1,2036.5 427.7,2035.4 433.3,2034.3 439.0,2033.1 444.6,2031.9 450.2,2031.1 455.9,2029.8 461.5,2028.7 467.1,2026.9 472.8,2025.5 478.4,2024.2 484.0,2023.0 489.7,2021.9 495.3,2020.8 500.9,2019.1 506.6,2017.4 512.2,2015.5 517.8,2014.3 523.4,2013.3 529.1,2012.6 534.7,2011.6 540.3,2010.1 546.0,2008.2 551.6,2006.7 557.2,2005.1 562.9,2004.1 568.5,2002.9 574.1,2002.1 579.8,2000.8 585.4,1999.0 591.0,1997.8 596.7,1996.5 602.3,1995.7 607.9,1995.1 613.5,1994.5 619.2,1993.3 624.8,1992.0 630.4,1991.0 636.1,1990.0 641.7,1989.0 647.3,1988.2 653.0,1987.3 658.6,1986.3 664.2,1985.2 669.9,1984.1 675.5,1982.8 681.1,1981.9 686.8,1981.3 692.4,1980.6 698.0,1979.5 703.7,1978.1 709.3,1976.7 714.9,1975.3 720.5,1974.2 726.2,1973.2 731.8,1972.0 737.4,1970.9 743.1,1969.1 748.7,1967.5 754.3,1965.8 760.0,1964.5 765.6,1962.8 771.2,1961.5 776.9,1959.1 782.5,1956.5 788.1,1953.6 793.8,1950.7 799.4,1948.8 805.0,1946.4 810.6,1944.3 816.3,1941.1 821.9,1937.2 827.5,1934.2 833.2,1930.7 838.8,1928.7 844.4,1927.0 850.1,1924.4 855.7,1921.1 861.3,1916.8 867.0,1912.2 872.6,1908.8 878.2,1905.4 883.9,1903.4 889.5,1901.2 895.1,1898.3 900.8,1893.9 906.4,1891.0 912.0,1888.1 917.6,1885.5 923.3,1883.0 928.9,1881.3 934.5,1878.8 940.2,1875.8 945.8,1873.0 951.4,1870.1 957.1,1868.2 962.7,1867.0 968.3,1865.5 974.0,1863.4 979.6,1860.3 985.2,1858.0 990.9,1855.7 996.5,1853.5 1002.1,1852.2 1007.7,1850.5 1013.4,1848.3 1019.0,1845.7 1024.6,1842.6 1030.3,1840.1 1035.9,1838.5 1041.5,1837.2 1047.2,1834.8 1052.8,1832.8 1058.4,1829.3 1064.1,1826.1 1069.7,1823.4 1075.3,1821.5 1081.0,1819.0 1086.6,1817.0 1092.2,1814.2 1097.9,1810.3 1103.5,1805.3 1109.1,1802.1 1114.7,1798.6 1120.4,1796.3 1126.0,1793.3 1131.6,1789.6 1137.3,1784.1 1142.9,1778.6 1148.5,1773.6 1154.2,1769.8 1159.8,1766.4 1165.4,1761.0 1171.1,1756.4 1176.7,1750.9 1182.3,1744.9 1188.0,1739.5 1193.6,1734.3 1199.2,1729.1 1204.8,1724.4 1210.5,1717.9 1216.1,1711.5 1221.7,1703.7 1227.4,1697.9 1233.0,1692.0 1238.6,1686.7 1244.3,1679.8 1249.9,1672.4 1255.5,1664.1 1261.2,1655.9 1266.8,1648.6 1272.4,1643.5 1278.1,1638.8 1283.7,1632.2 1289.3,1623.6 1295.0,1612.8 1300.6,1601.0 1306.2,1591.5 1311.8,1585.6 1317.5,1580.3 1323.1,1575.2 1328.7,1563.6 1334.4,1552.0 1340.0,1539.4 1345.6,1528.1 1351.3,1517.7 1356.9,1509.4 1362.5,1500.0 1368.2,1490.2 1373.8,1474.7 1379.4,1460.3 1385.1,1447.8 1390.7,1437.5 1396.3,1430.1 1401.9,1416.4 1407.6,1405.1 1413.2,1388.7 1418.8,1373.4 1424.5,1357.3 1430.1,1344.8 1435.7,1331.0 1441.4,1316.8 1447.0,1301.7 1452.6,1283.1 1458.3,1254.3 1463.9,1230.2 1469.5,1214.1 1475.2,1192.5 1480.8,1167.3 1486.4,1133.6 1492.1,1094.4 1497.7,1068.5 1503.3,1043.1 1508.9,1019.1 1514.6,997.9 1515.3,1000.0 1531.2,947.7 1537.3,920.8 1559.3,881.7 1576.5,847.4 1588.7,810.2 1594.8,804.6 1599.0,789.9" stroke="#4472c4" stroke-width="4.0"/>
<polyline points="67.3,2061.5 72.9,2061.5 78.6,2061.5 84.2,2061.5 89.8,2061.5 95.5,2061.5 101.1,2061.5 106.7,2061.5 112.4,2061.5 118.0,2061.5 123.6,2061.5 129.2,2061.5 134.9,2061.5 140.5,2061.5 146.1,2061.5 151.8,2061.5 157.4,2061.4 163.0,2061.4 168.7,2061.4 174.3,2061.4 179.9,2061.3 185.6,2061.3 191.2,2061.1 196.8,2060.9 202.5,2060.8 208.1,2060.7 213.7,2060.5 219.3,2060.3 225.0,2060.1 230.6,2059.8 236.2,2059.5 241.9,2059.3 247.5,2059.1 253.1,2058.8 258.8,2058.3 264.4,2057.7 270.0,2057.0 275.7,2056.5 281.3,2056.0 286.9,2055.5 292.6,2055.2 298.2,2054.4 303.8,2053.7 309.5,2053.0 315.1,2052.4 320.7,2052.0 326.3,2051.6 332.0,2051.2 337.6,2050.5 343.2,2049.7 348.9,2048.9 354.5,2048.3 360.1,2047.7 365.8,2047.3 371.4,2046.8 377.0,2046.2 382.7,2045.5 388.3,2044.6 393.9,2044.0 399.6,2043.6 405.2,2043.1 410.8,2042.7 416.4,2042.4 422.1,2041.8 427.7,2041.2 433.3,2040.7 439.0,2040.3 444.6,2040.0 450.2,2039.8 455.9,2039.3 461.5,2039.0 467.1,2038.5 472.8,2038.0 478.4,2037.8 484.0,2037.5 489.7,2037.1 495.3,2036.8 500.9,2036.3 506.6,2035.8 512.2,2035.4 517.8,2035.1 523.4,2035.0 529.1,2034.8 534.7,2034.4 540.3,2033.9 546.0,2033.4 551.6,2032.9 557.2,2032.6 562.9,2032.2 568.5,2031.8 574.1,2031.3 579.8,2030.8 585.4,2030.2 591.0,2029.8 596.7,2029.3 602.3,2028.9 607.9,2028.6 613.5,2028.0 619.2,2027.5 624.8,2026.9 630.4,2026.2 636.1,2025.7 641.7,2025.1 647.3,2024.5 653.0,2024.0 658.6,2023.3 664.2,2022.6 669.9,2022.1 675.5,2021.5 681.1,2021.1 686.8,2020.4 692.4,2019.7 698.0,2018.7 703.7,2017.8 709.3,2017.1 714.9,2016.3 720.5,2015.9 726.2,2015.4 731.8,2014.4 737.4,2013.3 743.1,2012.3 748.7,2011.6 754.3,2010.8 760.0,2010.1 765.6,2009.4 771.2,2008.4 776.9,2007.3 782.5,2005.7 788.1,2004.3 793.8,2003.3 799.4,2002.1 805.0,2001.0 810.6,1999.8 816.3,1997.9 821.9,1995.8 827.5,1993.9 833.2,1993.0 838.8,1992.2 844.4,1990.8 850.1,1988.8 855.7,1987.3 861.3,1985.0 867.0,1983.5 872.6,1982.0 878.2,1981.3 883.9,1980.2 889.5,1978.4 895.1,1976.7 900.8,1974.8 906.4,1973.5 912.0,1971.9 917.6,1970.9 923.3,1969.5 928.9,1968.2 934.5,1966.6 940.2,1965.3 945.8,1964.1 951.4,1963.4 957.1,1962.4 962.7,1961.4 968.3,1960.4 974.0,1958.8 979.6,1957.6 985.2,1956.2 990.9,1955.5 996.5,1954.7 1002.1,1954.0 1007.7,1952.7 1013.4,1951.6 1019.0,1950.2 1024.6,1949.0 1030.3,1948.1 1035.9,1947.2 1041.5,1946.2 1047.2,1945.2 1052.8,1943.8 1058.4,1942.3 1064.1,1940.7 1069.7,1939.6 1075.3,1938.9 1081.0,1937.6 1086.6,1936.1 1092.2,1934.0 1097.9,1932.2 1103.5,1930.8 1109.1,1929.7 1114.7,1928.5 1120.4,1926.9 1126.0,1925.1 1131.6,1922.4 1137.3,1920.0 1142.9,1918.0 1148.5,1916.6 1154.2,1915.1 1159.8,1913.8 1165.4,1912.0 1171.1,1909.4 1176.7,1906.9 1182.3,1904.4 1188.0,1902.1 1193.6,1899.9 1199.2,1898.0 1204.8,1894.6 1210.5,1891.9 1216.1,1889.0 1221.7,1886.4 1227.4,1884.2 1233.0,1882.3 1238.6,1879.0 1244.3,1875.9 1249.9,1871.4 1255.5,1866.5 1261.2,1863.4 1266.8,1860.9 1272.4,1858.6 1278.1,1856.2 1283.7,1852.4 1289.3,1845.9 1295.0,1839.6 1300.6,1832.9 1306.2,1827.5 1311.8,1823.8 1317.5,1817.4 1323.1,1811.3 1328.7,1802.4 1334.4,1794.4 1340.0,1786.1 1345.6,1780.5 1351.3,1776.7 1356.9,1771.6 1362.5,1764.0 1368.2,1752.2 1373.8,1739.1 1379.4,1729.6 1385.1,1718.6 1390.7,1712.4 1396.3,1705.4 1401.9,1695.8 1407.6,1680.5 1413.2,1669.3 1418.8,1655.8 1424.5,1645.4 1430.1,1633.3 1435.7,1624.9 1441.4,1622.6 1447.0,1618.9 1452.6,1575.7 1458.3,1554.5 1463.9,1542.3 1469.5,1531.0 1475.2,1518.7 1480.8,1516.8 1486.4,1514.2 1492.1,1431.8 1497.7,1403.1 1503.3,1375.9 1508.9,1354.7 1514.6,1341.0 1520.2,1339.6 1525.8,1338.0 1531.5,1268.1 1537.1,1239.4 1542.7,1220.4 1548.4,1196.8 1554.0,1177.6 1559.6,1175.5 1565.3,1175.0 1570.9,1091.5 1576.5,1060.0 1582.2,1036.2 1587.8,1033.7 1593.4,989.9 1599.0,988.0" stroke="#ed7d31" stroke-width="4.0"/></g>
<rect x="1606" y="936" width="192.5" height="1128" fill="#fff" fill-opacity="0.5"/>
<g font-weight="700" fill="#000" stroke="#000" stroke-width="0.45" stroke-linejoin="round"><text x="1610" y="80.6" font-size="29.6" textLength="192.5" lengthAdjust="spacingAndGlyphs">North Dakota</text><text x="1609.7" y="332.8" font-size="29.6" textLength="191.3" lengthAdjust="spacingAndGlyphs">South Dakota</text><text x="1610" y="656.7" font-size="29.6" textLength="66" lengthAdjust="spacingAndGlyphs">Iowa</text><text x="1610" y="800.6" font-size="29.6" textLength="139" lengthAdjust="spacingAndGlyphs">Wisconsin</text><text x="1610" y="836.8" font-size="29.6" textLength="134" lengthAdjust="spacingAndGlyphs">Nebraska</text><text x="1610" y="902.3" font-size="24.2" textLength="52.3" lengthAdjust="spacingAndGlyphs">Utah</text><text x="1610" y="958.2" font-size="23.4" textLength="184.3" lengthAdjust="spacingAndGlyphs">Montana, Illinois</text><text x="1610" y="987.1" font-size="23.4" textLength="183.6" lengthAdjust="spacingAndGlyphs">Idaho, Wyoming</text><text x="1610" y="1015.9" font-size="23.4" textLength="210.4" lengthAdjust="spacingAndGlyphs">Minnesota, Kansas</text><text x="1610" y="1044.8" font-size="23.4" textLength="231.3" lengthAdjust="spacingAndGlyphs">Tennessee, Arkansas</text><text x="1610" y="1073.6" font-size="23.4" textLength="280.8" lengthAdjust="spacingAndGlyphs">Rhode Island, Mississippi</text><text x="1610" y="1102.5" font-size="23.4" textLength="206.5" lengthAdjust="spacingAndGlyphs">Missouri, Alabama</text><text x="1610" y="1131.3" font-size="23.4" textLength="231.9" lengthAdjust="spacingAndGlyphs">Louisiana, Oklahoma</text><text x="1610" y="1160.2" font-size="23.4" textLength="182" lengthAdjust="spacingAndGlyphs">Indiana, Nevada</text><text x="1610" y="1189.0" font-size="23.4" textLength="234.8" lengthAdjust="spacingAndGlyphs">Florida, New Mexico</text><text x="1610" y="1217.9" font-size="23.4" textLength="190.4" lengthAdjust="spacingAndGlyphs">Arizona, Georgia</text><text x="1610" y="1246.7" font-size="23.4" textLength="239.7" lengthAdjust="spacingAndGlyphs">Texas, South Carolina</text><text x="1610" y="1275.6" font-size="23.4" textLength="152.3" lengthAdjust="spacingAndGlyphs">Alaska, Guam</text><text x="1610" y="1304.4" font-size="23.4" textLength="223" lengthAdjust="spacingAndGlyphs">Colorado, Kentucky</text><text x="1610" y="1333.2" font-size="23.4" textLength="246.2" lengthAdjust="spacingAndGlyphs">New Jersey, Michigan</text><text x="1610" y="1362.1" font-size="23.4" textLength="173.8" lengthAdjust="spacingAndGlyphs">Delaware, Ohio</text><text x="1610" y="1391.0" font-size="23.4" textLength="109.6" lengthAdjust="spacingAndGlyphs">New York</text><text x="1610" y="1419.8" font-size="23.4" textLength="165.4" lengthAdjust="spacingAndGlyphs">North Carolina</text><text x="1610" y="1448.7" font-size="23.4" textLength="283.8" lengthAdjust="spacingAndGlyphs">Maryland, Massachusetts</text><text x="1610" y="1477.5" font-size="23.4" textLength="255.4" lengthAdjust="spacingAndGlyphs">Connecticut, California</text><text x="1610" y="1506.3" font-size="23.4" textLength="225" lengthAdjust="spacingAndGlyphs">District of Columbia</text><text x="1610" y="1535.2" font-size="23.4" textLength="130.1" lengthAdjust="spacingAndGlyphs">Puerto Rico</text><text x="1610" y="1564.1" font-size="23.4" textLength="245.6" lengthAdjust="spacingAndGlyphs">Pennsylvania, Virginia</text><text x="1610" y="1592.9" font-size="23.4" textLength="150.7" lengthAdjust="spacingAndGlyphs">West Virginia</text><text x="1610" y="1650.6" font-size="23.4" textLength="132.1" lengthAdjust="spacingAndGlyphs">Washington</text><text x="1610" y="1737.2" font-size="23.4" textLength="84.7" lengthAdjust="spacingAndGlyphs">Oregon</text><text x="1610" y="1766.0" font-size="23.4" textLength="180" lengthAdjust="spacingAndGlyphs">New Hampshire</text><text x="1610" y="1794.9" font-size="23.4" textLength="203.5" lengthAdjust="spacingAndGlyphs">U.S. Virgin Islands</text><text x="1610" y="1823.7" font-size="23.4" textLength="74.4" lengthAdjust="spacingAndGlyphs">Hawaii</text><text x="1610" y="1910.2" font-size="23.4" textLength="67.5" lengthAdjust="spacingAndGlyphs">Maine</text><text x="1610" y="1939.1" font-size="23.4" textLength="97.3" lengthAdjust="spacingAndGlyphs">Vermont</text><text x="1610" y="2025.7" font-size="23.4" textLength="207" lengthAdjust="spacingAndGlyphs">N. Mariana Islands</text><text x="1610" y="2054.5" font-size="23.4" textLength="187.3" lengthAdjust="spacingAndGlyphs">American Samoa</text><text x="78.5" y="100" font-size="29.5" textLength="335.5" lengthAdjust="spacingAndGlyphs">10% of total population</text><text x="78.4" y="1074.4" font-size="29.5" textLength="318.7" lengthAdjust="spacingAndGlyphs">5% of total population</text><text x="547.3" y="1665.7" font-size="49" stroke-width="1.1" textLength="68" lengthAdjust="spacingAndGlyphs">NY</text><text x="573.6" y="1757.5" font-size="49" stroke-width="1.1" textLength="59" lengthAdjust="spacingAndGlyphs">NJ</text><text x="1086.8" y="1385" font-size="49" stroke-width="1.1" textLength="58.4" lengthAdjust="spacingAndGlyphs">LA</text></g>
<g font-size="47.5" font-weight="700" fill="#000" stroke="#000" stroke-width="0.7" stroke-linejoin="round"><text x="536" y="202" textLength="826.6" lengthAdjust="spacingAndGlyphs">COVID-19 Cases per 1,000 residents</text><text x="521" y="258" textLength="855.0" lengthAdjust="spacingAndGlyphs">Cumulative; All U.S. States/Territories</text><text x="565" y="316.4" textLength="768.0" lengthAdjust="spacingAndGlyphs">data via Johns Hopkins University</text><text x="486" y="374.8" textLength="926.7" lengthAdjust="spacingAndGlyphs">chart via Charles Gaba / ACASignups.net</text></g></svg>
</body></html>
